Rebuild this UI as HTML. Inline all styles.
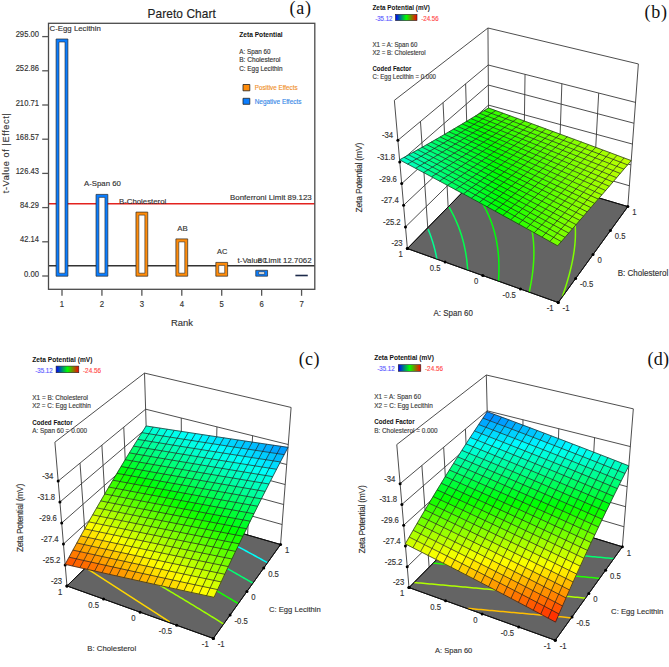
<!DOCTYPE html>
<html><head><meta charset="utf-8"><style>
html,body{margin:0;padding:0;background:#fff;width:669px;height:667px;overflow:hidden}
svg{display:block}
</style></head><body>
<svg width="669" height="667" viewBox="0 0 669 667">
<rect width="669" height="667" fill="#fff"/>
<line x1="48.5" y1="203.67" x2="314.8" y2="203.67" stroke="#e3231f" stroke-width="1.5"/>
<line x1="48.5" y1="265.69" x2="314.8" y2="265.69" stroke="#333" stroke-width="1.5"/>
<polygon points="56.1,39 67.9,39 67.9,276.2 56.1,276.2" fill="#0a7dff" stroke="#2a2a2a" stroke-width="0.7"/>
<polygon points="59,42 65,42 65,273.2 59,273.2" fill="#ffffff" stroke="#2a2a2a" stroke-width="0.6"/>
<polygon points="96.03,194.4 107.83,194.4 107.83,276.2 96.03,276.2" fill="#0a7dff" stroke="#2a2a2a" stroke-width="0.7"/>
<polygon points="98.93,197.4 104.93,197.4 104.93,273.2 98.93,273.2" fill="#ffffff" stroke="#2a2a2a" stroke-width="0.6"/>
<polygon points="135.96,212.1 147.76,212.1 147.76,276.2 135.96,276.2" fill="#ff8c0a" stroke="#2a2a2a" stroke-width="0.7"/>
<polygon points="138.86,215.1 144.86,215.1 144.86,273.2 138.86,273.2" fill="#ffffff" stroke="#2a2a2a" stroke-width="0.6"/>
<polygon points="175.89,238.9 187.69,238.9 187.69,276.2 175.89,276.2" fill="#ff8c0a" stroke="#2a2a2a" stroke-width="0.7"/>
<polygon points="178.79,241.9 184.79,241.9 184.79,273.2 178.79,273.2" fill="#ffffff" stroke="#2a2a2a" stroke-width="0.6"/>
<polygon points="215.82,262.4 227.62,262.4 227.62,276.2 215.82,276.2" fill="#ff8c0a" stroke="#2a2a2a" stroke-width="0.7"/>
<polygon points="218.72,265.4 224.72,265.4 224.72,273.2 218.72,273.2" fill="#ffffff" stroke="#2a2a2a" stroke-width="0.6"/>
<polygon points="255.75,270.3 267.55,270.3 267.55,276.2 255.75,276.2" fill="#0a7dff" stroke="#2a2a2a" stroke-width="0.7"/>
<polygon points="258.65,271.9 264.65,271.9 264.65,274.2 258.65,274.2" fill="#ffffff" stroke="#2a2a2a" stroke-width="0.6"/>
<line x1="295.38" y1="275.5" x2="307.78" y2="275.5" stroke="#1c2a4a" stroke-width="1.6"/>
<rect x="48.5" y="23.3" width="266.3" height="266" fill="none" stroke="#4a4a4a" stroke-width="1.3"/>
<line x1="42.2" y1="276" x2="48.5" y2="276" stroke="#555" stroke-width="1.3"/>
<text transform="translate(39,276.6) scale(0.94,1)" font-family="Liberation Sans, sans-serif" font-size="8.2" font-weight="normal" fill="#333" text-anchor="end" textLength="16.01" lengthAdjust="spacing" stroke="#333" stroke-width="0.15">0.00</text>
<line x1="42.2" y1="241.8" x2="48.5" y2="241.8" stroke="#555" stroke-width="1.3"/>
<text transform="translate(39,242.4) scale(0.92,1)" font-family="Liberation Sans, sans-serif" font-size="8.2" font-weight="normal" fill="#333" text-anchor="end" textLength="20.59" lengthAdjust="spacing" stroke="#333" stroke-width="0.15">42.14</text>
<line x1="42.2" y1="207.6" x2="48.5" y2="207.6" stroke="#555" stroke-width="1.3"/>
<text transform="translate(39,208.2) scale(0.92,1)" font-family="Liberation Sans, sans-serif" font-size="8.2" font-weight="normal" fill="#333" text-anchor="end" textLength="20.59" lengthAdjust="spacing" stroke="#333" stroke-width="0.15">84.29</text>
<line x1="42.2" y1="173.4" x2="48.5" y2="173.4" stroke="#555" stroke-width="1.3"/>
<text transform="translate(39,174) scale(0.93,1)" font-family="Liberation Sans, sans-serif" font-size="8.2" font-weight="normal" fill="#333" text-anchor="end" textLength="25.14" lengthAdjust="spacing" stroke="#333" stroke-width="0.15">126.43</text>
<line x1="42.2" y1="139.2" x2="48.5" y2="139.2" stroke="#555" stroke-width="1.3"/>
<text transform="translate(39,139.8) scale(0.93,1)" font-family="Liberation Sans, sans-serif" font-size="8.2" font-weight="normal" fill="#333" text-anchor="end" textLength="25.14" lengthAdjust="spacing" stroke="#333" stroke-width="0.15">168.57</text>
<line x1="42.2" y1="105" x2="48.5" y2="105" stroke="#555" stroke-width="1.3"/>
<text transform="translate(39,105.6) scale(0.93,1)" font-family="Liberation Sans, sans-serif" font-size="8.2" font-weight="normal" fill="#333" text-anchor="end" textLength="25.14" lengthAdjust="spacing" stroke="#333" stroke-width="0.15">210.71</text>
<line x1="42.2" y1="70.8" x2="48.5" y2="70.8" stroke="#555" stroke-width="1.3"/>
<text transform="translate(39,71.4) scale(0.93,1)" font-family="Liberation Sans, sans-serif" font-size="8.2" font-weight="normal" fill="#333" text-anchor="end" textLength="25.14" lengthAdjust="spacing" stroke="#333" stroke-width="0.15">252.86</text>
<line x1="42.2" y1="36.6" x2="48.5" y2="36.6" stroke="#555" stroke-width="1.3"/>
<text transform="translate(39,37.2) scale(0.93,1)" font-family="Liberation Sans, sans-serif" font-size="8.2" font-weight="normal" fill="#333" text-anchor="end" textLength="25.14" lengthAdjust="spacing" stroke="#333" stroke-width="0.15">295.00</text>
<line x1="62" y1="289.3" x2="62" y2="295.8" stroke="#555" stroke-width="1.3"/>
<text transform="translate(62,306.9) scale(0.95,1)" font-family="Liberation Sans, sans-serif" font-size="8.2" font-weight="normal" fill="#333" text-anchor="middle" stroke="#333" stroke-width="0.15">1</text>
<line x1="101.93" y1="289.3" x2="101.93" y2="295.8" stroke="#555" stroke-width="1.3"/>
<text transform="translate(101.93,306.9) scale(0.95,1)" font-family="Liberation Sans, sans-serif" font-size="8.2" font-weight="normal" fill="#333" text-anchor="middle" stroke="#333" stroke-width="0.15">2</text>
<line x1="141.86" y1="289.3" x2="141.86" y2="295.8" stroke="#555" stroke-width="1.3"/>
<text transform="translate(141.86,306.9) scale(0.95,1)" font-family="Liberation Sans, sans-serif" font-size="8.2" font-weight="normal" fill="#333" text-anchor="middle" stroke="#333" stroke-width="0.15">3</text>
<line x1="181.79" y1="289.3" x2="181.79" y2="295.8" stroke="#555" stroke-width="1.3"/>
<text transform="translate(181.79,306.9) scale(0.95,1)" font-family="Liberation Sans, sans-serif" font-size="8.2" font-weight="normal" fill="#333" text-anchor="middle" stroke="#333" stroke-width="0.15">4</text>
<line x1="221.72" y1="289.3" x2="221.72" y2="295.8" stroke="#555" stroke-width="1.3"/>
<text transform="translate(221.72,306.9) scale(0.95,1)" font-family="Liberation Sans, sans-serif" font-size="8.2" font-weight="normal" fill="#333" text-anchor="middle" stroke="#333" stroke-width="0.15">5</text>
<line x1="261.65" y1="289.3" x2="261.65" y2="295.8" stroke="#555" stroke-width="1.3"/>
<text transform="translate(261.65,306.9) scale(0.95,1)" font-family="Liberation Sans, sans-serif" font-size="8.2" font-weight="normal" fill="#333" text-anchor="middle" stroke="#333" stroke-width="0.15">6</text>
<line x1="301.58" y1="289.3" x2="301.58" y2="295.8" stroke="#555" stroke-width="1.3"/>
<text transform="translate(301.58,306.9) scale(0.95,1)" font-family="Liberation Sans, sans-serif" font-size="8.2" font-weight="normal" fill="#333" text-anchor="middle" stroke="#333" stroke-width="0.15">7</text>
<text transform="translate(147.5,17.9)" font-family="Liberation Sans, sans-serif" font-size="11.9" font-weight="normal" fill="#222" text-anchor="start" textLength="68.39" lengthAdjust="spacing" stroke="#222" stroke-width="0.15">Pareto Chart</text>
<text transform="translate(170.9,326.4) scale(0.96,1)" font-family="Liberation Sans, sans-serif" font-size="9.8" font-weight="normal" fill="#333" text-anchor="start" textLength="22.91" lengthAdjust="spacing" stroke="#333" stroke-width="0.15">Rank</text>
<text transform="translate(8.7,153.2) rotate(-90)" x="0" y="0" font-family="Liberation Sans, sans-serif" font-size="9.2" fill="#333" stroke="#333" stroke-width="0.12" text-anchor="middle" textLength="80" lengthAdjust="spacing">t-Value of |Effect|</text>
<text transform="translate(289.4,13.9)" font-family="Liberation Serif, serif" font-size="18" font-weight="normal" fill="#111" text-anchor="start" textLength="21.6" lengthAdjust="spacing">(a)</text>
<text transform="translate(49.6,30.8)" font-family="Liberation Sans, sans-serif" font-size="7.8" font-weight="normal" fill="#333" text-anchor="start" textLength="51.18" lengthAdjust="spacing" stroke="#333" stroke-width="0.15">C-Egg Lecithin</text>
<text transform="translate(84,186.4)" font-family="Liberation Sans, sans-serif" font-size="7.8" font-weight="normal" fill="#333" text-anchor="start" textLength="36.88" lengthAdjust="spacing" stroke="#333" stroke-width="0.15">A-Span 60</text>
<text transform="translate(119,203.9)" font-family="Liberation Sans, sans-serif" font-size="7.8" font-weight="normal" fill="#333" text-anchor="start" textLength="47.28" lengthAdjust="spacing" stroke="#333" stroke-width="0.15">B-Cholesterol</text>
<text transform="translate(177.2,231.2) scale(1,1)" font-family="Liberation Sans, sans-serif" font-size="7.8" font-weight="normal" fill="#333" text-anchor="start" textLength="10.41" lengthAdjust="spacing" stroke="#333" stroke-width="0.15">AB</text>
<text transform="translate(217.1,254.1) scale(0.95,1)" font-family="Liberation Sans, sans-serif" font-size="7.8" font-weight="normal" fill="#333" text-anchor="start" textLength="10.87" lengthAdjust="spacing" stroke="#333" stroke-width="0.15">AC</text>
<text transform="translate(230,199.9)" font-family="Liberation Sans, sans-serif" font-size="7.9" font-weight="normal" fill="#333" text-anchor="start" textLength="81.69" lengthAdjust="spacing" stroke="#333" stroke-width="0.15">Bonferroni Limit 89.123</text>
<text transform="translate(237.6,262.6) scale(0.99,1)" font-family="Liberation Sans, sans-serif" font-size="7.9" font-weight="normal" fill="#333" text-anchor="start" textLength="74.66" lengthAdjust="spacing" stroke="#333" stroke-width="0.15">t-Value Limit 12.7062</text>
<text transform="translate(257.7,262.9) scale(0.86,1)" font-family="Liberation Sans, sans-serif" font-size="7.8" font-weight="normal" fill="#333" text-anchor="start" textLength="10.97" lengthAdjust="spacing" stroke="#333" stroke-width="0.15">BC</text>
<text transform="translate(239.2,37.3) scale(0.92,1)" font-family="Liberation Sans, sans-serif" font-size="7.2" font-weight="bold" fill="#111" text-anchor="start" textLength="47.27" lengthAdjust="spacing">Zeta Potential</text>
<text transform="translate(239.2,54) scale(0.9,1)" font-family="Liberation Sans, sans-serif" font-size="7" font-weight="normal" fill="#333" text-anchor="start" textLength="34.72" lengthAdjust="spacing" stroke="#333" stroke-width="0.15">A: Span 60</text>
<text transform="translate(239.2,62.3) scale(0.94,1)" font-family="Liberation Sans, sans-serif" font-size="7" font-weight="normal" fill="#333" text-anchor="start" textLength="44.01" lengthAdjust="spacing" stroke="#333" stroke-width="0.15">B: Cholesterol</text>
<text transform="translate(239.2,70.6) scale(0.91,1)" font-family="Liberation Sans, sans-serif" font-size="7" font-weight="normal" fill="#333" text-anchor="start" textLength="47.54" lengthAdjust="spacing" stroke="#333" stroke-width="0.15">C: Egg Lecithin</text>
<polygon points="243,84.5 249.8,84.5 249.8,90.8 243,90.8" fill="#ff8c0a" stroke="#222" stroke-width="0.8"/>
<polygon points="243,98.3 249.8,98.3 249.8,104.3 243,104.3" fill="#0a7dff" stroke="#222" stroke-width="0.8"/>
<text transform="translate(254.7,89.8) scale(0.98,1)" font-family="Liberation Sans, sans-serif" font-size="6.4" font-weight="normal" fill="#f0902a" text-anchor="start" textLength="43.77" lengthAdjust="spacing" stroke="#f0902a" stroke-width="0.15">Positive Effects</text>
<text transform="translate(254.7,103.7)" font-family="Liberation Sans, sans-serif" font-size="6.4" font-weight="normal" fill="#3a8ae8" text-anchor="start" textLength="46.74" lengthAdjust="spacing" stroke="#3a8ae8" stroke-width="0.15">Negative Effects</text>
<line x1="394.37" y1="100.34" x2="487.96" y2="28" stroke="#3a3a3a" stroke-width="0.9"/>
<line x1="405.48" y1="226.91" x2="488.75" y2="145.22" stroke="#3a3a3a" stroke-width="0.9"/>
<line x1="403.58" y1="205.26" x2="488.62" y2="125.17" stroke="#3a3a3a" stroke-width="0.9"/>
<line x1="401.68" y1="183.61" x2="488.48" y2="105.11" stroke="#3a3a3a" stroke-width="0.9"/>
<line x1="399.78" y1="161.95" x2="488.34" y2="85.06" stroke="#3a3a3a" stroke-width="0.9"/>
<line x1="397.88" y1="140.3" x2="488.21" y2="65.01" stroke="#3a3a3a" stroke-width="0.9"/>
<line x1="427.76" y1="227.74" x2="420.46" y2="121.48" stroke="#3a3a3a" stroke-width="0.9"/>
<line x1="448.13" y1="206.92" x2="443.04" y2="102.65" stroke="#3a3a3a" stroke-width="0.9"/>
<line x1="468.51" y1="186.1" x2="465.62" y2="83.83" stroke="#3a3a3a" stroke-width="0.9"/>
<line x1="407.38" y1="248.57" x2="394.37" y2="100.34" stroke="#3a3a3a" stroke-width="0.9"/>
<line x1="488.89" y1="165.27" x2="487.96" y2="28" stroke="#3a3a3a" stroke-width="0.9"/>
<line x1="487.96" y1="28" x2="638.36" y2="63.95" stroke="#3a3a3a" stroke-width="0.9"/>
<line x1="488.75" y1="145.22" x2="629.37" y2="185.74" stroke="#3a3a3a" stroke-width="0.9"/>
<line x1="488.62" y1="125.17" x2="630.91" y2="164.9" stroke="#3a3a3a" stroke-width="0.9"/>
<line x1="488.48" y1="105.11" x2="632.44" y2="144.07" stroke="#3a3a3a" stroke-width="0.9"/>
<line x1="488.34" y1="85.06" x2="633.98" y2="123.23" stroke="#3a3a3a" stroke-width="0.9"/>
<line x1="488.21" y1="65.01" x2="635.52" y2="102.4" stroke="#3a3a3a" stroke-width="0.9"/>
<line x1="523.62" y1="175.6" x2="525.04" y2="74.35" stroke="#3a3a3a" stroke-width="0.9"/>
<line x1="558.36" y1="185.92" x2="561.87" y2="83.7" stroke="#3a3a3a" stroke-width="0.9"/>
<line x1="593.09" y1="196.25" x2="598.69" y2="93.05" stroke="#3a3a3a" stroke-width="0.9"/>
<line x1="627.83" y1="206.57" x2="638.36" y2="63.95" stroke="#3a3a3a" stroke-width="0.9"/>
<polygon points="407.38,248.57 558.2,302.54 627.83,206.57 488.89,165.27" fill="#646464" stroke="#111" stroke-width="1" stroke-linejoin="round"/>
<defs><clipPath id="fcb"><polygon points="407.38,248.57 558.2,302.54 627.83,206.57 488.89,165.27"/></clipPath></defs>
<polyline points="436.91,259.14 436.62,257.61 436.31,256.07 435.98,254.53 435.64,252.99 435.28,251.44 434.9,249.89 434.51,248.34 434.09,246.78 433.66,245.21 433.2,243.64 432.73,242.07 432.23,240.48 431.71,238.9 431.17,237.31 430.61,235.71 430.03,234.11 429.42,232.5 428.79,230.89 428.13,229.27" fill="none" stroke="#00ff91" stroke-width="1.5"/>
<polyline points="467.68,270.15 467.58,268.66 467.47,267.18 467.35,265.69 467.21,264.2 467.06,262.7 466.89,261.21 466.71,259.7 466.52,258.2 466.3,256.69 466.07,255.17 465.83,253.65 465.56,252.13 465.28,250.6 464.98,249.07 464.66,247.53 464.33,245.99 463.97,244.45 463.6,242.9 463.2,241.34 462.79,239.78 462.35,238.21 461.89,236.64 461.41,235.07 460.9,233.48 460.37,231.89 459.82,230.3 459.24,228.7 458.64,227.09 458.01,225.48 457.35,223.86 456.67,222.23 455.95,220.6 455.21,218.95 454.43,217.3 453.63,215.65 452.79,213.98 451.92,212.31 451.02,210.63 450.08,208.94 449.1,207.24" fill="none" stroke="#00ff4d" stroke-width="1.5"/>
<polyline points="498.45,281.16 498.55,279.72 498.64,278.29 498.72,276.85 498.79,275.41 498.84,273.96 498.89,272.52 498.92,271.07 498.94,269.62 498.95,268.16 498.94,266.7 498.93,265.24 498.89,263.77 498.85,262.31 498.79,260.83 498.72,259.36 498.63,257.88 498.52,256.39 498.41,254.91 498.27,253.42 498.12,251.92 497.95,250.42 497.77,248.92 497.56,247.41 497.34,245.9 497.1,244.38 496.84,242.86 496.57,241.33 496.27,239.8 495.95,238.26 495.61,236.72 495.24,235.17 494.86,233.62 494.45,232.06 494.02,230.5 493.56,228.93 493.08,227.35 492.57,225.77 492.04,224.18 491.47,222.58 490.88,220.98 490.26,219.36 489.61,217.74 488.93,216.12 488.21,214.48 487.46,212.84 486.68,211.19 485.86,209.53 485.01,207.86 484.11,206.18 483.18,204.49 482.21,202.79 481.19,201.08 480.13,199.36 479.02,197.63 477.87,195.89 476.67,194.13 475.42,192.36 474.11,190.58 472.75,188.79 471.34,186.98 469.86,185.16" fill="none" stroke="#00ff09" stroke-width="1.5"/>
<polyline points="529.22,292.17 529.51,290.78 529.8,289.4 530.08,288.01 530.36,286.62 530.62,285.23 530.88,283.83 531.13,282.43 531.36,281.04 531.59,279.63 531.81,278.23 532.02,276.83 532.23,275.42 532.42,274.01 532.6,272.6 532.77,271.18 532.93,269.76 533.08,268.34 533.21,266.92 533.34,265.49 533.45,264.06 533.55,262.63 533.64,261.19 533.72,259.75 533.78,258.31 533.83,256.87 533.87,255.42 533.89,253.97 533.9,252.51 533.89,251.05 533.86,249.59 533.82,248.12 533.77,246.65 533.69,245.17 533.6,243.69 533.5,242.21 533.37,240.72 533.22,239.22 533.06,237.73 532.87,236.22 532.67,234.71 532.44,233.2 532.19,231.68 531.92,230.15 531.62,228.62 531.3,227.09 530.96,225.54 530.59,223.99 530.19,222.44 529.76,220.87 529.31,219.3 528.82,217.73 528.31,216.14 527.76,214.55 527.18,212.95 526.57,211.34 525.92,209.72 525.23,208.09 524.51,206.45 523.74,204.81 522.94,203.15 522.09,201.48 521.19,199.8 520.26,198.11 519.27,196.41 518.23,194.7 517.14,192.97 515.99,191.23 514.79,189.47 513.53,187.7 512.2,185.91 510.81,184.11 509.35,182.29 507.82,180.46 506.22,178.6 504.53,176.73 502.77,174.83 500.92,172.92 498.97,170.98 496.93,169.01 494.79,167.03" fill="none" stroke="#3bff00" stroke-width="1.5"/>
<polyline points="562.4,296.49 562.87,295.14 563.33,293.8 563.79,292.46 564.24,291.11 564.68,289.76 565.12,288.41 565.56,287.06 565.98,285.71 566.4,284.36 566.82,283 567.23,281.65 567.63,280.29 568.02,278.93 568.41,277.56 568.78,276.2 569.16,274.84 569.52,273.47 569.87,272.1 570.22,270.73 570.56,269.35 570.89,267.98 571.21,266.6 571.52,265.22 571.83,263.84 572.12,262.45 572.4,261.06 572.68,259.67 572.94,258.28 573.19,256.88 573.43,255.49 573.66,254.09 573.87,252.68 574.08,251.27 574.27,249.86 574.45,248.45 574.62,247.03 574.77,245.61 574.91,244.19 575.03,242.76 575.14,241.33 575.23,239.9 575.31,238.46 575.37,237.02 575.41,235.57 575.43,234.12 575.44,232.66 575.43,231.2 575.39,229.73 575.34,228.26 575.26,226.79 575.17,225.31 575.05,223.82 574.9,222.32 574.73,220.82 574.54,219.32 574.32,217.81 574.07,216.29 573.79,214.76 573.48,213.23 573.14,211.68 572.77,210.13 572.36,208.58 571.92,207.01 571.44,205.43 570.92,203.85 570.36,202.25 569.76,200.64 569.11,199.03 568.42,197.4 567.67,195.75 566.88,194.1 566.03,192.43 565.13,190.75 564.16,189.05 563.14,187.34" fill="none" stroke="#7fff00" stroke-width="1.5"/>
<polygon points="407.38,248.57 558.2,302.54 627.83,206.57 488.89,165.27" fill="none" stroke="#111" stroke-width="1" stroke-linejoin="round"/>
<circle cx="407.38" cy="248.57" r="1.5" fill="#000"/>
<circle cx="627.83" cy="206.57" r="1.5" fill="#000"/>
<circle cx="445.09" cy="262.06" r="1.5" fill="#000"/>
<circle cx="610.42" cy="230.56" r="1.5" fill="#000"/>
<circle cx="482.79" cy="275.55" r="1.5" fill="#000"/>
<circle cx="593.02" cy="254.56" r="1.5" fill="#000"/>
<circle cx="520.5" cy="289.05" r="1.5" fill="#000"/>
<circle cx="575.61" cy="278.55" r="1.5" fill="#000"/>
<circle cx="558.2" cy="302.54" r="1.5" fill="#000"/>
<circle cx="558.2" cy="302.54" r="1.5" fill="#000"/>
<circle cx="407.38" cy="248.57" r="1.5" fill="#000"/>
<circle cx="405.48" cy="226.91" r="1.5" fill="#000"/>
<circle cx="403.58" cy="205.26" r="1.5" fill="#000"/>
<circle cx="401.68" cy="183.61" r="1.5" fill="#000"/>
<circle cx="399.78" cy="161.95" r="1.5" fill="#000"/>
<circle cx="397.88" cy="140.3" r="1.5" fill="#000"/>
<g stroke-width="0.45" stroke-linejoin="round">
<polygon points="491.38,113.34 484.16,110.65 488.5,107.97 495.69,110.57" fill="#32ff00" stroke="#32ff00"/>
<polygon points="498.6,116.03 491.38,113.34 495.69,110.57 502.87,113.18" fill="#3aff00" stroke="#3aff00"/>
<polygon points="487.07,116.09 479.81,113.33 484.16,110.65 491.38,113.34" fill="#25ff00" stroke="#25ff00"/>
<polygon points="505.82,118.72 498.6,116.03 502.87,113.18 510.05,115.8" fill="#41ff00" stroke="#41ff00"/>
<polygon points="494.33,118.86 487.07,116.09 491.38,113.34 498.6,116.03" fill="#2dff00" stroke="#2dff00"/>
<polygon points="482.75,118.84 475.44,116 479.81,113.33 487.07,116.09" fill="#19ff00" stroke="#19ff00"/>
<polygon points="513.03,121.41 505.82,118.72 510.05,115.8 517.22,118.41" fill="#48ff00" stroke="#48ff00"/>
<polygon points="501.58,121.63 494.33,118.86 498.6,116.03 505.82,118.72" fill="#35ff00" stroke="#35ff00"/>
<polygon points="490.04,121.69 482.75,118.84 487.07,116.09 494.33,118.86" fill="#21ff00" stroke="#21ff00"/>
<polygon points="478.41,121.58 471.07,118.65 475.44,116 482.75,118.84" fill="#0cff00" stroke="#0cff00"/>
<polygon points="520.23,124.11 513.03,121.41 517.22,118.41 524.39,121.03" fill="#4fff00" stroke="#4fff00"/>
<polygon points="508.83,124.4 501.58,121.63 505.82,118.72 513.03,121.41" fill="#3cff00" stroke="#3cff00"/>
<polygon points="497.33,124.54 490.04,121.69 494.33,118.86 501.58,121.63" fill="#29ff00" stroke="#29ff00"/>
<polygon points="485.75,124.5 478.41,121.58 482.75,118.84 490.04,121.69" fill="#14ff00" stroke="#14ff00"/>
<polygon points="474.06,124.3 466.68,121.3 471.07,118.65 478.41,121.58" fill="#00ff01" stroke="#00ff01"/>
<polygon points="527.43,126.81 520.23,124.11 524.39,121.03 531.55,123.65" fill="#56ff00" stroke="#56ff00"/>
<polygon points="516.07,127.18 508.83,124.4 513.03,121.41 520.23,124.11" fill="#44ff00" stroke="#44ff00"/>
<polygon points="504.62,127.39 497.33,124.54 501.58,121.63 508.83,124.4" fill="#31ff00" stroke="#31ff00"/>
<polygon points="493.08,127.43 485.75,124.5 490.04,121.69 497.33,124.54" fill="#1dff00" stroke="#1dff00"/>
<polygon points="481.44,127.31 474.06,124.3 478.41,121.58 485.75,124.5" fill="#08ff00" stroke="#08ff00"/>
<polygon points="469.71,127.02 462.29,123.94 466.68,121.3 474.06,124.3" fill="#00ff0e" stroke="#00ff0e"/>
<polygon points="511.89,130.24 504.62,127.39 508.83,124.4 516.07,127.18" fill="#39ff00" stroke="#39ff00"/>
<polygon points="500.4,130.36 493.08,127.43 497.33,124.54 504.62,127.39" fill="#25ff00" stroke="#25ff00"/>
<polygon points="488.81,130.32 481.44,127.31 485.75,124.5 493.08,127.43" fill="#11ff00" stroke="#11ff00"/>
<polygon points="534.62,129.51 527.43,126.81 531.55,123.65 538.7,126.27" fill="#5dff00" stroke="#5dff00"/>
<polygon points="523.3,129.96 516.07,127.18 520.23,124.11 527.43,126.81" fill="#4cff00" stroke="#4cff00"/>
<polygon points="477.12,130.11 469.71,127.02 474.06,124.3 481.44,127.31" fill="#00ff05" stroke="#00ff05"/>
<polygon points="465.34,129.73 457.88,126.57 462.29,123.94 469.71,127.02" fill="#00ff1b" stroke="#00ff1b"/>
<polygon points="507.71,133.3 500.4,130.36 504.62,127.39 511.89,130.24" fill="#2eff00" stroke="#2eff00"/>
<polygon points="496.17,133.33 488.81,130.32 493.08,127.43 500.4,130.36" fill="#1aff00" stroke="#1aff00"/>
<polygon points="541.8,132.22 534.62,129.51 538.7,126.27 545.85,128.9" fill="#65ff00" stroke="#65ff00"/>
<polygon points="530.53,132.74 523.3,129.96 527.43,126.81 534.62,129.51" fill="#53ff00" stroke="#53ff00"/>
<polygon points="519.16,133.1 511.89,130.24 516.07,127.18 523.3,129.96" fill="#41ff00" stroke="#41ff00"/>
<polygon points="484.53,133.2 477.12,130.11 481.44,127.31 488.81,130.32" fill="#05ff00" stroke="#05ff00"/>
<polygon points="472.8,132.9 465.34,129.73 469.71,127.02 477.12,130.11" fill="#00ff11" stroke="#00ff11"/>
<polygon points="460.96,132.43 453.46,129.18 457.88,126.57 465.34,129.73" fill="#00ff28" stroke="#00ff28"/>
<polygon points="548.98,134.92 541.8,132.22 545.85,128.9 553,131.53" fill="#6cff00" stroke="#6cff00"/>
<polygon points="537.75,135.53 530.53,132.74 534.62,129.51 541.8,132.22" fill="#5bff00" stroke="#5bff00"/>
<polygon points="526.43,135.97 519.16,133.1 523.3,129.96 530.53,132.74" fill="#49ff00" stroke="#49ff00"/>
<polygon points="515.02,136.24 507.71,133.3 511.89,130.24 519.16,133.1" fill="#37ff00" stroke="#37ff00"/>
<polygon points="503.52,136.35 496.17,133.33 500.4,130.36 507.71,133.3" fill="#23ff00" stroke="#23ff00"/>
<polygon points="491.93,136.29 484.53,133.2 488.81,130.32 496.17,133.33" fill="#0fff00" stroke="#0fff00"/>
<polygon points="480.24,136.07 472.8,132.9 477.12,130.11 484.53,133.2" fill="#00ff07" stroke="#00ff07"/>
<polygon points="468.46,135.68 460.96,132.43 465.34,129.73 472.8,132.9" fill="#00ff1e" stroke="#00ff1e"/>
<polygon points="456.58,135.12 449.03,131.79 453.46,129.18 460.96,132.43" fill="#00ff35" stroke="#00ff35"/>
<polygon points="556.16,137.63 548.98,134.92 553,131.53 560.13,134.16" fill="#73ff00" stroke="#73ff00"/>
<polygon points="544.96,138.31 537.75,135.53 541.8,132.22 548.98,134.92" fill="#63ff00" stroke="#63ff00"/>
<polygon points="533.69,138.83 526.43,135.97 530.53,132.74 537.75,135.53" fill="#52ff00" stroke="#52ff00"/>
<polygon points="522.32,139.18 515.02,136.24 519.16,133.1 526.43,135.97" fill="#3fff00" stroke="#3fff00"/>
<polygon points="510.87,139.37 503.52,136.35 507.71,133.3 515.02,136.24" fill="#2cff00" stroke="#2cff00"/>
<polygon points="499.32,139.39 491.93,136.29 496.17,133.33 503.52,136.35" fill="#18ff00" stroke="#18ff00"/>
<polygon points="487.68,139.24 480.24,136.07 484.53,133.2 491.93,136.29" fill="#03ff00" stroke="#03ff00"/>
<polygon points="475.95,138.93 468.46,135.68 472.8,132.9 480.24,136.07" fill="#00ff13" stroke="#00ff13"/>
<polygon points="464.11,138.45 456.58,135.12 460.96,132.43 468.46,135.68" fill="#00ff2a" stroke="#00ff2a"/>
<polygon points="452.18,137.8 444.59,134.39 449.03,131.79 456.58,135.12" fill="#00ff42" stroke="#00ff42"/>
<polygon points="552.17,141.1 544.96,138.31 548.98,134.92 556.16,137.63" fill="#6aff00" stroke="#6aff00"/>
<polygon points="540.94,141.7 533.69,138.83 537.75,135.53 544.96,138.31" fill="#5aff00" stroke="#5aff00"/>
<polygon points="529.61,142.13 522.32,139.18 526.43,135.97 533.69,138.83" fill="#48ff00" stroke="#48ff00"/>
<polygon points="518.21,142.39 510.87,139.37 515.02,136.24 522.32,139.18" fill="#35ff00" stroke="#35ff00"/>
<polygon points="495.11,142.42 487.68,139.24 491.93,136.29 499.32,139.39" fill="#0dff00" stroke="#0dff00"/>
<polygon points="483.43,142.18 475.95,138.93 480.24,136.07 487.68,139.24" fill="#00ff08" stroke="#00ff08"/>
<polygon points="471.64,141.78 464.11,138.45 468.46,135.68 475.95,138.93" fill="#00ff1f" stroke="#00ff1f"/>
<polygon points="459.76,141.21 452.18,137.8 456.58,135.12 464.11,138.45" fill="#00ff36" stroke="#00ff36"/>
<polygon points="563.32,140.35 556.16,137.63 560.13,134.16 567.27,136.79" fill="#7aff00" stroke="#7aff00"/>
<polygon points="506.71,142.49 499.32,139.39 503.52,136.35 510.87,139.37" fill="#22ff00" stroke="#22ff00"/>
<polygon points="447.77,140.47 440.14,136.98 444.59,134.39 452.18,137.8" fill="#00ff4f" stroke="#00ff4f"/>
<polygon points="570.49,143.06 563.32,140.35 567.27,136.79 574.4,139.43" fill="#81ff00" stroke="#81ff00"/>
<polygon points="559.37,143.9 552.17,141.1 556.16,137.63 563.32,140.35" fill="#72ff00" stroke="#72ff00"/>
<polygon points="548.18,144.57 540.94,141.7 544.96,138.31 552.17,141.1" fill="#62ff00" stroke="#62ff00"/>
<polygon points="536.9,145.08 529.61,142.13 533.69,138.83 540.94,141.7" fill="#51ff00" stroke="#51ff00"/>
<polygon points="525.54,145.42 518.21,142.39 522.32,139.18 529.61,142.13" fill="#3eff00" stroke="#3eff00"/>
<polygon points="490.9,145.44 483.43,142.18 487.68,139.24 495.11,142.42" fill="#02ff00" stroke="#02ff00"/>
<polygon points="479.16,145.12 471.64,141.78 475.95,138.93 483.43,142.18" fill="#00ff14" stroke="#00ff14"/>
<polygon points="467.33,144.62 459.76,141.21 464.11,138.45 471.64,141.78" fill="#00ff2b" stroke="#00ff2b"/>
<polygon points="455.39,143.96 447.77,140.47 452.18,137.8 459.76,141.21" fill="#00ff43" stroke="#00ff43"/>
<polygon points="443.35,143.13 435.68,139.55 440.14,136.98 447.77,140.47" fill="#00ff5c" stroke="#00ff5c"/>
<polygon points="514.08,145.59 506.71,142.49 510.87,139.37 518.21,142.39" fill="#2bff00" stroke="#2bff00"/>
<polygon points="502.54,145.6 495.11,142.42 499.32,139.39 506.71,142.49" fill="#17ff00" stroke="#17ff00"/>
<polygon points="544.18,148.03 536.9,145.08 540.94,141.7 548.18,144.57" fill="#59ff00" stroke="#59ff00"/>
<polygon points="532.86,148.45 525.54,145.42 529.61,142.13 536.9,145.08" fill="#48ff00" stroke="#48ff00"/>
<polygon points="486.67,148.46 479.16,145.12 483.43,142.18 490.9,145.44" fill="#00ff09" stroke="#00ff09"/>
<polygon points="474.89,148.04 467.33,144.62 471.64,141.78 479.16,145.12" fill="#00ff1f" stroke="#00ff1f"/>
<polygon points="577.64,145.78 570.49,143.06 574.4,139.43 581.52,142.06" fill="#88ff00" stroke="#88ff00"/>
<polygon points="566.57,146.69 559.37,143.9 563.32,140.35 570.49,143.06" fill="#7aff00" stroke="#7aff00"/>
<polygon points="555.42,147.44 548.18,144.57 552.17,141.1 559.37,143.9" fill="#6aff00" stroke="#6aff00"/>
<polygon points="521.45,148.7 514.08,145.59 518.21,142.39 525.54,145.42" fill="#35ff00" stroke="#35ff00"/>
<polygon points="509.95,148.79 502.54,145.6 506.71,142.49 514.08,145.59" fill="#21ff00" stroke="#21ff00"/>
<polygon points="498.36,148.7 490.9,145.44 495.11,142.42 502.54,145.6" fill="#0dff00" stroke="#0dff00"/>
<polygon points="463,147.45 455.39,143.96 459.76,141.21 467.33,144.62" fill="#00ff37" stroke="#00ff37"/>
<polygon points="451.01,146.7 443.35,143.13 447.77,140.47 455.39,143.96" fill="#00ff4f" stroke="#00ff4f"/>
<polygon points="438.92,145.78 431.21,142.12 435.68,139.55 443.35,143.13" fill="#00ff69" stroke="#00ff69"/>
<polygon points="562.65,150.32 555.42,147.44 559.37,143.9 566.57,146.69" fill="#72ff00" stroke="#72ff00"/>
<polygon points="551.45,150.98 544.18,148.03 548.18,144.57 555.42,147.44" fill="#62ff00" stroke="#62ff00"/>
<polygon points="540.18,151.48 532.86,148.45 536.9,145.08 544.18,148.03" fill="#51ff00" stroke="#51ff00"/>
<polygon points="482.44,151.46 474.89,148.04 479.16,145.12 486.67,148.46" fill="#00ff14" stroke="#00ff14"/>
<polygon points="470.6,150.96 463,147.45 467.33,144.62 474.89,148.04" fill="#00ff2b" stroke="#00ff2b"/>
<polygon points="458.66,150.28 451.01,146.7 455.39,143.96 463,147.45" fill="#00ff43" stroke="#00ff43"/>
<polygon points="573.76,149.49 566.57,146.69 570.49,143.06 577.64,145.78" fill="#81ff00" stroke="#81ff00"/>
<polygon points="528.81,151.81 521.45,148.7 525.54,145.42 532.86,148.45" fill="#3fff00" stroke="#3fff00"/>
<polygon points="517.36,151.98 509.95,148.79 514.08,145.59 521.45,148.7" fill="#2bff00" stroke="#2bff00"/>
<polygon points="505.81,151.97 498.36,148.7 502.54,145.6 509.95,148.79" fill="#17ff00" stroke="#17ff00"/>
<polygon points="494.17,151.8 486.67,148.46 490.9,145.44 498.36,148.7" fill="#02ff00" stroke="#02ff00"/>
<polygon points="446.63,149.43 438.92,145.78 443.35,143.13 451.01,146.7" fill="#00ff5c" stroke="#00ff5c"/>
<polygon points="584.79,148.5 577.64,145.78 581.52,142.06 588.64,144.7" fill="#90ff00" stroke="#90ff00"/>
<polygon points="434.48,148.42 426.72,144.68 431.21,142.12 438.92,145.78" fill="#00ff76" stroke="#00ff76"/>
<polygon points="569.87,153.2 562.65,150.32 566.57,146.69 573.76,149.49" fill="#7aff00" stroke="#7aff00"/>
<polygon points="558.72,153.94 551.45,150.98 555.42,147.44 562.65,150.32" fill="#6bff00" stroke="#6bff00"/>
<polygon points="547.49,154.52 540.18,151.48 544.18,148.03 551.45,150.98" fill="#5aff00" stroke="#5aff00"/>
<polygon points="536.16,154.93 528.81,151.81 532.86,148.45 540.18,151.48" fill="#48ff00" stroke="#48ff00"/>
<polygon points="524.76,155.17 517.36,151.98 521.45,148.7 528.81,151.81" fill="#36ff00" stroke="#36ff00"/>
<polygon points="513.26,155.24 505.81,151.97 509.95,148.79 517.36,151.98" fill="#22ff00" stroke="#22ff00"/>
<polygon points="501.66,155.15 494.17,151.8 498.36,148.7 505.81,151.97" fill="#0dff00" stroke="#0dff00"/>
<polygon points="489.98,154.89 482.44,151.46 486.67,148.46 494.17,151.8" fill="#00ff08" stroke="#00ff08"/>
<polygon points="478.19,154.46 470.6,150.96 474.89,148.04 482.44,151.46" fill="#00ff1f" stroke="#00ff1f"/>
<polygon points="466.31,153.86 458.66,150.28 463,147.45 470.6,150.96" fill="#00ff36" stroke="#00ff36"/>
<polygon points="454.32,153.1 446.63,149.43 451.01,146.7 458.66,150.28" fill="#00ff4f" stroke="#00ff4f"/>
<polygon points="591.94,151.23 584.79,148.5 588.64,144.7 595.75,147.35" fill="#97ff00" stroke="#97ff00"/>
<polygon points="580.94,152.3 573.76,149.49 577.64,145.78 584.79,148.5" fill="#89ff00" stroke="#89ff00"/>
<polygon points="442.23,152.16 434.48,148.42 438.92,145.78 446.63,149.43" fill="#00ff68" stroke="#00ff68"/>
<polygon points="430.03,151.05 422.23,147.23 426.72,144.68 434.48,148.42" fill="#00ff83" stroke="#00ff83"/>
<polygon points="554.79,157.56 547.49,154.52 551.45,150.98 558.72,153.94" fill="#63ff00" stroke="#63ff00"/>
<polygon points="473.94,157.45 466.31,153.86 470.6,150.96 478.19,154.46" fill="#00ff2a" stroke="#00ff2a"/>
<polygon points="565.98,156.9 558.72,153.94 562.65,150.32 569.87,153.2" fill="#73ff00" stroke="#73ff00"/>
<polygon points="532.15,158.37 524.76,155.17 528.81,151.81 536.16,154.93" fill="#40ff00" stroke="#40ff00"/>
<polygon points="520.69,158.52 513.26,155.24 517.36,151.98 524.76,155.17" fill="#2cff00" stroke="#2cff00"/>
<polygon points="509.15,158.51 501.66,155.15 505.81,151.97 513.26,155.24" fill="#18ff00" stroke="#18ff00"/>
<polygon points="497.51,158.32 489.98,154.89 494.17,151.8 501.66,155.15" fill="#03ff00" stroke="#03ff00"/>
<polygon points="462,156.76 454.32,153.1 458.66,150.28 466.31,153.86" fill="#00ff42" stroke="#00ff42"/>
<polygon points="588.12,155.1 580.94,152.3 584.79,148.5 591.94,151.23" fill="#91ff00" stroke="#91ff00"/>
<polygon points="577.09,156.08 569.87,153.2 573.76,149.49 580.94,152.3" fill="#82ff00" stroke="#82ff00"/>
<polygon points="543.51,158.04 536.16,154.93 540.18,151.48 547.49,154.52" fill="#52ff00" stroke="#52ff00"/>
<polygon points="485.77,157.97 478.19,154.46 482.44,151.46 489.98,154.89" fill="#00ff13" stroke="#00ff13"/>
<polygon points="449.96,155.9 442.23,152.16 446.63,149.43 454.32,153.1" fill="#00ff5b" stroke="#00ff5b"/>
<polygon points="437.82,154.87 430.03,151.05 434.48,148.42 442.23,152.16" fill="#00ff75" stroke="#00ff75"/>
<polygon points="599.08,153.95 591.94,151.23 595.75,147.35 602.85,149.99" fill="#9eff00" stroke="#9eff00"/>
<polygon points="425.57,153.67 417.72,149.77 422.23,147.23 430.03,151.05" fill="#00ff90" stroke="#00ff90"/>
<polygon points="606.21,156.68 599.08,153.95 602.85,149.99 609.95,152.64" fill="#a5ff00" stroke="#a5ff00"/>
<polygon points="562.08,160.6 554.79,157.56 558.72,153.94 565.98,156.9" fill="#6cff00" stroke="#6cff00"/>
<polygon points="528.12,161.8 520.69,158.52 524.76,155.17 532.15,158.37" fill="#37ff00" stroke="#37ff00"/>
<polygon points="516.62,161.86 509.15,158.51 513.26,155.24 520.69,158.52" fill="#23ff00" stroke="#23ff00"/>
<polygon points="505.03,161.76 497.51,158.32 501.66,155.15 509.15,158.51" fill="#0fff00" stroke="#0fff00"/>
<polygon points="469.68,160.44 462,156.76 466.31,153.86 473.94,157.45" fill="#00ff35" stroke="#00ff35"/>
<polygon points="421.1,156.28 413.2,152.29 417.72,149.77 425.57,153.67" fill="#00ff9d" stroke="#00ff9d"/>
<polygon points="584.3,158.97 577.09,156.08 580.94,152.3 588.12,155.1" fill="#8aff00" stroke="#8aff00"/>
<polygon points="573.23,159.87 565.98,156.9 569.87,153.2 577.09,156.08" fill="#7cff00" stroke="#7cff00"/>
<polygon points="550.85,161.17 543.51,158.04 547.49,154.52 554.79,157.56" fill="#5bff00" stroke="#5bff00"/>
<polygon points="539.53,161.57 532.15,158.37 536.16,154.93 543.51,158.04" fill="#4aff00" stroke="#4aff00"/>
<polygon points="493.34,161.49 485.77,157.97 489.98,154.89 497.51,158.32" fill="#00ff07" stroke="#00ff07"/>
<polygon points="481.56,161.05 473.94,157.45 478.19,154.46 485.77,157.97" fill="#00ff1d" stroke="#00ff1d"/>
<polygon points="457.69,159.65 449.96,155.9 454.32,153.1 462,156.76" fill="#00ff4d" stroke="#00ff4d"/>
<polygon points="445.6,158.7 437.82,154.87 442.23,152.16 449.96,155.9" fill="#00ff67" stroke="#00ff67"/>
<polygon points="595.29,157.91 588.12,155.1 591.94,151.23 599.08,153.95" fill="#98ff00" stroke="#98ff00"/>
<polygon points="433.4,157.58 425.57,153.67 430.03,151.05 437.82,154.87" fill="#00ff81" stroke="#00ff81"/>
<polygon points="602.46,160.72 595.29,157.91 599.08,153.95 606.21,156.68" fill="#a0ff00" stroke="#a0ff00"/>
<polygon points="524.09,165.23 516.62,161.86 520.69,158.52 528.12,161.8" fill="#2fff00" stroke="#2fff00"/>
<polygon points="512.54,165.2 505.03,161.76 509.15,158.51 516.62,161.86" fill="#1aff00" stroke="#1aff00"/>
<polygon points="428.97,160.27 421.1,156.28 425.57,153.67 433.4,157.58" fill="#00ff8e" stroke="#00ff8e"/>
<polygon points="580.48,162.84 573.23,159.87 577.09,156.08 584.3,158.97" fill="#84ff00" stroke="#84ff00"/>
<polygon points="569.37,163.65 562.08,160.6 565.98,156.9 573.23,159.87" fill="#75ff00" stroke="#75ff00"/>
<polygon points="546.9,164.77 539.53,161.57 543.51,158.04 550.85,161.17" fill="#54ff00" stroke="#54ff00"/>
<polygon points="535.54,165.08 528.12,161.8 532.15,158.37 539.53,161.57" fill="#42ff00" stroke="#42ff00"/>
<polygon points="500.91,165.01 493.34,161.49 497.51,158.32 505.03,161.76" fill="#05ff00" stroke="#05ff00"/>
<polygon points="489.17,164.65 481.56,161.05 485.77,157.97 493.34,161.49" fill="#00ff11" stroke="#00ff11"/>
<polygon points="465.41,163.41 457.69,159.65 462,156.76 469.68,160.44" fill="#00ff40" stroke="#00ff40"/>
<polygon points="453.37,162.54 445.6,158.7 449.96,155.9 457.69,159.65" fill="#00ff59" stroke="#00ff59"/>
<polygon points="613.33,159.41 606.21,156.68 609.95,152.64 617.05,155.29" fill="#acff00" stroke="#acff00"/>
<polygon points="591.51,161.86 584.3,158.97 588.12,155.1 595.29,157.91" fill="#93ff00" stroke="#93ff00"/>
<polygon points="558.18,164.29 550.85,161.17 554.79,157.56 562.08,160.6" fill="#65ff00" stroke="#65ff00"/>
<polygon points="477.34,164.11 469.68,160.44 473.94,157.45 481.56,161.05" fill="#00ff28" stroke="#00ff28"/>
<polygon points="441.23,161.49 433.4,157.58 437.82,154.87 445.6,158.7" fill="#00ff73" stroke="#00ff73"/>
<polygon points="416.61,158.88 408.68,154.81 413.2,152.29 421.1,156.28" fill="#00ffaa" stroke="#00ffaa"/>
<polygon points="598.7,164.75 591.51,161.86 595.29,157.91 602.46,160.72" fill="#9bff00" stroke="#9bff00"/>
<polygon points="520.05,168.65 512.54,165.2 516.62,161.86 524.09,165.23" fill="#26ff00" stroke="#26ff00"/>
<polygon points="436.84,164.27 428.97,160.27 433.4,157.58 441.23,161.49" fill="#00ff7f" stroke="#00ff7f"/>
<polygon points="576.65,166.7 569.37,163.65 573.23,159.87 580.48,162.84" fill="#7eff00" stroke="#7eff00"/>
<polygon points="542.95,168.37 535.54,165.08 539.53,161.57 546.9,164.77" fill="#4cff00" stroke="#4cff00"/>
<polygon points="531.54,168.59 524.09,165.23 528.12,161.8 535.54,165.08" fill="#3aff00" stroke="#3aff00"/>
<polygon points="508.46,168.53 500.91,165.01 505.03,161.76 512.54,165.2" fill="#11ff00" stroke="#11ff00"/>
<polygon points="496.77,168.25 489.17,164.65 493.34,161.49 500.91,165.01" fill="#00ff04" stroke="#00ff04"/>
<polygon points="461.13,166.38 453.37,162.54 457.69,159.65 465.41,163.41" fill="#00ff4b" stroke="#00ff4b"/>
<polygon points="609.62,163.53 602.46,160.72 606.21,156.68 613.33,159.41" fill="#a8ff00" stroke="#a8ff00"/>
<polygon points="587.71,165.81 580.48,162.84 584.3,158.97 591.51,161.86" fill="#8dff00" stroke="#8dff00"/>
<polygon points="554.27,167.98 546.9,164.77 550.85,161.17 558.18,164.29" fill="#5eff00" stroke="#5eff00"/>
<polygon points="484.99,167.8 477.34,164.11 481.56,161.05 489.17,164.65" fill="#00ff1b" stroke="#00ff1b"/>
<polygon points="449.04,165.41 441.23,161.49 445.6,158.7 453.37,162.54" fill="#00ff64" stroke="#00ff64"/>
<polygon points="424.54,162.96 416.61,158.88 421.1,156.28 428.97,160.27" fill="#00ff9a" stroke="#00ff9a"/>
<polygon points="565.5,167.42 558.18,164.29 562.08,160.6 569.37,163.65" fill="#6fff00" stroke="#6fff00"/>
<polygon points="473.11,167.17 465.41,163.41 469.68,160.44 477.34,164.11" fill="#00ff32" stroke="#00ff32"/>
<polygon points="620.46,162.15 613.33,159.41 617.05,155.29 624.14,157.95" fill="#b3ff00" stroke="#b3ff00"/>
<polygon points="412.12,161.48 404.14,157.32 408.68,154.81 416.61,158.88" fill="#00ffb7" stroke="#00ffb7"/>
<polygon points="594.95,168.78 587.71,165.81 591.51,161.86 598.7,164.75" fill="#96ff00" stroke="#96ff00"/>
<polygon points="444.7,168.28 436.84,164.27 441.23,161.49 449.04,165.41" fill="#00ff70" stroke="#00ff70"/>
<polygon points="538.99,171.96 531.54,168.59 535.54,165.08 542.95,168.37" fill="#45ff00" stroke="#45ff00"/>
<polygon points="527.54,172.1 520.05,168.65 524.09,165.23 531.54,168.59" fill="#32ff00" stroke="#32ff00"/>
<polygon points="516,172.06 508.46,168.53 512.54,165.2 520.05,168.65" fill="#1dff00" stroke="#1dff00"/>
<polygon points="504.36,171.86 496.77,168.25 500.91,165.01 508.46,168.53" fill="#08ff00" stroke="#08ff00"/>
<polygon points="627.57,164.89 620.46,162.15 624.14,157.95 631.22,160.6" fill="#bbff00" stroke="#bbff00"/>
<polygon points="605.9,167.65 598.7,164.75 602.46,160.72 609.62,163.53" fill="#a3ff00" stroke="#a3ff00"/>
<polygon points="583.92,169.75 576.65,166.7 580.48,162.84 587.71,165.81" fill="#87ff00" stroke="#87ff00"/>
<polygon points="550.35,171.66 542.95,168.37 546.9,164.77 554.27,167.98" fill="#57ff00" stroke="#57ff00"/>
<polygon points="492.63,171.48 484.99,167.8 489.17,164.65 496.77,168.25" fill="#00ff0e" stroke="#00ff0e"/>
<polygon points="456.84,169.34 449.04,165.41 453.37,162.54 461.13,166.38" fill="#00ff56" stroke="#00ff56"/>
<polygon points="432.45,167.04 424.54,162.96 428.97,160.27 436.84,164.27" fill="#00ff8b" stroke="#00ff8b"/>
<polygon points="407.62,164.06 399.59,159.82 404.14,157.32 412.12,161.48" fill="#00ffc3" stroke="#00ffc3"/>
<polygon points="572.81,170.55 565.5,167.42 569.37,163.65 576.65,166.7" fill="#78ff00" stroke="#78ff00"/>
<polygon points="561.62,171.19 554.27,167.98 558.18,164.29 565.5,167.42" fill="#68ff00" stroke="#68ff00"/>
<polygon points="480.8,170.94 473.11,167.17 477.34,164.11 484.99,167.8" fill="#00ff25" stroke="#00ff25"/>
<polygon points="468.87,170.22 461.13,166.38 465.41,163.41 473.11,167.17" fill="#00ff3d" stroke="#00ff3d"/>
<polygon points="616.77,166.35 609.62,163.53 613.33,159.41 620.46,162.15" fill="#afff00" stroke="#afff00"/>
<polygon points="420.09,165.64 412.12,161.48 416.61,158.88 424.54,162.96" fill="#00ffa7" stroke="#00ffa7"/>
<polygon points="591.18,172.81 583.92,169.75 587.71,165.81 594.95,168.78" fill="#91ff00" stroke="#91ff00"/>
<polygon points="452.54,172.29 444.7,168.28 449.04,165.41 456.84,169.34" fill="#00ff61" stroke="#00ff61"/>
<polygon points="535.03,175.55 527.54,172.1 531.54,168.59 538.99,171.96" fill="#3dff00" stroke="#3dff00"/>
<polygon points="511.95,175.47 504.36,171.86 508.46,168.53 516,172.06" fill="#15ff00" stroke="#15ff00"/>
<polygon points="623.92,169.17 616.77,166.35 620.46,162.15 627.57,164.89" fill="#b7ff00" stroke="#b7ff00"/>
<polygon points="602.17,171.76 594.95,168.78 598.7,164.75 605.9,167.65" fill="#9eff00" stroke="#9eff00"/>
<polygon points="546.43,175.34 538.99,171.96 542.95,168.37 550.35,171.66" fill="#50ff00" stroke="#50ff00"/>
<polygon points="523.53,175.59 516,172.06 520.05,168.65 527.54,172.1" fill="#29ff00" stroke="#29ff00"/>
<polygon points="500.26,175.17 492.63,171.48 496.77,168.25 504.36,171.86" fill="#00ff01" stroke="#00ff01"/>
<polygon points="440.35,171.13 432.45,167.04 436.84,164.27 444.7,168.28" fill="#00ff7b" stroke="#00ff7b"/>
<polygon points="415.63,168.31 407.62,164.06 412.12,161.48 420.09,165.64" fill="#00ffb3" stroke="#00ffb3"/>
<polygon points="568.97,174.41 561.62,171.19 565.5,167.42 572.81,170.55" fill="#72ff00" stroke="#72ff00"/>
<polygon points="557.74,174.96 550.35,171.66 554.27,167.98 561.62,171.19" fill="#61ff00" stroke="#61ff00"/>
<polygon points="488.49,174.71 480.8,170.94 484.99,167.8 492.63,171.48" fill="#00ff17" stroke="#00ff17"/>
<polygon points="476.61,174.07 468.87,170.22 473.11,167.17 480.8,170.94" fill="#00ff2f" stroke="#00ff2f"/>
<polygon points="613.08,170.55 605.9,167.65 609.62,163.53 616.77,166.35" fill="#abff00" stroke="#abff00"/>
<polygon points="580.12,173.69 572.81,170.55 576.65,166.7 583.92,169.75" fill="#82ff00" stroke="#82ff00"/>
<polygon points="464.63,173.27 456.84,169.34 461.13,166.38 468.87,170.22" fill="#00ff47" stroke="#00ff47"/>
<polygon points="428.04,169.81 420.09,165.64 424.54,162.96 432.45,167.04" fill="#00ff97" stroke="#00ff97"/>
<polygon points="620.26,173.45 613.08,170.55 616.77,166.35 623.92,169.17" fill="#b3ff00" stroke="#b3ff00"/>
<polygon points="598.44,175.87 591.18,172.81 594.95,168.78 602.17,171.76" fill="#9aff00" stroke="#9aff00"/>
<polygon points="587.42,176.83 580.12,173.69 583.92,169.75 591.18,172.81" fill="#8bff00" stroke="#8bff00"/>
<polygon points="542.5,179.01 535.03,175.55 538.99,171.96 546.43,175.34" fill="#49ff00" stroke="#49ff00"/>
<polygon points="531.06,179.13 523.53,175.59 527.54,172.1 535.03,175.55" fill="#36ff00" stroke="#36ff00"/>
<polygon points="519.52,179.09 511.95,175.47 516,172.06 523.53,175.59" fill="#21ff00" stroke="#21ff00"/>
<polygon points="507.89,178.87 500.26,175.17 504.36,171.86 511.95,175.47" fill="#0cff00" stroke="#0cff00"/>
<polygon points="460.37,176.3 452.54,172.29 456.84,169.34 464.63,173.27" fill="#00ff52" stroke="#00ff52"/>
<polygon points="448.23,175.23 440.35,171.13 444.7,168.28 452.54,172.29" fill="#00ff6c" stroke="#00ff6c"/>
<polygon points="423.63,172.56 415.63,168.31 420.09,165.64 428.04,169.81" fill="#00ffa3" stroke="#00ffa3"/>
<polygon points="565.13,178.26 557.74,174.96 561.62,171.19 568.97,174.41" fill="#6cff00" stroke="#6cff00"/>
<polygon points="553.86,178.72 546.43,175.34 550.35,171.66 557.74,174.96" fill="#5bff00" stroke="#5bff00"/>
<polygon points="496.16,178.49 488.49,174.71 492.63,171.48 500.26,175.17" fill="#00ff0a" stroke="#00ff0a"/>
<polygon points="484.33,177.93 476.61,174.07 480.8,170.94 488.49,174.71" fill="#00ff21" stroke="#00ff21"/>
<polygon points="609.39,174.74 602.17,171.76 605.9,167.65 613.08,170.55" fill="#a7ff00" stroke="#a7ff00"/>
<polygon points="576.31,177.63 568.97,174.41 572.81,170.55 580.12,173.69" fill="#7cff00" stroke="#7cff00"/>
<polygon points="472.4,177.2 464.63,173.27 468.87,170.22 476.61,174.07" fill="#00ff39" stroke="#00ff39"/>
<polygon points="435.99,173.98 428.04,169.81 432.45,167.04 440.35,171.13" fill="#00ff87" stroke="#00ff87"/>
<polygon points="616.6,177.73 609.39,174.74 613.08,170.55 620.26,173.45" fill="#b0ff00" stroke="#b0ff00"/>
<polygon points="583.65,180.85 576.31,177.63 580.12,173.69 587.42,176.83" fill="#86ff00" stroke="#86ff00"/>
<polygon points="527.08,182.71 519.52,179.09 523.53,175.59 531.06,179.13" fill="#2eff00" stroke="#2eff00"/>
<polygon points="468.19,180.32 460.37,176.3 464.63,173.27 472.4,177.2" fill="#00ff43" stroke="#00ff43"/>
<polygon points="431.62,176.82 423.63,172.56 428.04,169.81 435.99,173.98" fill="#00ff92" stroke="#00ff92"/>
<polygon points="561.28,182.1 553.86,178.72 557.74,174.96 565.13,178.26" fill="#66ff00" stroke="#66ff00"/>
<polygon points="549.97,182.47 542.5,179.01 546.43,175.34 553.86,178.72" fill="#54ff00" stroke="#54ff00"/>
<polygon points="538.57,182.67 531.06,179.13 535.03,175.55 542.5,179.01" fill="#42ff00" stroke="#42ff00"/>
<polygon points="515.5,182.57 507.89,178.87 511.95,175.47 519.52,179.09" fill="#19ff00" stroke="#19ff00"/>
<polygon points="503.82,182.27 496.16,178.49 500.26,175.17 507.89,178.87" fill="#04ff00" stroke="#04ff00"/>
<polygon points="492.04,181.79 484.33,177.93 488.49,174.71 496.16,178.49" fill="#00ff13" stroke="#00ff13"/>
<polygon points="605.69,178.93 598.44,175.87 602.17,171.76 609.39,174.74" fill="#a3ff00" stroke="#a3ff00"/>
<polygon points="594.71,179.98 587.42,176.83 591.18,172.81 598.44,175.87" fill="#95ff00" stroke="#95ff00"/>
<polygon points="572.5,181.56 565.13,178.26 568.97,174.41 576.31,177.63" fill="#77ff00" stroke="#77ff00"/>
<polygon points="480.17,181.14 472.4,177.2 476.61,174.07 484.33,177.93" fill="#00ff2a" stroke="#00ff2a"/>
<polygon points="456.11,179.33 448.23,175.23 452.54,172.29 460.37,176.3" fill="#00ff5c" stroke="#00ff5c"/>
<polygon points="443.92,178.16 435.99,173.98 440.35,171.13 448.23,175.23" fill="#00ff77" stroke="#00ff77"/>
<polygon points="612.93,182 605.69,178.93 609.39,174.74 616.6,177.73" fill="#acff00" stroke="#acff00"/>
<polygon points="579.87,184.87 572.5,181.56 576.31,177.63 583.65,180.85" fill="#81ff00" stroke="#81ff00"/>
<polygon points="476,184.35 468.19,180.32 472.4,177.2 480.17,181.14" fill="#00ff34" stroke="#00ff34"/>
<polygon points="439.59,181.09 431.62,176.82 435.99,173.98 443.92,178.16" fill="#00ff82" stroke="#00ff82"/>
<polygon points="557.43,185.94 549.97,182.47 553.86,178.72 561.28,182.1" fill="#60ff00" stroke="#60ff00"/>
<polygon points="534.63,186.34 527.08,182.71 531.06,179.13 538.57,182.67" fill="#3aff00" stroke="#3aff00"/>
<polygon points="523.1,186.28 515.5,182.57 519.52,179.09 527.08,182.71" fill="#26ff00" stroke="#26ff00"/>
<polygon points="499.74,185.66 492.04,181.79 496.16,178.49 503.82,182.27" fill="#00ff05" stroke="#00ff05"/>
<polygon points="590.97,184.08 583.65,180.85 587.42,176.83 594.71,179.98" fill="#90ff00" stroke="#90ff00"/>
<polygon points="568.69,185.49 561.28,182.1 565.13,178.26 572.5,181.56" fill="#71ff00" stroke="#71ff00"/>
<polygon points="546.07,186.22 538.57,182.67 542.5,179.01 549.97,182.47" fill="#4eff00" stroke="#4eff00"/>
<polygon points="511.47,186.05 503.82,182.27 507.89,178.87 515.5,182.57" fill="#11ff00" stroke="#11ff00"/>
<polygon points="487.92,185.09 480.17,181.14 484.33,177.93 492.04,181.79" fill="#00ff1c" stroke="#00ff1c"/>
<polygon points="463.97,183.43 456.11,179.33 460.37,176.3 468.19,180.32" fill="#00ff4d" stroke="#00ff4d"/>
<polygon points="601.99,183.12 594.71,179.98 598.44,175.87 605.69,178.93" fill="#9fff00" stroke="#9fff00"/>
<polygon points="451.84,182.35 443.92,178.16 448.23,175.23 456.11,179.33" fill="#00ff67" stroke="#00ff67"/>
<polygon points="576.09,188.88 568.69,185.49 572.5,181.56 579.87,184.87" fill="#7cff00" stroke="#7cff00"/>
<polygon points="483.79,188.38 476,184.35 480.17,181.14 487.92,185.09" fill="#00ff25" stroke="#00ff25"/>
<polygon points="609.27,186.27 601.99,183.12 605.69,178.93 612.93,182" fill="#a8ff00" stroke="#a8ff00"/>
<polygon points="587.23,188.18 579.87,184.87 583.65,180.85 590.97,184.08" fill="#8cff00" stroke="#8cff00"/>
<polygon points="564.87,189.41 557.43,185.94 561.28,182.1 568.69,185.49" fill="#6bff00" stroke="#6bff00"/>
<polygon points="553.57,189.77 546.07,186.22 549.97,182.47 557.43,185.94" fill="#5aff00" stroke="#5aff00"/>
<polygon points="542.17,189.97 534.63,186.34 538.57,182.67 546.07,186.22" fill="#47ff00" stroke="#47ff00"/>
<polygon points="530.69,189.99 523.1,186.28 527.08,182.71 534.63,186.34" fill="#33ff00" stroke="#33ff00"/>
<polygon points="519.11,189.85 511.47,186.05 515.5,182.57 523.1,186.28" fill="#1fff00" stroke="#1fff00"/>
<polygon points="507.43,189.53 499.74,185.66 503.82,182.27 511.47,186.05" fill="#09ff00" stroke="#09ff00"/>
<polygon points="495.66,189.04 487.92,185.09 492.04,181.79 499.74,185.66" fill="#00ff0d" stroke="#00ff0d"/>
<polygon points="471.82,187.55 463.97,183.43 468.19,180.32 476,184.35" fill="#00ff3d" stroke="#00ff3d"/>
<polygon points="447.56,185.36 439.59,181.09 443.92,178.16 451.84,182.35" fill="#00ff71" stroke="#00ff71"/>
<polygon points="598.29,187.31 590.97,184.08 594.71,179.98 601.99,183.12" fill="#9aff00" stroke="#9aff00"/>
<polygon points="459.74,186.54 451.84,182.35 456.11,179.33 463.97,183.43" fill="#00ff57" stroke="#00ff57"/>
<polygon points="572.31,192.88 564.87,189.41 568.69,185.49 576.09,188.88" fill="#77ff00" stroke="#77ff00"/>
<polygon points="491.58,192.42 483.79,188.38 487.92,185.09 495.66,189.04" fill="#00ff16" stroke="#00ff16"/>
<polygon points="605.6,190.54 598.29,187.31 601.99,183.12 609.27,186.27" fill="#a5ff00" stroke="#a5ff00"/>
<polygon points="583.49,192.27 576.09,188.88 579.87,184.87 587.23,188.18" fill="#87ff00" stroke="#87ff00"/>
<polygon points="549.7,193.6 542.17,189.97 546.07,186.22 553.57,189.77" fill="#54ff00" stroke="#54ff00"/>
<polygon points="515.11,193.41 507.43,189.53 511.47,186.05 519.11,189.85" fill="#17ff00" stroke="#17ff00"/>
<polygon points="479.66,191.66 471.82,187.55 476,184.35 483.79,188.38" fill="#00ff2e" stroke="#00ff2e"/>
<polygon points="455.5,189.64 447.56,185.36 451.84,182.35 459.74,186.54" fill="#00ff61" stroke="#00ff61"/>
<polygon points="594.58,191.49 587.23,188.18 590.97,184.08 598.29,187.31" fill="#96ff00" stroke="#96ff00"/>
<polygon points="561.05,193.33 553.57,189.77 557.43,185.94 564.87,189.41" fill="#66ff00" stroke="#66ff00"/>
<polygon points="538.27,193.71 530.69,189.99 534.63,186.34 542.17,189.97" fill="#40ff00" stroke="#40ff00"/>
<polygon points="526.74,193.64 519.11,189.85 523.1,186.28 530.69,189.99" fill="#2cff00" stroke="#2cff00"/>
<polygon points="503.39,193 495.66,189.04 499.74,185.66 507.43,189.53" fill="#01ff00" stroke="#01ff00"/>
<polygon points="467.63,190.74 459.74,186.54 463.97,183.43 471.82,187.55" fill="#00ff47" stroke="#00ff47"/>
<polygon points="601.92,194.81 594.58,191.49 598.29,187.31 605.6,190.54" fill="#a1ff00" stroke="#a1ff00"/>
<polygon points="579.74,196.36 572.31,192.88 576.09,188.88 583.49,192.27" fill="#82ff00" stroke="#82ff00"/>
<polygon points="568.53,196.89 561.05,193.33 564.87,189.41 572.31,192.88" fill="#72ff00" stroke="#72ff00"/>
<polygon points="557.22,197.24 549.7,193.6 553.57,189.77 561.05,193.33" fill="#60ff00" stroke="#60ff00"/>
<polygon points="545.83,197.43 538.27,193.71 542.17,189.97 549.7,193.6" fill="#4dff00" stroke="#4dff00"/>
<polygon points="522.78,197.29 515.11,193.41 519.11,189.85 526.74,193.64" fill="#25ff00" stroke="#25ff00"/>
<polygon points="511.11,196.96 503.39,193 507.43,189.53 515.11,193.41" fill="#10ff00" stroke="#10ff00"/>
<polygon points="499.35,196.46 491.58,192.42 495.66,189.04 503.39,193" fill="#00ff07" stroke="#00ff07"/>
<polygon points="487.48,195.79 479.66,191.66 483.79,188.38 491.58,192.42" fill="#00ff1e" stroke="#00ff1e"/>
<polygon points="463.44,193.92 455.5,189.64 459.74,186.54 467.63,190.74" fill="#00ff50" stroke="#00ff50"/>
<polygon points="590.87,195.67 583.49,192.27 587.23,188.18 594.58,191.49" fill="#92ff00" stroke="#92ff00"/>
<polygon points="534.35,197.44 526.74,193.64 530.69,189.99 538.27,193.71" fill="#3aff00" stroke="#3aff00"/>
<polygon points="475.51,194.94 467.63,190.74 471.82,187.55 479.66,191.66" fill="#00ff37" stroke="#00ff37"/>
<polygon points="564.73,200.89 557.22,197.24 561.05,193.33 568.53,196.89" fill="#6dff00" stroke="#6dff00"/>
<polygon points="507.11,200.51 499.35,196.46 503.39,193 511.11,196.96" fill="#08ff00" stroke="#08ff00"/>
<polygon points="598.25,199.08 590.87,195.67 594.58,191.49 601.92,194.81" fill="#9dff00" stroke="#9dff00"/>
<polygon points="471.36,198.21 463.44,193.92 467.63,190.74 475.51,194.94" fill="#00ff40" stroke="#00ff40"/>
<polygon points="587.16,199.85 579.74,196.36 583.49,192.27 590.87,195.67" fill="#8eff00" stroke="#8eff00"/>
<polygon points="575.99,200.45 568.53,196.89 572.31,192.88 579.74,196.36" fill="#7eff00" stroke="#7eff00"/>
<polygon points="553.39,201.16 545.83,197.43 549.7,193.6 557.22,197.24" fill="#5aff00" stroke="#5aff00"/>
<polygon points="541.96,201.25 534.35,197.44 538.27,193.71 545.83,197.43" fill="#47ff00" stroke="#47ff00"/>
<polygon points="530.44,201.18 522.78,197.29 526.74,193.64 534.35,197.44" fill="#33ff00" stroke="#33ff00"/>
<polygon points="518.82,200.93 511.11,196.96 515.11,193.41 522.78,197.29" fill="#1eff00" stroke="#1eff00"/>
<polygon points="495.29,199.92 487.48,195.79 491.58,192.42 499.35,196.46" fill="#00ff0f" stroke="#00ff0f"/>
<polygon points="483.38,199.15 475.51,194.94 479.66,191.66 487.48,195.79" fill="#00ff27" stroke="#00ff27"/>
<polygon points="594.57,203.34 587.16,199.85 590.87,195.67 598.25,199.08" fill="#9aff00" stroke="#9aff00"/>
<polygon points="572.24,204.54 564.73,200.89 568.53,196.89 575.99,200.45" fill="#79ff00" stroke="#79ff00"/>
<polygon points="560.94,204.89 553.39,201.16 557.22,197.24 564.73,200.89" fill="#67ff00" stroke="#67ff00"/>
<polygon points="514.85,204.56 507.11,200.51 511.11,196.96 518.82,200.93" fill="#17ff00" stroke="#17ff00"/>
<polygon points="503.09,204.05 495.29,199.92 499.35,196.46 507.11,200.51" fill="#01ff00" stroke="#01ff00"/>
<polygon points="479.27,202.51 471.36,198.21 475.51,194.94 483.38,199.15" fill="#00ff2f" stroke="#00ff2f"/>
<polygon points="538.08,205.07 530.44,201.18 534.35,197.44 541.96,201.25" fill="#41ff00" stroke="#41ff00"/>
<polygon points="583.44,204.02 575.99,200.45 579.74,196.36 587.16,199.85" fill="#8aff00" stroke="#8aff00"/>
<polygon points="549.56,205.06 541.96,201.25 545.83,197.43 553.39,201.16" fill="#55ff00" stroke="#55ff00"/>
<polygon points="526.51,204.9 518.82,200.93 522.78,197.29 530.44,201.18" fill="#2dff00" stroke="#2dff00"/>
<polygon points="491.23,203.37 483.38,199.15 487.48,195.79 495.29,199.92" fill="#00ff17" stroke="#00ff17"/>
<polygon points="590.89,207.6 583.44,204.02 587.16,199.85 594.57,203.34" fill="#96ff00" stroke="#96ff00"/>
<polygon points="579.73,208.19 572.24,204.54 575.99,200.45 583.44,204.02" fill="#86ff00" stroke="#86ff00"/>
<polygon points="568.48,208.62 560.94,204.89 564.73,200.89 572.24,204.54" fill="#75ff00" stroke="#75ff00"/>
<polygon points="557.14,208.88 549.56,205.06 553.39,201.16 560.94,204.89" fill="#62ff00" stroke="#62ff00"/>
<polygon points="545.72,208.97 538.08,205.07 541.96,201.25 549.56,205.06" fill="#4fff00" stroke="#4fff00"/>
<polygon points="534.2,208.88 526.51,204.9 530.44,201.18 538.08,205.07" fill="#3bff00" stroke="#3bff00"/>
<polygon points="522.59,208.62 514.85,204.56 518.82,200.93 526.51,204.9" fill="#26ff00" stroke="#26ff00"/>
<polygon points="510.88,208.19 503.09,204.05 507.11,200.51 514.85,204.56" fill="#10ff00" stroke="#10ff00"/>
<polygon points="499.07,207.59 491.23,203.37 495.29,199.92 503.09,204.05" fill="#00ff07" stroke="#00ff07"/>
<polygon points="487.17,206.81 479.27,202.51 483.38,199.15 491.23,203.37" fill="#00ff1f" stroke="#00ff1f"/>
<polygon points="587.21,211.85 579.73,208.19 583.44,204.02 590.89,207.6" fill="#92ff00" stroke="#92ff00"/>
<polygon points="553.34,212.87 545.72,208.97 549.56,205.06 557.14,208.88" fill="#5dff00" stroke="#5dff00"/>
<polygon points="530.31,212.69 522.59,208.62 526.51,204.9 534.2,208.88" fill="#35ff00" stroke="#35ff00"/>
<polygon points="495.05,211.12 487.17,206.81 491.23,203.37 499.07,207.59" fill="#00ff0f" stroke="#00ff0f"/>
<polygon points="576,212.36 568.48,208.62 572.24,204.54 579.73,208.19" fill="#82ff00" stroke="#82ff00"/>
<polygon points="564.72,212.7 557.14,208.88 560.94,204.89 568.48,208.62" fill="#70ff00" stroke="#70ff00"/>
<polygon points="541.87,212.86 534.2,208.88 538.08,205.07 545.72,208.97" fill="#4aff00" stroke="#4aff00"/>
<polygon points="518.65,212.34 510.88,208.19 514.85,204.56 522.59,208.62" fill="#1fff00" stroke="#1fff00"/>
<polygon points="506.9,211.82 499.07,207.59 503.09,204.05 510.88,208.19" fill="#09ff00" stroke="#09ff00"/>
<polygon points="583.52,216.11 576,212.36 579.73,208.19 587.21,211.85" fill="#8fff00" stroke="#8fff00"/>
<polygon points="560.95,216.78 553.34,212.87 557.14,208.88 564.72,212.7" fill="#6bff00" stroke="#6bff00"/>
<polygon points="549.53,216.85 541.87,212.86 545.72,208.97 553.34,212.87" fill="#58ff00" stroke="#58ff00"/>
<polygon points="538.02,216.76 530.31,212.69 534.2,208.88 541.87,212.86" fill="#44ff00" stroke="#44ff00"/>
<polygon points="526.42,216.49 518.65,212.34 522.59,208.62 530.31,212.69" fill="#2fff00" stroke="#2fff00"/>
<polygon points="502.92,215.44 495.05,211.12 499.07,207.59 506.9,211.82" fill="#02ff00" stroke="#02ff00"/>
<polygon points="572.28,216.53 564.72,212.7 568.48,208.62 576,212.36" fill="#7dff00" stroke="#7dff00"/>
<polygon points="514.72,216.05 506.9,211.82 510.88,208.19 518.65,212.34" fill="#19ff00" stroke="#19ff00"/>
<polygon points="545.72,220.84 538.02,216.76 541.87,212.86 549.53,216.85" fill="#53ff00" stroke="#53ff00"/>
<polygon points="579.83,220.36 572.28,216.53 576,212.36 583.52,216.11" fill="#8bff00" stroke="#8bff00"/>
<polygon points="568.55,220.69 560.95,216.78 564.72,212.7 572.28,216.53" fill="#79ff00" stroke="#79ff00"/>
<polygon points="557.18,220.85 549.53,216.85 553.34,212.87 560.95,216.78" fill="#67ff00" stroke="#67ff00"/>
<polygon points="534.17,220.65 526.42,216.49 530.31,212.69 538.02,216.76" fill="#3eff00" stroke="#3eff00"/>
<polygon points="522.52,220.29 514.72,216.05 518.65,212.34 526.42,216.49" fill="#29ff00" stroke="#29ff00"/>
<polygon points="510.77,219.76 502.92,215.44 506.9,211.82 514.72,216.05" fill="#12ff00" stroke="#12ff00"/>
<polygon points="576.14,224.61 568.55,220.69 572.28,216.53 579.83,220.36" fill="#87ff00" stroke="#87ff00"/>
<polygon points="553.41,224.92 545.72,220.84 549.53,216.85 557.18,220.85" fill="#62ff00" stroke="#62ff00"/>
<polygon points="541.91,224.81 534.17,220.65 538.02,216.76 545.72,220.84" fill="#4eff00" stroke="#4eff00"/>
<polygon points="518.62,224.09 510.77,219.76 514.72,216.05 522.52,220.29" fill="#23ff00" stroke="#23ff00"/>
<polygon points="564.82,224.85 557.18,220.85 560.95,216.78 568.55,220.69" fill="#75ff00" stroke="#75ff00"/>
<polygon points="530.31,224.54 522.52,220.29 526.42,216.49 534.17,220.65" fill="#39ff00" stroke="#39ff00"/>
<polygon points="572.44,228.86 564.82,224.85 568.55,220.69 576.14,224.61" fill="#84ff00" stroke="#84ff00"/>
<polygon points="561.08,229.01 553.41,224.92 557.18,220.85 564.82,224.85" fill="#71ff00" stroke="#71ff00"/>
<polygon points="549.63,228.98 541.91,224.81 545.72,220.84 553.41,224.92" fill="#5dff00" stroke="#5dff00"/>
<polygon points="538.09,228.79 530.31,224.54 534.17,220.65 541.91,224.81" fill="#49ff00" stroke="#49ff00"/>
<polygon points="526.45,228.42 518.62,224.09 522.52,220.29 530.31,224.54" fill="#33ff00" stroke="#33ff00"/>
<polygon points="568.75,233.1 561.08,229.01 564.82,224.85 572.44,228.86" fill="#80ff00" stroke="#80ff00"/>
<polygon points="534.26,232.76 526.45,228.42 530.31,224.54 538.09,228.79" fill="#44ff00" stroke="#44ff00"/>
<polygon points="557.34,233.16 549.63,228.98 553.41,224.92 561.08,229.01" fill="#6dff00" stroke="#6dff00"/>
<polygon points="545.85,233.05 538.09,228.79 541.91,224.81 549.63,228.98" fill="#59ff00" stroke="#59ff00"/>
<polygon points="565.05,237.34 557.34,233.16 561.08,229.01 568.75,233.1" fill="#7cff00" stroke="#7cff00"/>
<polygon points="542.07,237.11 534.26,232.76 538.09,228.79 545.85,233.05" fill="#54ff00" stroke="#54ff00"/>
<polygon points="553.6,237.31 545.85,233.05 549.63,228.98 557.34,233.16" fill="#69ff00" stroke="#69ff00"/>
<polygon points="561.34,241.58 553.6,237.31 557.34,233.16 565.05,237.34" fill="#79ff00" stroke="#79ff00"/>
<polygon points="549.86,241.46 542.07,237.11 545.85,233.05 553.6,237.31" fill="#64ff00" stroke="#64ff00"/>
<polygon points="557.64,245.82 549.86,241.46 553.6,237.31 561.34,241.58" fill="#75ff00" stroke="#75ff00"/>
</g>
<g fill="none" stroke="#1e1e1e" stroke-width="0.7" stroke-linejoin="round">
<polyline points="557.64,245.82 565.05,237.34 572.44,228.86 579.83,220.36 587.21,211.85 594.57,203.34 601.92,194.81 609.27,186.27 616.6,177.73 623.92,169.17 631.22,160.6"/>
<polyline points="557.64,245.82 542.07,237.11 526.45,228.42 510.77,219.76 495.05,211.12 479.27,202.51 463.44,193.92 447.56,185.36 431.62,176.82 415.63,168.31 399.59,159.82"/>
<polyline points="549.86,241.46 557.34,233.16 564.82,224.85 572.28,216.53 579.73,208.19 587.16,199.85 594.58,191.49 601.99,183.12 609.39,174.74 616.77,166.35 624.14,157.95"/>
<polyline points="561.34,241.58 545.85,233.05 530.31,224.54 514.72,216.05 499.07,207.59 483.38,199.15 467.63,190.74 451.84,182.35 435.99,173.98 420.09,165.64 404.14,157.32"/>
<polyline points="542.07,237.11 549.63,228.98 557.18,220.85 564.72,212.7 572.24,204.54 579.74,196.36 587.23,188.18 594.71,179.98 602.17,171.76 609.62,163.53 617.05,155.29"/>
<polyline points="565.05,237.34 549.63,228.98 534.17,220.65 518.65,212.34 503.09,204.05 487.48,195.79 471.82,187.55 456.11,179.33 440.35,171.13 424.54,162.96 408.68,154.81"/>
<polyline points="534.26,232.76 541.91,224.81 549.53,216.85 557.14,208.88 564.73,200.89 572.31,192.88 579.87,184.87 587.42,176.83 594.95,168.78 602.46,160.72 609.95,152.64"/>
<polyline points="568.75,233.1 553.41,224.92 538.02,216.76 522.59,208.62 507.11,200.51 491.58,192.42 476,184.35 460.37,176.3 444.7,168.28 428.97,160.27 413.2,152.29"/>
<polyline points="526.45,228.42 534.17,220.65 541.87,212.86 549.56,205.06 557.22,197.24 564.87,189.41 572.5,181.56 580.12,173.69 587.71,165.81 595.29,157.91 602.85,149.99"/>
<polyline points="572.44,228.86 557.18,220.85 541.87,212.86 526.51,204.9 511.11,196.96 495.66,189.04 480.17,181.14 464.63,173.27 449.04,165.41 433.4,157.58 417.72,149.77"/>
<polyline points="518.62,224.09 526.42,216.49 534.2,208.88 541.96,201.25 549.7,193.6 557.43,185.94 565.13,178.26 572.81,170.55 580.48,162.84 588.12,155.1 595.75,147.35"/>
<polyline points="576.14,224.61 560.95,216.78 545.72,208.97 530.44,201.18 515.11,193.41 499.74,185.66 484.33,177.93 468.87,170.22 453.37,162.54 437.82,154.87 422.23,147.23"/>
<polyline points="510.77,219.76 518.65,212.34 526.51,204.9 534.35,197.44 542.17,189.97 549.97,182.47 557.74,174.96 565.5,167.42 573.23,159.87 580.94,152.3 588.64,144.7"/>
<polyline points="579.83,220.36 564.72,212.7 549.56,205.06 534.35,197.44 519.11,189.85 503.82,182.27 488.49,174.71 473.11,167.17 457.69,159.65 442.23,152.16 426.72,144.68"/>
<polyline points="502.92,215.44 510.88,208.19 518.82,200.93 526.74,193.64 534.63,186.34 542.5,179.01 550.35,171.66 558.18,164.29 565.98,156.9 573.76,149.49 581.52,142.06"/>
<polyline points="583.52,216.11 568.48,208.62 553.39,201.16 538.27,193.71 523.1,186.28 507.89,178.87 492.63,171.48 477.34,164.11 462,156.76 446.63,149.43 431.21,142.12"/>
<polyline points="495.05,211.12 503.09,204.05 511.11,196.96 519.11,189.85 527.08,182.71 535.03,175.55 542.95,168.37 550.85,161.17 558.72,153.94 566.57,146.69 574.4,139.43"/>
<polyline points="587.21,211.85 572.24,204.54 557.22,197.24 542.17,189.97 527.08,182.71 511.95,175.47 496.77,168.25 481.56,161.05 466.31,153.86 451.01,146.7 435.68,139.55"/>
<polyline points="487.17,206.81 495.29,199.92 503.39,193 511.47,186.05 519.52,179.09 527.54,172.1 535.54,165.08 543.51,158.04 551.45,150.98 559.37,143.9 567.27,136.79"/>
<polyline points="590.89,207.6 575.99,200.45 561.05,193.33 546.07,186.22 531.06,179.13 516,172.06 500.91,165.01 485.77,157.97 470.6,150.96 455.39,143.96 440.14,136.98"/>
<polyline points="479.27,202.51 487.48,195.79 495.66,189.04 503.82,182.27 511.95,175.47 520.05,168.65 528.12,161.8 536.16,154.93 544.18,148.03 552.17,141.1 560.13,134.16"/>
<polyline points="594.57,203.34 579.74,196.36 564.87,189.41 549.97,182.47 535.03,175.55 520.05,168.65 505.03,161.76 489.98,154.89 474.89,148.04 459.76,141.21 444.59,134.39"/>
<polyline points="471.36,198.21 479.66,191.66 487.92,185.09 496.16,178.49 504.36,171.86 512.54,165.2 520.69,158.52 528.81,151.81 536.9,145.08 544.96,138.31 553,131.53"/>
<polyline points="598.25,199.08 583.49,192.27 568.69,185.49 553.86,178.72 538.99,171.96 524.09,165.23 509.15,158.51 494.17,151.8 479.16,145.12 464.11,138.45 449.03,131.79"/>
<polyline points="463.44,193.92 471.82,187.55 480.17,181.14 488.49,174.71 496.77,168.25 505.03,161.76 513.26,155.24 521.45,148.7 529.61,142.13 537.75,135.53 545.85,128.9"/>
<polyline points="601.92,194.81 587.23,188.18 572.5,181.56 557.74,174.96 542.95,168.37 528.12,161.8 513.26,155.24 498.36,148.7 483.43,142.18 468.46,135.68 453.46,129.18"/>
<polyline points="455.5,189.64 463.97,183.43 472.4,177.2 480.8,170.94 489.17,164.65 497.51,158.32 505.81,151.97 514.08,145.59 522.32,139.18 530.53,132.74 538.7,126.27"/>
<polyline points="605.6,190.54 590.97,184.08 576.31,177.63 561.62,171.19 546.9,164.77 532.15,158.37 517.36,151.98 502.54,145.6 487.68,139.24 472.8,132.9 457.88,126.57"/>
<polyline points="447.56,185.36 456.11,179.33 464.63,173.27 473.11,167.17 481.56,161.05 489.98,154.89 498.36,148.7 506.71,142.49 515.02,136.24 523.3,129.96 531.55,123.65"/>
<polyline points="609.27,186.27 594.71,179.98 580.12,173.69 565.5,167.42 550.85,161.17 536.16,154.93 521.45,148.7 506.71,142.49 491.93,136.29 477.12,130.11 462.29,123.94"/>
<polyline points="439.59,181.09 448.23,175.23 456.84,169.34 465.41,163.41 473.94,157.45 482.44,151.46 490.9,145.44 499.32,139.39 507.71,133.3 516.07,127.18 524.39,121.03"/>
<polyline points="612.93,182 598.44,175.87 583.92,169.75 569.37,163.65 554.79,157.56 540.18,151.48 525.54,145.42 510.87,139.37 496.17,133.33 481.44,127.31 466.68,121.3"/>
<polyline points="431.62,176.82 440.35,171.13 449.04,165.41 457.69,159.65 466.31,153.86 474.89,148.04 483.43,142.18 491.93,136.29 500.4,130.36 508.83,124.4 517.22,118.41"/>
<polyline points="616.6,177.73 602.17,171.76 587.71,165.81 573.23,159.87 558.72,153.94 544.18,148.03 529.61,142.13 515.02,136.24 500.4,130.36 485.75,124.5 471.07,118.65"/>
<polyline points="423.63,172.56 432.45,167.04 441.23,161.49 449.96,155.9 458.66,150.28 467.33,144.62 475.95,138.93 484.53,133.2 493.08,127.43 501.58,121.63 510.05,115.8"/>
<polyline points="620.26,173.45 605.9,167.65 591.51,161.86 577.09,156.08 562.65,150.32 548.18,144.57 533.69,138.83 519.16,133.1 504.62,127.39 490.04,121.69 475.44,116"/>
<polyline points="415.63,168.31 424.54,162.96 433.4,157.58 442.23,152.16 451.01,146.7 459.76,141.21 468.46,135.68 477.12,130.11 485.75,124.5 494.33,118.86 502.87,113.18"/>
<polyline points="623.92,169.17 609.62,163.53 595.29,157.91 580.94,152.3 566.57,146.69 552.17,141.1 537.75,135.53 523.3,129.96 508.83,124.4 494.33,118.86 479.81,113.33"/>
<polyline points="407.62,164.06 416.61,158.88 425.57,153.67 434.48,148.42 443.35,143.13 452.18,137.8 460.96,132.43 469.71,127.02 478.41,121.58 487.07,116.09 495.69,110.57"/>
<polyline points="627.57,164.89 613.33,159.41 599.08,153.95 584.79,148.5 570.49,143.06 556.16,137.63 541.8,132.22 527.43,126.81 513.03,121.41 498.6,116.03 484.16,110.65"/>
<polyline points="399.59,159.82 408.68,154.81 417.72,149.77 426.72,144.68 435.68,139.55 444.59,134.39 453.46,129.18 462.29,123.94 471.07,118.65 479.81,113.33 488.5,107.97"/>
<polyline points="631.22,160.6 617.05,155.29 602.85,149.99 588.64,144.7 574.4,139.43 560.13,134.16 545.85,128.9 531.55,123.65 517.22,118.41 502.87,113.18 488.5,107.97"/>
</g>
<text transform="translate(402.58,246.46) scale(0.92,1)" font-family="Liberation Sans, sans-serif" font-size="8.4" font-weight="normal" fill="#333" text-anchor="end" stroke="#333" stroke-width="0.15">-23</text>
<text transform="translate(400.68,224.8) scale(0.92,1)" font-family="Liberation Sans, sans-serif" font-size="8.4" font-weight="normal" fill="#333" text-anchor="end" stroke="#333" stroke-width="0.15">-25.2</text>
<text transform="translate(398.78,203.15) scale(0.92,1)" font-family="Liberation Sans, sans-serif" font-size="8.4" font-weight="normal" fill="#333" text-anchor="end" stroke="#333" stroke-width="0.15">-27.4</text>
<text transform="translate(396.88,181.5) scale(0.92,1)" font-family="Liberation Sans, sans-serif" font-size="8.4" font-weight="normal" fill="#333" text-anchor="end" stroke="#333" stroke-width="0.15">-29.6</text>
<text transform="translate(394.98,159.84) scale(0.92,1)" font-family="Liberation Sans, sans-serif" font-size="8.4" font-weight="normal" fill="#333" text-anchor="end" stroke="#333" stroke-width="0.15">-31.8</text>
<text transform="translate(393.08,138.19) scale(0.92,1)" font-family="Liberation Sans, sans-serif" font-size="8.4" font-weight="normal" fill="#333" text-anchor="end" stroke="#333" stroke-width="0.15">-34</text>
<text transform="translate(402.78,257.46) scale(0.92,1)" font-family="Liberation Sans, sans-serif" font-size="8.4" font-weight="normal" fill="#333" text-anchor="end" stroke="#333" stroke-width="0.15">1</text>
<text transform="translate(632.23,215.46) scale(0.92,1)" font-family="Liberation Sans, sans-serif" font-size="8.4" font-weight="normal" fill="#333" text-anchor="start" stroke="#333" stroke-width="0.15">1</text>
<text transform="translate(440.49,270.95) scale(0.92,1)" font-family="Liberation Sans, sans-serif" font-size="8.4" font-weight="normal" fill="#333" text-anchor="end" stroke="#333" stroke-width="0.15">0.5</text>
<text transform="translate(614.82,239.45) scale(0.92,1)" font-family="Liberation Sans, sans-serif" font-size="8.4" font-weight="normal" fill="#333" text-anchor="start" stroke="#333" stroke-width="0.15">0.5</text>
<text transform="translate(478.19,284.44) scale(0.92,1)" font-family="Liberation Sans, sans-serif" font-size="8.4" font-weight="normal" fill="#333" text-anchor="end" stroke="#333" stroke-width="0.15">0</text>
<text transform="translate(597.42,263.44) scale(0.92,1)" font-family="Liberation Sans, sans-serif" font-size="8.4" font-weight="normal" fill="#333" text-anchor="start" stroke="#333" stroke-width="0.15">0</text>
<text transform="translate(515.9,297.94) scale(0.92,1)" font-family="Liberation Sans, sans-serif" font-size="8.4" font-weight="normal" fill="#333" text-anchor="end" stroke="#333" stroke-width="0.15">-0.5</text>
<text transform="translate(580.01,287.44) scale(0.92,1)" font-family="Liberation Sans, sans-serif" font-size="8.4" font-weight="normal" fill="#333" text-anchor="start" stroke="#333" stroke-width="0.15">-0.5</text>
<text transform="translate(553.6,311.43) scale(0.92,1)" font-family="Liberation Sans, sans-serif" font-size="8.4" font-weight="normal" fill="#333" text-anchor="end" stroke="#333" stroke-width="0.15">-1</text>
<text transform="translate(562.6,311.43) scale(0.92,1)" font-family="Liberation Sans, sans-serif" font-size="8.4" font-weight="normal" fill="#333" text-anchor="start" stroke="#333" stroke-width="0.15">-1</text>
<text transform="translate(372.5,9.8) scale(0.96,1)" font-family="Liberation Sans, sans-serif" font-size="6.6" font-weight="bold" fill="#111" text-anchor="start" textLength="59.8" lengthAdjust="spacing">Zeta Potential (mV)</text>
<defs><linearGradient id="gb" x1="0" x2="1" y1="0" y2="0"><stop offset="0" stop-color="#0000ff"/><stop offset="0.5" stop-color="#00ff00"/><stop offset="1" stop-color="#ff0000"/></linearGradient></defs>
<rect x="395.5" y="14.4" width="21.5" height="6.2" fill="url(#gb)" stroke="#222" stroke-width="0.6"/>
<text transform="translate(375.2,20.5) scale(0.96,1)" font-family="Liberation Sans, sans-serif" font-size="6.3" font-weight="normal" fill="#5a5aff" text-anchor="start" textLength="17.89" lengthAdjust="spacing" stroke="#5a5aff" stroke-width="0.15">-35.12</text>
<text transform="translate(421.2,20.5) scale(0.97,1)" font-family="Liberation Sans, sans-serif" font-size="6.3" font-weight="normal" fill="#ff4a4a" text-anchor="start" textLength="17.88" lengthAdjust="spacing" stroke="#ff4a4a" stroke-width="0.15">-24.56</text>
<text transform="translate(372.5,47.2) scale(0.96,1)" font-family="Liberation Sans, sans-serif" font-size="6.4" font-weight="normal" fill="#3a3a3a" text-anchor="start" textLength="46.82" lengthAdjust="spacing" stroke="#3a3a3a" stroke-width="0.15">X1 = A: Span 60</text>
<text transform="translate(372.5,55.1) scale(0.96,1)" font-family="Liberation Sans, sans-serif" font-size="6.4" font-weight="normal" fill="#3a3a3a" text-anchor="start" textLength="55.34" lengthAdjust="spacing" stroke="#3a3a3a" stroke-width="0.15">X2 = B: Cholesterol</text>
<text transform="translate(372.5,70.9) scale(0.94,1)" font-family="Liberation Sans, sans-serif" font-size="6.4" font-weight="bold" fill="#111" text-anchor="start" textLength="41.29" lengthAdjust="spacing">Coded Factor</text>
<text transform="translate(372.5,79) scale(0.95,1)" font-family="Liberation Sans, sans-serif" font-size="6.4" font-weight="normal" fill="#3a3a3a" text-anchor="start" textLength="66.75" lengthAdjust="spacing" stroke="#3a3a3a" stroke-width="0.15">C: Egg Lecithin = 0.000</text>
<text transform="translate(361.6,177.6) rotate(-90)" x="0" y="0" font-family="Liberation Sans, sans-serif" font-size="8.6" fill="#333" stroke="#333" stroke-width="0.12" text-anchor="middle" textLength="69.8" lengthAdjust="spacing">Zeta Potential (mV)</text>
<text transform="translate(433.5,315.6) scale(0.97,1)" font-family="Liberation Sans, sans-serif" font-size="8.2" font-weight="normal" fill="#333" text-anchor="start" textLength="40.6" lengthAdjust="spacing" stroke="#333" stroke-width="0.15">A: Span 60</text>
<text transform="translate(617.7,275.6) scale(0.98,1)" font-family="Liberation Sans, sans-serif" font-size="8.2" font-weight="normal" fill="#333" text-anchor="start" textLength="51.52" lengthAdjust="spacing" stroke="#333" stroke-width="0.15">B: Cholesterol</text>
<text transform="translate(644.5,17.5)" font-family="Liberation Serif, serif" font-size="18" font-weight="normal" fill="#111" text-anchor="start" textLength="22.4" lengthAdjust="spacing">(b)</text>
<line x1="54.9" y1="442.18" x2="144.5" y2="373.1" stroke="#3a3a3a" stroke-width="0.9"/>
<line x1="65.2" y1="564.97" x2="148.05" y2="487.06" stroke="#3a3a3a" stroke-width="0.9"/>
<line x1="63.44" y1="543.99" x2="147.44" y2="467.59" stroke="#3a3a3a" stroke-width="0.9"/>
<line x1="61.68" y1="523.02" x2="146.84" y2="448.13" stroke="#3a3a3a" stroke-width="0.9"/>
<line x1="59.92" y1="502.05" x2="146.23" y2="428.66" stroke="#3a3a3a" stroke-width="0.9"/>
<line x1="58.17" y1="481.08" x2="145.62" y2="409.2" stroke="#3a3a3a" stroke-width="0.9"/>
<line x1="87.39" y1="566.09" x2="80.03" y2="463.11" stroke="#3a3a3a" stroke-width="0.9"/>
<line x1="107.81" y1="546.23" x2="101.89" y2="445.14" stroke="#3a3a3a" stroke-width="0.9"/>
<line x1="128.23" y1="526.38" x2="123.76" y2="427.17" stroke="#3a3a3a" stroke-width="0.9"/>
<line x1="66.96" y1="585.94" x2="54.9" y2="442.18" stroke="#3a3a3a" stroke-width="0.9"/>
<line x1="148.65" y1="506.53" x2="144.5" y2="373.1" stroke="#3a3a3a" stroke-width="0.9"/>
<line x1="144.5" y1="373.1" x2="291.1" y2="407.45" stroke="#3a3a3a" stroke-width="0.9"/>
<line x1="148.05" y1="487.06" x2="282.11" y2="524.5" stroke="#3a3a3a" stroke-width="0.9"/>
<line x1="147.44" y1="467.59" x2="283.64" y2="504.51" stroke="#3a3a3a" stroke-width="0.9"/>
<line x1="146.84" y1="448.13" x2="285.18" y2="484.52" stroke="#3a3a3a" stroke-width="0.9"/>
<line x1="146.23" y1="428.66" x2="286.71" y2="464.52" stroke="#3a3a3a" stroke-width="0.9"/>
<line x1="145.62" y1="409.2" x2="288.25" y2="444.53" stroke="#3a3a3a" stroke-width="0.9"/>
<line x1="181.63" y1="516.02" x2="181.28" y2="418.03" stroke="#3a3a3a" stroke-width="0.9"/>
<line x1="214.61" y1="525.51" x2="216.94" y2="426.86" stroke="#3a3a3a" stroke-width="0.9"/>
<line x1="247.59" y1="535" x2="252.59" y2="435.69" stroke="#3a3a3a" stroke-width="0.9"/>
<line x1="280.57" y1="544.5" x2="291.1" y2="407.45" stroke="#3a3a3a" stroke-width="0.9"/>
<polygon points="66.96,585.94 213.33,638.42 280.57,544.5 148.65,506.53" fill="#646464" stroke="#111" stroke-width="1" stroke-linejoin="round"/>
<defs><clipPath id="fcc"><polygon points="66.96,585.94 213.33,638.42 280.57,544.5 148.65,506.53"/></clipPath></defs>
<g clip-path="url(#fcc)">
<polyline points="43.46,540.5 169.68,621.8" fill="none" stroke="#ffd700" stroke-width="1.5"/>
</g>
<polyline points="223.66,623.99 222.1,623.03 220.55,622.06 218.99,621.09 217.44,620.13 215.88,619.17 214.33,618.21 212.78,617.25 211.23,616.3 209.68,615.34 208.13,614.39 206.59,613.44 205.04,612.49 203.49,611.54 201.95,610.6 200.41,609.65 198.86,608.71 197.32,607.77 195.78,606.83 194.24,605.89 192.7,604.96 191.16,604.03 189.63,603.09 188.09,602.16 186.56,601.24 185.02,600.31 183.49,599.38 181.96,598.46 180.42,597.54 178.89,596.62 177.36,595.7 175.84,594.78 174.31,593.87 172.78,592.96 171.26,592.04 169.73,591.13 168.21,590.23 166.68,589.32 165.16,588.41 163.64,587.51 162.12,586.61 160.6,585.71 159.08,584.81 157.56,583.91 156.05,583.02 154.53,582.12 153.02,581.23 151.5,580.34 149.99,579.45 148.48,578.57 146.96,577.68 145.45,576.8 143.94,575.92 142.44,575.04 140.93,574.16 139.42,573.28 137.91,572.4 136.41,571.53 134.9,570.66 133.4,569.79 131.9,568.92 130.4,568.05 128.9,567.18 127.4,566.32 125.9,565.45 124.4,564.59 122.9,563.73 121.4,562.87 119.91,562.02 118.41,561.16 116.92,560.31 115.43,559.46 113.93,558.61 112.44,557.76 110.95,556.91 109.46,556.06 107.97,555.22 106.48,554.38 105,553.53 103.51,552.7 102.02,551.86" fill="none" stroke="#9eff00" stroke-width="1.5"/>
<polyline points="238.28,603.57 236.76,602.65 235.23,601.74 233.7,600.83 232.18,599.92 230.66,599.01 229.13,598.1 227.61,597.2 226.09,596.29 224.57,595.39 223.05,594.49 221.53,593.59 220.01,592.7 218.5,591.8 216.98,590.91 215.47,590.02 213.95,589.13 212.44,588.24 210.93,587.35 209.42,586.47 207.91,585.58 206.4,584.7 204.89,583.82 203.38,582.94 201.87,582.07 200.37,581.19 198.86,580.32 197.36,579.45 195.85,578.58 194.35,577.71 192.85,576.84 191.35,575.98 189.85,575.11 188.35,574.25 186.85,573.39 185.36,572.53 183.86,571.67 182.37,570.82 180.87,569.96 179.38,569.11 177.89,568.26 176.39,567.41 174.9,566.56 173.41,565.71 171.92,564.87 170.44,564.03 168.95,563.19 167.46,562.35 165.98,561.51 164.49,560.67 163.01,559.83 161.52,559 160.04,558.17 158.56,557.34 157.08,556.51 155.6,555.68 154.12,554.85 152.64,554.03 151.16,553.21 149.69,552.39 148.21,551.57 146.74,550.75 145.26,549.93 143.79,549.11 142.32,548.3 140.85,547.49 139.38,546.68 137.91,545.87 136.44,545.06 134.97,544.25 133.5,543.45 132.04,542.64 130.57,541.84 129.1,541.04 127.64,540.24 126.18,539.44 124.71,538.65 123.25,537.85 121.79,537.06 120.33,536.27 118.87,535.48" fill="none" stroke="#16ff00" stroke-width="1.5"/>
<polyline points="252.91,583.14 251.41,582.27 249.91,581.41 248.42,580.56 246.92,579.7 245.43,578.84 243.93,577.99 242.44,577.14 240.95,576.29 239.46,575.44 237.97,574.59 236.48,573.75 234.99,572.9 233.5,572.06 232.01,571.22 230.53,570.38 229.04,569.54 227.56,568.71 226.07,567.87 224.59,567.04 223.11,566.21 221.63,565.38 220.15,564.55 218.67,563.72 217.19,562.9 215.71,562.07 214.24,561.25 212.76,560.43 211.29,559.61 209.81,558.8 208.34,557.98 206.87,557.17 205.39,556.35 203.92,555.54 202.45,554.73 200.98,553.93 199.52,553.12 198.05,552.31 196.58,551.51 195.12,550.71 193.65,549.91 192.19,549.11 190.72,548.31 189.26,547.52 187.8,546.72 186.34,545.93 184.88,545.14 183.42,544.35 181.96,543.56 180.51,542.77 179.05,541.99 177.59,541.2 176.14,540.42 174.68,539.64 173.23,538.86 171.78,538.08 170.33,537.31 168.87,536.53 167.42,535.76 165.98,534.98 164.53,534.21 163.08,533.44 161.63,532.68 160.19,531.91 158.74,531.15 157.3,530.38 155.85,529.62 154.41,528.86 152.97,528.1 151.52,527.34 150.08,526.59 148.64,525.83 147.2,525.08 145.77,524.33 144.33,523.57 142.89,522.83 141.46,522.08 140.02,521.33 138.59,520.59 137.15,519.84 135.72,519.1" fill="none" stroke="#00ff72" stroke-width="1.5"/>
<polyline points="267.54,562.71 266.07,561.9 264.6,561.09 263.13,560.29 261.66,559.48 260.2,558.68 258.73,557.88 257.27,557.08 255.81,556.28 254.34,555.49 252.88,554.69 251.42,553.9 249.96,553.11 248.5,552.32 247.04,551.53 245.59,550.74 244.13,549.96 242.67,549.17 241.22,548.39 239.77,547.61 238.31,546.83 236.86,546.05 235.41,545.28 233.96,544.5 232.51,543.73 231.06,542.96 229.61,542.19 228.16,541.42 226.72,540.65 225.27,539.89 223.82,539.12 222.38,538.36 220.94,537.6 219.49,536.84 218.05,536.08 216.61,535.32 215.17,534.57 213.73,533.81 212.29,533.06 210.86,532.31 209.42,531.56 207.98,530.81 206.55,530.06 205.11,529.32 203.68,528.57 202.24,527.83 200.81,527.09 199.38,526.35 197.95,525.61 196.52,524.88 195.09,524.14 193.66,523.41 192.23,522.67 190.81,521.94 189.38,521.21 187.96,520.48 186.53,519.76 185.11,519.03 183.68,518.31 182.26,517.58 180.84,516.86 179.42,516.14 178,515.42 176.58,514.71" fill="none" stroke="#00fffa" stroke-width="1.5"/>
<polygon points="66.96,585.94 213.33,638.42 280.57,544.5 148.65,506.53" fill="none" stroke="#111" stroke-width="1" stroke-linejoin="round"/>
<circle cx="66.96" cy="585.94" r="1.5" fill="#000"/>
<circle cx="280.57" cy="544.5" r="1.5" fill="#000"/>
<circle cx="103.56" cy="599.06" r="1.5" fill="#000"/>
<circle cx="263.76" cy="567.98" r="1.5" fill="#000"/>
<circle cx="140.15" cy="612.18" r="1.5" fill="#000"/>
<circle cx="246.95" cy="591.46" r="1.5" fill="#000"/>
<circle cx="176.74" cy="625.3" r="1.5" fill="#000"/>
<circle cx="230.14" cy="614.94" r="1.5" fill="#000"/>
<circle cx="213.33" cy="638.42" r="1.5" fill="#000"/>
<circle cx="213.33" cy="638.42" r="1.5" fill="#000"/>
<circle cx="66.96" cy="585.94" r="1.5" fill="#000"/>
<circle cx="65.2" cy="564.97" r="1.5" fill="#000"/>
<circle cx="63.44" cy="543.99" r="1.5" fill="#000"/>
<circle cx="61.68" cy="523.02" r="1.5" fill="#000"/>
<circle cx="59.92" cy="502.05" r="1.5" fill="#000"/>
<circle cx="58.17" cy="481.08" r="1.5" fill="#000"/>
<g stroke-width="0.45" stroke-linejoin="round">
<polygon points="148.96,433.78 141.93,432.67 146.15,425.97 153.17,427.06" fill="#00ffce" stroke="#00ffce"/>
<polygon points="156.01,434.9 148.96,433.78 153.17,427.06 160.2,428.14" fill="#00ffd6" stroke="#00ffd6"/>
<polygon points="144.78,440.53 137.72,439.38 141.93,432.67 148.96,433.78" fill="#00ffad" stroke="#00ffad"/>
<polygon points="163.06,436.01 156.01,434.9 160.2,428.14 167.23,429.23" fill="#00ffdd" stroke="#00ffdd"/>
<polygon points="151.84,441.68 144.78,440.53 148.96,433.78 156.01,434.9" fill="#00ffb5" stroke="#00ffb5"/>
<polygon points="140.61,447.3 133.54,446.13 137.72,439.38 144.78,440.53" fill="#00ff8c" stroke="#00ff8c"/>
<polygon points="170.13,437.12 163.06,436.01 167.23,429.23 174.28,430.31" fill="#00ffe5" stroke="#00ffe5"/>
<polygon points="158.91,442.82 151.84,441.68 156.01,434.9 163.06,436.01" fill="#00ffbd" stroke="#00ffbd"/>
<polygon points="147.69,448.48 140.61,447.3 144.78,440.53 151.84,441.68" fill="#00ff94" stroke="#00ff94"/>
<polygon points="136.46,454.1 129.37,452.89 133.54,446.13 140.61,447.3" fill="#00ff6b" stroke="#00ff6b"/>
<polygon points="177.2,438.23 170.13,437.12 174.28,430.31 181.33,431.39" fill="#00ffed" stroke="#00ffed"/>
<polygon points="165.99,443.96 158.91,442.82 163.06,436.01 170.13,437.12" fill="#00ffc4" stroke="#00ffc4"/>
<polygon points="154.78,449.65 147.69,448.48 151.84,441.68 158.91,442.82" fill="#00ff9c" stroke="#00ff9c"/>
<polygon points="143.56,455.3 136.46,454.1 140.61,447.3 147.69,448.48" fill="#00ff73" stroke="#00ff73"/>
<polygon points="132.33,460.92 125.23,459.68 129.37,452.89 136.46,454.1" fill="#00ff4a" stroke="#00ff4a"/>
<polygon points="184.27,439.34 177.2,438.23 181.33,431.39 188.39,432.46" fill="#00fff5" stroke="#00fff5"/>
<polygon points="173.08,445.1 165.99,443.96 170.13,437.12 177.2,438.23" fill="#00ffcc" stroke="#00ffcc"/>
<polygon points="161.88,450.82 154.78,449.65 158.91,442.82 165.99,443.96" fill="#00ffa4" stroke="#00ffa4"/>
<polygon points="150.67,456.51 143.56,455.3 147.69,448.48 154.78,449.65" fill="#00ff7b" stroke="#00ff7b"/>
<polygon points="139.45,462.15 132.33,460.92 136.46,454.1 143.56,455.3" fill="#00ff52" stroke="#00ff52"/>
<polygon points="128.22,467.76 121.09,466.5 125.23,459.68 132.33,460.92" fill="#00ff29" stroke="#00ff29"/>
<polygon points="168.98,451.99 161.88,450.82 165.99,443.96 173.08,445.1" fill="#00ffac" stroke="#00ffac"/>
<polygon points="157.78,457.71 150.67,456.51 154.78,449.65 161.88,450.82" fill="#00ff83" stroke="#00ff83"/>
<polygon points="146.57,463.38 139.45,462.15 143.56,455.3 150.67,456.51" fill="#00ff5a" stroke="#00ff5a"/>
<polygon points="191.36,440.44 184.27,439.34 188.39,432.46 195.46,433.54" fill="#00fffc" stroke="#00fffc"/>
<polygon points="180.17,446.24 173.08,445.1 177.2,438.23 184.27,439.34" fill="#00ffd4" stroke="#00ffd4"/>
<polygon points="135.35,469.02 128.22,467.76 132.33,460.92 139.45,462.15" fill="#00ff31" stroke="#00ff31"/>
<polygon points="124.12,474.63 116.98,473.33 121.09,466.5 128.22,467.76" fill="#00ff08" stroke="#00ff08"/>
<polygon points="164.9,458.9 157.78,457.71 161.88,450.82 168.98,451.99" fill="#00ff8b" stroke="#00ff8b"/>
<polygon points="153.7,464.61 146.57,463.38 150.67,456.51 157.78,457.71" fill="#00ff62" stroke="#00ff62"/>
<polygon points="198.45,441.55 191.36,440.44 195.46,433.54 202.53,434.61" fill="#00faff" stroke="#00faff"/>
<polygon points="187.28,447.37 180.17,446.24 184.27,439.34 191.36,440.44" fill="#00ffdc" stroke="#00ffdc"/>
<polygon points="176.09,453.16 168.98,451.99 173.08,445.1 180.17,446.24" fill="#00ffb3" stroke="#00ffb3"/>
<polygon points="142.49,470.28 135.35,469.02 139.45,462.15 146.57,463.38" fill="#00ff39" stroke="#00ff39"/>
<polygon points="131.27,475.92 124.12,474.63 128.22,467.76 135.35,469.02" fill="#00ff10" stroke="#00ff10"/>
<polygon points="120.04,481.52 112.89,480.19 116.98,473.33 124.12,474.63" fill="#19ff00" stroke="#19ff00"/>
<polygon points="205.55,442.65 198.45,441.55 202.53,434.61 209.61,435.69" fill="#00f2ff" stroke="#00f2ff"/>
<polygon points="194.39,448.5 187.28,447.37 191.36,440.44 198.45,441.55" fill="#00ffe4" stroke="#00ffe4"/>
<polygon points="183.21,454.32 176.09,453.16 180.17,446.24 187.28,447.37" fill="#00ffbb" stroke="#00ffbb"/>
<polygon points="172.03,460.1 164.9,458.9 168.98,451.99 176.09,453.16" fill="#00ff93" stroke="#00ff93"/>
<polygon points="160.84,465.84 153.7,464.61 157.78,457.71 164.9,458.9" fill="#00ff6a" stroke="#00ff6a"/>
<polygon points="149.64,471.54 142.49,470.28 146.57,463.38 153.7,464.61" fill="#00ff42" stroke="#00ff42"/>
<polygon points="138.43,477.21 131.27,475.92 135.35,469.02 142.49,470.28" fill="#00ff19" stroke="#00ff19"/>
<polygon points="127.21,482.84 120.04,481.52 124.12,474.63 131.27,475.92" fill="#11ff00" stroke="#11ff00"/>
<polygon points="115.99,488.43 108.81,487.07 112.89,480.19 120.04,481.52" fill="#3aff00" stroke="#3aff00"/>
<polygon points="212.66,443.75 205.55,442.65 209.61,435.69 216.7,436.76" fill="#00ebff" stroke="#00ebff"/>
<polygon points="201.51,449.64 194.39,448.5 198.45,441.55 205.55,442.65" fill="#00ffeb" stroke="#00ffeb"/>
<polygon points="190.34,455.48 183.21,454.32 187.28,447.37 194.39,448.5" fill="#00ffc3" stroke="#00ffc3"/>
<polygon points="179.17,461.29 172.03,460.1 176.09,453.16 183.21,454.32" fill="#00ff9b" stroke="#00ff9b"/>
<polygon points="167.99,467.07 160.84,465.84 164.9,458.9 172.03,460.1" fill="#00ff72" stroke="#00ff72"/>
<polygon points="156.79,472.8 149.64,471.54 153.7,464.61 160.84,465.84" fill="#00ff4a" stroke="#00ff4a"/>
<polygon points="145.59,478.5 138.43,477.21 142.49,470.28 149.64,471.54" fill="#00ff21" stroke="#00ff21"/>
<polygon points="134.38,484.16 127.21,482.84 131.27,475.92 138.43,477.21" fill="#08ff00" stroke="#08ff00"/>
<polygon points="123.17,489.78 115.99,488.43 120.04,481.52 127.21,482.84" fill="#31ff00" stroke="#31ff00"/>
<polygon points="111.94,495.36 104.75,493.98 108.81,487.07 115.99,488.43" fill="#5bff00" stroke="#5bff00"/>
<polygon points="208.63,450.76 201.51,449.64 205.55,442.65 212.66,443.75" fill="#00fff3" stroke="#00fff3"/>
<polygon points="197.48,456.64 190.34,455.48 194.39,448.5 201.51,449.64" fill="#00ffcb" stroke="#00ffcb"/>
<polygon points="186.31,462.49 179.17,461.29 183.21,454.32 190.34,455.48" fill="#00ffa3" stroke="#00ffa3"/>
<polygon points="175.14,468.29 167.99,467.07 172.03,460.1 179.17,461.29" fill="#00ff7a" stroke="#00ff7a"/>
<polygon points="152.77,479.78 145.59,478.5 149.64,471.54 156.79,472.8" fill="#00ff29" stroke="#00ff29"/>
<polygon points="141.57,485.47 134.38,484.16 138.43,477.21 145.59,478.5" fill="#00ff00" stroke="#00ff00"/>
<polygon points="130.36,491.13 123.17,489.78 127.21,482.84 134.38,484.16" fill="#29ff00" stroke="#29ff00"/>
<polygon points="119.14,496.74 111.94,495.36 115.99,488.43 123.17,489.78" fill="#52ff00" stroke="#52ff00"/>
<polygon points="219.78,444.85 212.66,443.75 216.7,436.76 223.8,437.82" fill="#00e3ff" stroke="#00e3ff"/>
<polygon points="163.96,474.06 156.79,472.8 160.84,465.84 167.99,467.07" fill="#00ff52" stroke="#00ff52"/>
<polygon points="107.92,502.32 100.71,500.91 104.75,493.98 111.94,495.36" fill="#7cff00" stroke="#7cff00"/>
<polygon points="226.9,445.94 219.78,444.85 223.8,437.82 230.91,438.89" fill="#00dbff" stroke="#00dbff"/>
<polygon points="215.77,451.89 208.63,450.76 212.66,443.75 219.78,444.85" fill="#00fffb" stroke="#00fffb"/>
<polygon points="204.62,457.8 197.48,456.64 201.51,449.64 208.63,450.76" fill="#00ffd3" stroke="#00ffd3"/>
<polygon points="193.47,463.68 186.31,462.49 190.34,455.48 197.48,456.64" fill="#00ffab" stroke="#00ffab"/>
<polygon points="182.3,469.51 175.14,468.29 179.17,461.29 186.31,462.49" fill="#00ff82" stroke="#00ff82"/>
<polygon points="148.76,486.79 141.57,485.47 145.59,478.5 152.77,479.78" fill="#00ff08" stroke="#00ff08"/>
<polygon points="137.56,492.47 130.36,491.13 134.38,484.16 141.57,485.47" fill="#21ff00" stroke="#21ff00"/>
<polygon points="126.35,498.12 119.14,496.74 123.17,489.78 130.36,491.13" fill="#4aff00" stroke="#4aff00"/>
<polygon points="115.14,503.73 107.92,502.32 111.94,495.36 119.14,496.74" fill="#73ff00" stroke="#73ff00"/>
<polygon points="103.91,509.31 96.69,507.86 100.71,500.91 107.92,502.32" fill="#9dff00" stroke="#9dff00"/>
<polygon points="171.13,475.31 163.96,474.06 167.99,467.07 175.14,468.29" fill="#00ff5a" stroke="#00ff5a"/>
<polygon points="159.95,481.07 152.77,479.78 156.79,472.8 163.96,474.06" fill="#00ff31" stroke="#00ff31"/>
<polygon points="200.63,464.86 193.47,463.68 197.48,456.64 204.62,457.8" fill="#00ffb3" stroke="#00ffb3"/>
<polygon points="189.48,470.73 182.3,469.51 186.31,462.49 193.47,463.68" fill="#00ff8a" stroke="#00ff8a"/>
<polygon points="144.77,493.82 137.56,492.47 141.57,485.47 148.76,486.79" fill="#18ff00" stroke="#18ff00"/>
<polygon points="133.57,499.5 126.35,498.12 130.36,491.13 137.56,492.47" fill="#41ff00" stroke="#41ff00"/>
<polygon points="234.03,447.04 226.9,445.94 230.91,438.89 238.02,439.96" fill="#00d4ff" stroke="#00d4ff"/>
<polygon points="222.91,453.02 215.77,451.89 219.78,444.85 226.9,445.94" fill="#00fbff" stroke="#00fbff"/>
<polygon points="211.77,458.96 204.62,457.8 208.63,450.76 215.77,451.89" fill="#00ffdb" stroke="#00ffdb"/>
<polygon points="178.31,476.56 171.13,475.31 175.14,468.29 182.3,469.51" fill="#00ff62" stroke="#00ff62"/>
<polygon points="167.14,482.35 159.95,481.07 163.96,474.06 171.13,475.31" fill="#00ff39" stroke="#00ff39"/>
<polygon points="155.96,488.1 148.76,486.79 152.77,479.78 159.95,481.07" fill="#00ff11" stroke="#00ff11"/>
<polygon points="122.36,505.14 115.14,503.73 119.14,496.74 126.35,498.12" fill="#6bff00" stroke="#6bff00"/>
<polygon points="111.15,510.74 103.91,509.31 107.92,502.32 115.14,503.73" fill="#94ff00" stroke="#94ff00"/>
<polygon points="99.92,516.31 92.68,514.84 96.69,507.86 103.91,509.31" fill="#beff00" stroke="#beff00"/>
<polygon points="218.93,460.11 211.77,458.96 215.77,451.89 222.91,453.02" fill="#00ffe3" stroke="#00ffe3"/>
<polygon points="207.8,466.05 200.63,464.86 204.62,457.8 211.77,458.96" fill="#00ffbb" stroke="#00ffbb"/>
<polygon points="196.66,471.95 189.48,470.73 193.47,463.68 200.63,464.86" fill="#00ff92" stroke="#00ff92"/>
<polygon points="140.79,500.87 133.57,499.5 137.56,492.47 144.77,493.82" fill="#39ff00" stroke="#39ff00"/>
<polygon points="129.59,506.54 122.36,505.14 126.35,498.12 133.57,499.5" fill="#62ff00" stroke="#62ff00"/>
<polygon points="118.39,512.18 111.15,510.74 115.14,503.73 122.36,505.14" fill="#8bff00" stroke="#8bff00"/>
<polygon points="230.06,454.14 222.91,453.02 226.9,445.94 234.03,447.04" fill="#00f4ff" stroke="#00f4ff"/>
<polygon points="185.5,477.81 178.31,476.56 182.3,469.51 189.48,470.73" fill="#00ff6a" stroke="#00ff6a"/>
<polygon points="174.34,483.63 167.14,482.35 171.13,475.31 178.31,476.56" fill="#00ff42" stroke="#00ff42"/>
<polygon points="163.16,489.42 155.96,488.1 159.95,481.07 167.14,482.35" fill="#00ff19" stroke="#00ff19"/>
<polygon points="151.98,495.16 144.77,493.82 148.76,486.79 155.96,488.1" fill="#10ff00" stroke="#10ff00"/>
<polygon points="107.17,517.78 99.92,516.31 103.91,509.31 111.15,510.74" fill="#b5ff00" stroke="#b5ff00"/>
<polygon points="241.17,448.13 234.03,447.04 238.02,439.96 245.14,441.02" fill="#00ccff" stroke="#00ccff"/>
<polygon points="95.95,523.34 88.7,521.84 92.68,514.84 99.92,516.31" fill="#dfff00" stroke="#dfff00"/>
<polygon points="226.1,461.27 218.93,460.11 222.91,453.02 230.06,454.14" fill="#00ffeb" stroke="#00ffeb"/>
<polygon points="214.98,467.23 207.8,466.05 211.77,458.96 218.93,460.11" fill="#00ffc3" stroke="#00ffc3"/>
<polygon points="203.84,473.16 196.66,471.95 200.63,464.86 207.8,466.05" fill="#00ff9b" stroke="#00ff9b"/>
<polygon points="192.7,479.05 185.5,477.81 189.48,470.73 196.66,471.95" fill="#00ff72" stroke="#00ff72"/>
<polygon points="181.54,484.91 174.34,483.63 178.31,476.56 185.5,477.81" fill="#00ff4a" stroke="#00ff4a"/>
<polygon points="170.38,490.72 163.16,489.42 167.14,482.35 174.34,483.63" fill="#00ff21" stroke="#00ff21"/>
<polygon points="159.21,496.5 151.98,495.16 155.96,488.1 163.16,489.42" fill="#08ff00" stroke="#08ff00"/>
<polygon points="148.03,502.24 140.79,500.87 144.77,493.82 151.98,495.16" fill="#30ff00" stroke="#30ff00"/>
<polygon points="136.84,507.95 129.59,506.54 133.57,499.5 140.79,500.87" fill="#5aff00" stroke="#5aff00"/>
<polygon points="125.64,513.61 118.39,512.18 122.36,505.14 129.59,506.54" fill="#83ff00" stroke="#83ff00"/>
<polygon points="114.43,519.24 107.17,517.78 111.15,510.74 118.39,512.18" fill="#acff00" stroke="#acff00"/>
<polygon points="248.32,449.22 241.17,448.13 245.14,441.02 252.27,442.08" fill="#00c4ff" stroke="#00c4ff"/>
<polygon points="237.22,455.26 230.06,454.14 234.03,447.04 241.17,448.13" fill="#00ecff" stroke="#00ecff"/>
<polygon points="103.22,524.84 95.95,523.34 99.92,516.31 107.17,517.78" fill="#d6ff00" stroke="#d6ff00"/>
<polygon points="92,530.39 84.73,528.87 88.7,521.84 95.95,523.34" fill="#fffe00" stroke="#fffe00"/>
<polygon points="211.04,474.38 203.84,473.16 207.8,466.05 214.98,467.23" fill="#00ffa3" stroke="#00ffa3"/>
<polygon points="132.9,515.05 125.64,513.61 129.59,506.54 136.84,507.95" fill="#7aff00" stroke="#7aff00"/>
<polygon points="222.16,468.42 214.98,467.23 218.93,460.11 226.1,461.27" fill="#00ffcb" stroke="#00ffcb"/>
<polygon points="188.76,486.18 181.54,484.91 185.5,477.81 192.7,479.05" fill="#00ff52" stroke="#00ff52"/>
<polygon points="177.6,492.03 170.38,490.72 174.34,483.63 181.54,484.91" fill="#00ff2a" stroke="#00ff2a"/>
<polygon points="166.44,497.84 159.21,496.5 163.16,489.42 170.38,490.72" fill="#00ff01" stroke="#00ff01"/>
<polygon points="155.27,503.61 148.03,502.24 151.98,495.16 159.21,496.5" fill="#28ff00" stroke="#28ff00"/>
<polygon points="121.7,520.71 114.43,519.24 118.39,512.18 125.64,513.61" fill="#a4ff00" stroke="#a4ff00"/>
<polygon points="244.38,456.38 237.22,455.26 241.17,448.13 248.32,449.22" fill="#00e4ff" stroke="#00e4ff"/>
<polygon points="233.28,462.42 226.1,461.27 230.06,454.14 237.22,455.26" fill="#00fff2" stroke="#00fff2"/>
<polygon points="199.9,480.3 192.7,479.05 196.66,471.95 203.84,473.16" fill="#00ff7a" stroke="#00ff7a"/>
<polygon points="144.09,509.35 136.84,507.95 140.79,500.87 148.03,502.24" fill="#51ff00" stroke="#51ff00"/>
<polygon points="110.5,526.33 103.22,524.84 107.17,517.78 114.43,519.24" fill="#cdff00" stroke="#cdff00"/>
<polygon points="99.28,531.92 92,530.39 95.95,523.34 103.22,524.84" fill="#f7ff00" stroke="#f7ff00"/>
<polygon points="255.47,450.31 248.32,449.22 252.27,442.08 259.41,443.14" fill="#00bcff" stroke="#00bcff"/>
<polygon points="88.07,537.47 80.78,535.91 84.73,528.87 92,530.39" fill="#ffdd00" stroke="#ffdd00"/>
<polygon points="262.64,451.39 255.47,450.31 259.41,443.14 266.55,444.19" fill="#00b5ff" stroke="#00b5ff"/>
<polygon points="218.24,475.59 211.04,474.38 214.98,467.23 222.16,468.42" fill="#00ffab" stroke="#00ffab"/>
<polygon points="184.84,493.34 177.6,492.03 181.54,484.91 188.76,486.18" fill="#00ff32" stroke="#00ff32"/>
<polygon points="173.68,499.18 166.44,497.84 170.38,490.72 177.6,492.03" fill="#00ff09" stroke="#00ff09"/>
<polygon points="162.52,504.98 155.27,503.61 159.21,496.5 166.44,497.84" fill="#20ff00" stroke="#20ff00"/>
<polygon points="128.98,522.17 121.7,520.71 125.64,513.61 132.9,515.05" fill="#9bff00" stroke="#9bff00"/>
<polygon points="84.15,544.57 76.84,542.98 80.78,535.91 88.07,537.47" fill="#ffbc00" stroke="#ffbc00"/>
<polygon points="240.46,463.57 233.28,462.42 237.22,455.26 244.38,456.38" fill="#00fffa" stroke="#00fffa"/>
<polygon points="229.36,469.6 222.16,468.42 226.1,461.27 233.28,462.42" fill="#00ffd2" stroke="#00ffd2"/>
<polygon points="207.12,481.54 199.9,480.3 203.84,473.16 211.04,474.38" fill="#00ff83" stroke="#00ff83"/>
<polygon points="195.98,487.46 188.76,486.18 192.7,479.05 199.9,480.3" fill="#00ff5a" stroke="#00ff5a"/>
<polygon points="151.35,510.75 144.09,509.35 148.03,502.24 155.27,503.61" fill="#48ff00" stroke="#48ff00"/>
<polygon points="140.16,516.48 132.9,515.05 136.84,507.95 144.09,509.35" fill="#72ff00" stroke="#72ff00"/>
<polygon points="117.78,527.82 110.5,526.33 114.43,519.24 121.7,520.71" fill="#c4ff00" stroke="#c4ff00"/>
<polygon points="106.58,533.44 99.28,531.92 103.22,524.84 110.5,526.33" fill="#eeff00" stroke="#eeff00"/>
<polygon points="251.56,457.5 244.38,456.38 248.32,449.22 255.47,450.31" fill="#00dcff" stroke="#00dcff"/>
<polygon points="95.37,539.02 88.07,537.47 92,530.39 99.28,531.92" fill="#ffe600" stroke="#ffe600"/>
<polygon points="258.74,458.61 251.56,457.5 255.47,450.31 262.64,451.39" fill="#00d4ff" stroke="#00d4ff"/>
<polygon points="180.93,500.51 173.68,499.18 177.6,492.03 184.84,493.34" fill="#00ff12" stroke="#00ff12"/>
<polygon points="169.78,506.35 162.52,504.98 166.44,497.84 173.68,499.18" fill="#17ff00" stroke="#17ff00"/>
<polygon points="91.47,546.15 84.15,544.57 88.07,537.47 95.37,539.02" fill="#ffc500" stroke="#ffc500"/>
<polygon points="236.56,470.78 229.36,469.6 233.28,462.42 240.46,463.57" fill="#00ffda" stroke="#00ffda"/>
<polygon points="225.46,476.8 218.24,475.59 222.16,468.42 229.36,469.6" fill="#00ffb3" stroke="#00ffb3"/>
<polygon points="203.21,488.73 195.98,487.46 199.9,480.3 207.12,481.54" fill="#00ff62" stroke="#00ff62"/>
<polygon points="192.08,494.64 184.84,493.34 188.76,486.18 195.98,487.46" fill="#00ff3a" stroke="#00ff3a"/>
<polygon points="158.61,512.14 151.35,510.75 155.27,503.61 162.52,504.98" fill="#40ff00" stroke="#40ff00"/>
<polygon points="147.44,517.9 140.16,516.48 144.09,509.35 151.35,510.75" fill="#69ff00" stroke="#69ff00"/>
<polygon points="125.07,529.31 117.78,527.82 121.7,520.71 128.98,522.17" fill="#bbff00" stroke="#bbff00"/>
<polygon points="113.88,534.96 106.58,533.44 110.5,526.33 117.78,527.82" fill="#e5ff00" stroke="#e5ff00"/>
<polygon points="269.81,452.48 262.64,451.39 266.55,444.19 273.7,445.25" fill="#00adff" stroke="#00adff"/>
<polygon points="247.65,464.71 240.46,463.57 244.38,456.38 251.56,457.5" fill="#00fcff" stroke="#00fcff"/>
<polygon points="214.34,482.78 207.12,481.54 211.04,474.38 218.24,475.59" fill="#00ff8b" stroke="#00ff8b"/>
<polygon points="136.26,523.63 128.98,522.17 132.9,515.05 140.16,516.48" fill="#92ff00" stroke="#92ff00"/>
<polygon points="102.67,540.58 95.37,539.02 99.28,531.92 106.58,533.44" fill="#ffef00" stroke="#ffef00"/>
<polygon points="80.25,551.69 72.93,550.08 76.84,542.98 84.15,544.57" fill="#ff9b00" stroke="#ff9b00"/>
<polygon points="254.85,465.86 247.65,464.71 251.56,457.5 258.74,458.61" fill="#00f4ff" stroke="#00f4ff"/>
<polygon points="177.05,507.71 169.78,506.35 173.68,499.18 180.93,500.51" fill="#0fff00" stroke="#0fff00"/>
<polygon points="98.79,547.73 91.47,546.15 95.37,539.02 102.67,540.58" fill="#ffce00" stroke="#ffce00"/>
<polygon points="232.68,478.01 225.46,476.8 229.36,469.6 236.56,470.78" fill="#00ffbb" stroke="#00ffbb"/>
<polygon points="199.33,495.94 192.08,494.64 195.98,487.46 203.21,488.73" fill="#00ff42" stroke="#00ff42"/>
<polygon points="188.19,501.84 180.93,500.51 184.84,493.34 192.08,494.64" fill="#00ff1a" stroke="#00ff1a"/>
<polygon points="165.89,513.54 158.61,512.14 162.52,504.98 169.78,506.35" fill="#37ff00" stroke="#37ff00"/>
<polygon points="154.73,519.33 147.44,517.9 151.35,510.75 158.61,512.14" fill="#60ff00" stroke="#60ff00"/>
<polygon points="121.19,536.48 113.88,534.96 117.78,527.82 125.07,529.31" fill="#dcff00" stroke="#dcff00"/>
<polygon points="265.93,459.73 258.74,458.61 262.64,451.39 269.81,452.48" fill="#00cdff" stroke="#00cdff"/>
<polygon points="243.77,471.95 236.56,470.78 240.46,463.57 247.65,464.71" fill="#00ffe2" stroke="#00ffe2"/>
<polygon points="210.45,490 203.21,488.73 207.12,481.54 214.34,482.78" fill="#00ff6b" stroke="#00ff6b"/>
<polygon points="143.55,525.08 136.26,523.63 140.16,516.48 147.44,517.9" fill="#89ff00" stroke="#89ff00"/>
<polygon points="109.99,542.13 102.67,540.58 106.58,533.44 113.88,534.96" fill="#fff800" stroke="#fff800"/>
<polygon points="87.58,553.3 80.25,551.69 84.15,544.57 91.47,546.15" fill="#ffa500" stroke="#ffa500"/>
<polygon points="221.57,484.02 214.34,482.78 218.24,475.59 225.46,476.8" fill="#00ff93" stroke="#00ff93"/>
<polygon points="132.37,530.8 125.07,529.31 128.98,522.17 136.26,523.63" fill="#b3ff00" stroke="#b3ff00"/>
<polygon points="276.99,453.56 269.81,452.48 273.7,445.25 280.86,446.3" fill="#00a5ff" stroke="#00a5ff"/>
<polygon points="76.37,558.84 69.03,557.19 72.93,550.08 80.25,551.69" fill="#ff7a00" stroke="#ff7a00"/>
<polygon points="250.99,473.13 243.77,471.95 247.65,464.71 254.85,465.86" fill="#00ffea" stroke="#00ffea"/>
<polygon points="106.13,549.31 98.79,547.73 102.67,540.58 109.99,542.13" fill="#ffd800" stroke="#ffd800"/>
<polygon points="195.46,503.17 188.19,501.84 192.08,494.64 199.33,495.94" fill="#00ff22" stroke="#00ff22"/>
<polygon points="184.32,509.07 177.05,507.71 180.93,500.51 188.19,501.84" fill="#06ff00" stroke="#06ff00"/>
<polygon points="173.18,514.93 165.89,513.54 169.78,506.35 177.05,507.71" fill="#2fff00" stroke="#2fff00"/>
<polygon points="162.02,520.75 154.73,519.33 158.61,512.14 165.89,513.54" fill="#58ff00" stroke="#58ff00"/>
<polygon points="284.17,454.64 276.99,453.56 280.86,446.3 288.03,447.35" fill="#009eff" stroke="#009eff"/>
<polygon points="262.06,467 254.85,465.86 258.74,458.61 265.93,459.73" fill="#00ecff" stroke="#00ecff"/>
<polygon points="239.91,479.21 232.68,478.01 236.56,470.78 243.77,471.95" fill="#00ffc3" stroke="#00ffc3"/>
<polygon points="206.59,497.24 199.33,495.94 203.21,488.73 210.45,490" fill="#00ff4b" stroke="#00ff4b"/>
<polygon points="150.86,526.54 143.55,525.08 147.44,517.9 154.73,519.33" fill="#81ff00" stroke="#81ff00"/>
<polygon points="117.32,543.67 109.99,542.13 113.88,534.96 121.19,536.48" fill="#fdff00" stroke="#fdff00"/>
<polygon points="94.93,554.91 87.58,553.3 91.47,546.15 98.79,547.73" fill="#ffae00" stroke="#ffae00"/>
<polygon points="72.51,566.01 65.15,564.34 69.03,557.19 76.37,558.84" fill="#ff5900" stroke="#ff5900"/>
<polygon points="228.81,485.26 221.57,484.02 225.46,476.8 232.68,478.01" fill="#00ff9b" stroke="#00ff9b"/>
<polygon points="217.7,491.27 210.45,490 214.34,482.78 221.57,484.02" fill="#00ff73" stroke="#00ff73"/>
<polygon points="139.69,532.29 132.37,530.8 136.26,523.63 143.55,525.08" fill="#aaff00" stroke="#aaff00"/>
<polygon points="128.51,538 121.19,536.48 125.07,529.31 132.37,530.8" fill="#d3ff00" stroke="#d3ff00"/>
<polygon points="273.12,460.84 265.93,459.73 269.81,452.48 276.99,453.56" fill="#00c5ff" stroke="#00c5ff"/>
<polygon points="83.72,560.48 76.37,558.84 80.25,551.69 87.58,553.3" fill="#ff8400" stroke="#ff8400"/>
<polygon points="247.14,480.41 239.91,479.21 243.77,471.95 250.99,473.13" fill="#00ffcb" stroke="#00ffcb"/>
<polygon points="113.47,550.89 106.13,549.31 109.99,542.13 117.32,543.67" fill="#ffe100" stroke="#ffe100"/>
<polygon points="191.61,510.43 184.32,509.07 188.19,501.84 195.46,503.17" fill="#00ff02" stroke="#00ff02"/>
<polygon points="169.32,522.18 162.02,520.75 165.89,513.54 173.18,514.93" fill="#4fff00" stroke="#4fff00"/>
<polygon points="280.33,461.95 273.12,460.84 276.99,453.56 284.17,454.64" fill="#00bdff" stroke="#00bdff"/>
<polygon points="258.22,474.3 250.99,473.13 254.85,465.86 262.06,467" fill="#00fff2" stroke="#00fff2"/>
<polygon points="202.73,504.5 195.46,503.17 199.33,495.94 206.59,497.24" fill="#00ff2b" stroke="#00ff2b"/>
<polygon points="180.47,516.32 173.18,514.93 177.05,507.71 184.32,509.07" fill="#26ff00" stroke="#26ff00"/>
<polygon points="158.17,527.99 150.86,526.54 154.73,519.33 162.02,520.75" fill="#78ff00" stroke="#78ff00"/>
<polygon points="102.28,556.52 94.93,554.91 98.79,547.73 106.13,549.31" fill="#ffb700" stroke="#ffb700"/>
<polygon points="79.87,567.68 72.51,566.01 76.37,558.84 83.72,560.48" fill="#ff6300" stroke="#ff6300"/>
<polygon points="224.96,492.53 217.7,491.27 221.57,484.02 228.81,485.26" fill="#00ff7b" stroke="#00ff7b"/>
<polygon points="213.85,498.54 206.59,497.24 210.45,490 217.7,491.27" fill="#00ff53" stroke="#00ff53"/>
<polygon points="147,533.77 139.69,532.29 143.55,525.08 150.86,526.54" fill="#a1ff00" stroke="#a1ff00"/>
<polygon points="135.83,539.51 128.51,538 132.37,530.8 139.69,532.29" fill="#caff00" stroke="#caff00"/>
<polygon points="269.28,468.14 262.06,467 265.93,459.73 273.12,460.84" fill="#00e4ff" stroke="#00e4ff"/>
<polygon points="236.06,486.49 228.81,485.26 232.68,478.01 239.91,479.21" fill="#00ffa3" stroke="#00ffa3"/>
<polygon points="124.65,545.22 117.32,543.67 121.19,536.48 128.51,538" fill="#f4ff00" stroke="#f4ff00"/>
<polygon points="91.08,562.12 83.72,560.48 87.58,553.3 94.93,554.91" fill="#ff8d00" stroke="#ff8d00"/>
<polygon points="276.5,469.28 269.28,468.14 273.12,460.84 280.33,461.95" fill="#00dcff" stroke="#00dcff"/>
<polygon points="254.39,481.62 247.14,480.41 250.99,473.13 258.22,474.3" fill="#00ffd3" stroke="#00ffd3"/>
<polygon points="243.31,487.73 236.06,486.49 239.91,479.21 247.14,480.41" fill="#00ffab" stroke="#00ffab"/>
<polygon points="198.9,511.79 191.61,510.43 195.46,503.17 202.73,504.5" fill="#00ff0b" stroke="#00ff0b"/>
<polygon points="187.77,517.71 180.47,516.32 184.32,509.07 191.61,510.43" fill="#1eff00" stroke="#1eff00"/>
<polygon points="176.63,523.59 169.32,522.18 173.18,514.93 180.47,516.32" fill="#46ff00" stroke="#46ff00"/>
<polygon points="165.49,529.44 158.17,527.99 162.02,520.75 169.32,522.18" fill="#6fff00" stroke="#6fff00"/>
<polygon points="120.82,552.46 113.47,550.89 117.32,543.67 124.65,545.22" fill="#ffea00" stroke="#ffea00"/>
<polygon points="109.64,558.13 102.28,556.52 106.13,549.31 113.47,550.89" fill="#ffc000" stroke="#ffc000"/>
<polygon points="87.25,569.34 79.87,567.68 83.72,560.48 91.08,562.12" fill="#ff6c00" stroke="#ff6c00"/>
<polygon points="221.13,499.83 213.85,498.54 217.7,491.27 224.96,492.53" fill="#00ff5b" stroke="#00ff5b"/>
<polygon points="210.02,505.83 202.73,504.5 206.59,497.24 213.85,498.54" fill="#00ff33" stroke="#00ff33"/>
<polygon points="154.33,535.25 147,533.77 150.86,526.54 158.17,527.99" fill="#98ff00" stroke="#98ff00"/>
<polygon points="143.17,541.03 135.83,539.51 139.69,532.29 147,533.77" fill="#c1ff00" stroke="#c1ff00"/>
<polygon points="265.45,475.47 258.22,474.3 262.06,467 269.28,468.14" fill="#00fffa" stroke="#00fffa"/>
<polygon points="232.22,493.8 224.96,492.53 228.81,485.26 236.06,486.49" fill="#00ff83" stroke="#00ff83"/>
<polygon points="132,546.76 124.65,545.22 128.51,538 135.83,539.51" fill="#ebff00" stroke="#ebff00"/>
<polygon points="98.44,563.75 91.08,562.12 94.93,554.91 102.28,556.52" fill="#ff9600" stroke="#ff9600"/>
<polygon points="272.69,476.64 265.45,475.47 269.28,468.14 276.5,469.28" fill="#00fcff" stroke="#00fcff"/>
<polygon points="239.5,495.06 232.22,493.8 236.06,486.49 243.31,487.73" fill="#00ff8c" stroke="#00ff8c"/>
<polygon points="183.95,525.01 176.63,523.59 180.47,516.32 187.77,517.71" fill="#3eff00" stroke="#3eff00"/>
<polygon points="128.18,554.03 120.82,552.46 124.65,545.22 132,546.76" fill="#fff300" stroke="#fff300"/>
<polygon points="94.63,571.01 87.25,569.34 91.08,562.12 98.44,563.75" fill="#ff7500" stroke="#ff7500"/>
<polygon points="217.31,507.15 210.02,505.83 213.85,498.54 221.13,499.83" fill="#00ff3c" stroke="#00ff3c"/>
<polygon points="206.2,513.14 198.9,511.79 202.73,504.5 210.02,505.83" fill="#00ff13" stroke="#00ff13"/>
<polygon points="195.08,519.1 187.77,517.71 191.61,510.43 198.9,511.79" fill="#15ff00" stroke="#15ff00"/>
<polygon points="172.82,530.89 165.49,529.44 169.32,522.18 176.63,523.59" fill="#67ff00" stroke="#67ff00"/>
<polygon points="161.67,536.73 154.33,535.25 158.17,527.99 165.49,529.44" fill="#8fff00" stroke="#8fff00"/>
<polygon points="150.52,542.54 143.17,541.03 147,533.77 154.33,535.25" fill="#b9ff00" stroke="#b9ff00"/>
<polygon points="261.64,482.82 254.39,481.62 258.22,474.3 265.45,475.47" fill="#00ffdb" stroke="#00ffdb"/>
<polygon points="250.57,488.96 243.31,487.73 247.14,480.41 254.39,481.62" fill="#00ffb3" stroke="#00ffb3"/>
<polygon points="228.41,501.12 221.13,499.83 224.96,492.53 232.22,493.8" fill="#00ff64" stroke="#00ff64"/>
<polygon points="139.35,548.3 132,546.76 135.83,539.51 143.17,541.03" fill="#e2ff00" stroke="#e2ff00"/>
<polygon points="117.01,559.73 109.64,558.13 113.47,550.89 120.82,552.46" fill="#ffc900" stroke="#ffc900"/>
<polygon points="105.82,565.39 98.44,563.75 102.28,556.52 109.64,558.13" fill="#ff9f00" stroke="#ff9f00"/>
<polygon points="268.9,484.01 261.64,482.82 265.45,475.47 272.69,476.64" fill="#00ffe3" stroke="#00ffe3"/>
<polygon points="235.7,502.42 228.41,501.12 232.22,493.8 239.5,495.06" fill="#00ff6c" stroke="#00ff6c"/>
<polygon points="135.55,555.6 128.18,554.03 132,546.76 139.35,548.3" fill="#fffc00" stroke="#fffc00"/>
<polygon points="102.02,572.67 94.63,571.01 98.44,563.75 105.82,565.39" fill="#ff7f00" stroke="#ff7f00"/>
<polygon points="213.51,514.5 206.2,513.14 210.02,505.83 217.31,507.15" fill="#00ff1c" stroke="#00ff1c"/>
<polygon points="191.28,526.43 183.95,525.01 187.77,517.71 195.08,519.1" fill="#35ff00" stroke="#35ff00"/>
<polygon points="180.16,532.34 172.82,530.89 176.63,523.59 183.95,525.01" fill="#5eff00" stroke="#5eff00"/>
<polygon points="157.87,544.04 150.52,542.54 154.33,535.25 161.67,536.73" fill="#b0ff00" stroke="#b0ff00"/>
<polygon points="246.78,496.32 239.5,495.06 243.31,487.73 250.57,488.96" fill="#00ff94" stroke="#00ff94"/>
<polygon points="224.61,508.47 217.31,507.15 221.13,499.83 228.41,501.12" fill="#00ff44" stroke="#00ff44"/>
<polygon points="202.4,520.48 195.08,519.1 198.9,511.79 206.2,513.14" fill="#0dff00" stroke="#0dff00"/>
<polygon points="169.02,538.21 161.67,536.73 165.49,529.44 172.82,530.89" fill="#87ff00" stroke="#87ff00"/>
<polygon points="146.72,549.84 139.35,548.3 143.17,541.03 150.52,542.54" fill="#d9ff00" stroke="#d9ff00"/>
<polygon points="124.38,561.33 117.01,559.73 120.82,552.46 128.18,554.03" fill="#ffd200" stroke="#ffd200"/>
<polygon points="257.85,490.18 250.57,488.96 254.39,481.62 261.64,482.82" fill="#00ffbb" stroke="#00ffbb"/>
<polygon points="113.21,567.02 105.82,565.39 109.64,558.13 117.01,559.73" fill="#ffa900" stroke="#ffa900"/>
<polygon points="231.92,509.79 224.61,508.47 228.41,501.12 235.7,502.42" fill="#00ff4c" stroke="#00ff4c"/>
<polygon points="142.93,557.17 135.55,555.6 139.35,548.3 146.72,549.84" fill="#f9ff00" stroke="#f9ff00"/>
<polygon points="265.13,491.41 257.85,490.18 261.64,482.82 268.9,484.01" fill="#00ffc3" stroke="#00ffc3"/>
<polygon points="243,503.7 235.7,502.42 239.5,495.06 246.78,496.32" fill="#00ff74" stroke="#00ff74"/>
<polygon points="220.83,515.85 213.51,514.5 217.31,507.15 224.61,508.47" fill="#00ff24" stroke="#00ff24"/>
<polygon points="209.73,521.86 202.4,520.48 206.2,513.14 213.51,514.5" fill="#04ff00" stroke="#04ff00"/>
<polygon points="198.62,527.84 191.28,526.43 195.08,519.1 202.4,520.48" fill="#2cff00" stroke="#2cff00"/>
<polygon points="187.5,533.78 180.16,532.34 183.95,525.01 191.28,526.43" fill="#55ff00" stroke="#55ff00"/>
<polygon points="176.37,539.68 169.02,538.21 172.82,530.89 180.16,532.34" fill="#7eff00" stroke="#7eff00"/>
<polygon points="165.23,545.55 157.87,544.04 161.67,536.73 169.02,538.21" fill="#a7ff00" stroke="#a7ff00"/>
<polygon points="154.09,551.38 146.72,549.84 150.52,542.54 157.87,544.04" fill="#d0ff00" stroke="#d0ff00"/>
<polygon points="131.77,562.93 124.38,561.33 128.18,554.03 135.55,555.6" fill="#ffdb00" stroke="#ffdb00"/>
<polygon points="109.43,574.33 102.02,572.67 105.82,565.39 113.21,567.02" fill="#ff8800" stroke="#ff8800"/>
<polygon points="254.07,497.58 246.78,496.32 250.57,488.96 257.85,490.18" fill="#00ff9c" stroke="#00ff9c"/>
<polygon points="120.6,568.65 113.21,567.02 117.01,559.73 124.38,561.33" fill="#ffb200" stroke="#ffb200"/>
<polygon points="228.16,517.19 220.83,515.85 224.61,508.47 231.92,509.79" fill="#00ff2d" stroke="#00ff2d"/>
<polygon points="150.32,558.74 142.93,557.17 146.72,549.84 154.09,551.38" fill="#f0ff00" stroke="#f0ff00"/>
<polygon points="261.37,498.83 254.07,497.58 257.85,490.18 265.13,491.41" fill="#00ffa4" stroke="#00ffa4"/>
<polygon points="239.24,511.11 231.92,509.79 235.7,502.42 243,503.7" fill="#00ff55" stroke="#00ff55"/>
<polygon points="205.97,529.25 198.62,527.84 202.4,520.48 209.73,521.86" fill="#24ff00" stroke="#24ff00"/>
<polygon points="172.61,547.05 165.23,545.55 169.02,538.21 176.37,539.68" fill="#9eff00" stroke="#9eff00"/>
<polygon points="139.17,564.52 131.77,562.93 135.55,555.6 142.93,557.17" fill="#ffe500" stroke="#ffe500"/>
<polygon points="116.84,575.99 109.43,574.33 113.21,567.02 120.6,568.65" fill="#ff9100" stroke="#ff9100"/>
<polygon points="250.31,504.99 243,503.7 246.78,496.32 254.07,497.58" fill="#00ff7c" stroke="#00ff7c"/>
<polygon points="217.07,523.24 209.73,521.86 213.51,514.5 220.83,515.85" fill="#00ff05" stroke="#00ff05"/>
<polygon points="194.86,535.22 187.5,533.78 191.28,526.43 198.62,527.84" fill="#4cff00" stroke="#4cff00"/>
<polygon points="183.74,541.15 176.37,539.68 180.16,532.34 187.5,533.78" fill="#75ff00" stroke="#75ff00"/>
<polygon points="161.47,552.91 154.09,551.38 157.87,544.04 165.23,545.55" fill="#c7ff00" stroke="#c7ff00"/>
<polygon points="128.01,570.27 120.6,568.65 124.38,561.33 131.77,562.93" fill="#ffbb00" stroke="#ffbb00"/>
<polygon points="257.63,506.28 250.31,504.99 254.07,497.58 261.37,498.83" fill="#00ff85" stroke="#00ff85"/>
<polygon points="235.5,518.54 228.16,517.19 231.92,509.79 239.24,511.11" fill="#00ff35" stroke="#00ff35"/>
<polygon points="224.42,524.62 217.07,523.24 220.83,515.85 228.16,517.19" fill="#00ff0d" stroke="#00ff0d"/>
<polygon points="213.32,530.66 205.97,529.25 209.73,521.86 217.07,523.24" fill="#1bff00" stroke="#1bff00"/>
<polygon points="202.22,536.66 194.86,535.22 198.62,527.84 205.97,529.25" fill="#44ff00" stroke="#44ff00"/>
<polygon points="179.99,548.55 172.61,547.05 176.37,539.68 183.74,541.15" fill="#95ff00" stroke="#95ff00"/>
<polygon points="168.86,554.44 161.47,552.91 165.23,545.55 172.61,547.05" fill="#beff00" stroke="#beff00"/>
<polygon points="157.72,560.3 150.32,558.74 154.09,551.38 161.47,552.91" fill="#e7ff00" stroke="#e7ff00"/>
<polygon points="146.58,566.12 139.17,564.52 142.93,557.17 150.32,558.74" fill="#ffee00" stroke="#ffee00"/>
<polygon points="124.26,577.64 116.84,575.99 120.6,568.65 128.01,570.27" fill="#ff9b00" stroke="#ff9b00"/>
<polygon points="246.57,512.43 239.24,511.11 243,503.7 250.31,504.99" fill="#00ff5d" stroke="#00ff5d"/>
<polygon points="191.11,542.63 183.74,541.15 187.5,533.78 194.86,535.22" fill="#6cff00" stroke="#6cff00"/>
<polygon points="135.42,571.9 128.01,570.27 131.77,562.93 139.17,564.52" fill="#ffc400" stroke="#ffc400"/>
<polygon points="220.69,532.06 213.32,530.66 217.07,523.24 224.42,524.62" fill="#13ff00" stroke="#13ff00"/>
<polygon points="165.13,561.86 157.72,560.3 161.47,552.91 168.86,554.44" fill="#deff00" stroke="#deff00"/>
<polygon points="253.9,513.74 246.57,512.43 250.31,504.99 257.63,506.28" fill="#00ff65" stroke="#00ff65"/>
<polygon points="131.69,579.3 124.26,577.64 128.01,570.27 135.42,571.9" fill="#ffa400" stroke="#ffa400"/>
<polygon points="242.84,519.89 235.5,518.54 239.24,511.11 246.57,512.43" fill="#00ff3e" stroke="#00ff3e"/>
<polygon points="231.77,525.99 224.42,524.62 228.16,517.19 235.5,518.54" fill="#00ff16" stroke="#00ff16"/>
<polygon points="209.59,538.1 202.22,536.66 205.97,529.25 213.32,530.66" fill="#3bff00" stroke="#3bff00"/>
<polygon points="198.49,544.09 191.11,542.63 194.86,535.22 202.22,536.66" fill="#63ff00" stroke="#63ff00"/>
<polygon points="187.38,550.05 179.99,548.55 183.74,541.15 191.11,542.63" fill="#8cff00" stroke="#8cff00"/>
<polygon points="176.26,555.97 168.86,554.44 172.61,547.05 179.99,548.55" fill="#b5ff00" stroke="#b5ff00"/>
<polygon points="153.99,567.71 146.58,566.12 150.32,558.74 157.72,560.3" fill="#fff700" stroke="#fff700"/>
<polygon points="142.85,573.52 135.42,571.9 139.17,564.52 146.58,566.12" fill="#ffcd00" stroke="#ffcd00"/>
<polygon points="250.2,521.23 242.84,519.89 246.57,512.43 253.9,513.74" fill="#00ff46" stroke="#00ff46"/>
<polygon points="228.06,533.47 220.69,532.06 224.42,524.62 231.77,525.99" fill="#0aff00" stroke="#0aff00"/>
<polygon points="216.98,539.53 209.59,538.1 213.32,530.66 220.69,532.06" fill="#32ff00" stroke="#32ff00"/>
<polygon points="172.55,563.42 165.13,561.86 168.86,554.44 176.26,555.97" fill="#d5ff00" stroke="#d5ff00"/>
<polygon points="161.42,569.3 153.99,567.71 157.72,560.3 165.13,561.86" fill="#feff00" stroke="#feff00"/>
<polygon points="139.13,580.95 131.69,579.3 135.42,571.9 142.85,573.52" fill="#ffad00" stroke="#ffad00"/>
<polygon points="194.78,551.55 187.38,550.05 191.11,542.63 198.49,544.09" fill="#83ff00" stroke="#83ff00"/>
<polygon points="239.13,527.37 231.77,525.99 235.5,518.54 242.84,519.89" fill="#00ff1e" stroke="#00ff1e"/>
<polygon points="205.88,545.56 198.49,544.09 202.22,536.66 209.59,538.1" fill="#5bff00" stroke="#5bff00"/>
<polygon points="183.67,557.5 176.26,555.97 179.99,548.55 187.38,550.05" fill="#acff00" stroke="#acff00"/>
<polygon points="150.28,575.14 142.85,573.52 146.58,566.12 153.99,567.71" fill="#ffd700" stroke="#ffd700"/>
<polygon points="246.5,528.74 239.13,527.37 242.84,519.89 250.2,521.23" fill="#00ff27" stroke="#00ff27"/>
<polygon points="235.44,534.87 228.06,533.47 231.77,525.99 239.13,527.37" fill="#01ff00" stroke="#01ff00"/>
<polygon points="224.37,540.96 216.98,539.53 220.69,532.06 228.06,533.47" fill="#29ff00" stroke="#29ff00"/>
<polygon points="213.28,547.02 205.88,545.56 209.59,538.1 216.98,539.53" fill="#52ff00" stroke="#52ff00"/>
<polygon points="202.19,553.04 194.78,551.55 198.49,544.09 205.88,545.56" fill="#7aff00" stroke="#7aff00"/>
<polygon points="191.09,559.03 183.67,557.5 187.38,550.05 194.78,551.55" fill="#a3ff00" stroke="#a3ff00"/>
<polygon points="179.97,564.97 172.55,563.42 176.26,555.97 183.67,557.5" fill="#ccff00" stroke="#ccff00"/>
<polygon points="168.85,570.88 161.42,569.3 165.13,561.86 172.55,563.42" fill="#f5ff00" stroke="#f5ff00"/>
<polygon points="157.72,576.76 150.28,575.14 153.99,567.71 161.42,569.3" fill="#ffe000" stroke="#ffe000"/>
<polygon points="146.58,582.59 139.13,580.95 142.85,573.52 150.28,575.14" fill="#ffb700" stroke="#ffb700"/>
<polygon points="242.83,536.27 235.44,534.87 239.13,527.37 246.5,528.74" fill="#00ff07" stroke="#00ff07"/>
<polygon points="209.61,554.54 202.19,553.04 205.88,545.56 213.28,547.02" fill="#71ff00" stroke="#71ff00"/>
<polygon points="187.41,566.53 179.97,564.97 183.67,557.5 191.09,559.03" fill="#c3ff00" stroke="#c3ff00"/>
<polygon points="154.04,584.24 146.58,582.59 150.28,575.14 157.72,576.76" fill="#ffc000" stroke="#ffc000"/>
<polygon points="231.77,542.4 224.37,540.96 228.06,533.47 235.44,534.87" fill="#21ff00" stroke="#21ff00"/>
<polygon points="220.69,548.48 213.28,547.02 216.98,539.53 224.37,540.96" fill="#49ff00" stroke="#49ff00"/>
<polygon points="198.51,560.55 191.09,559.03 194.78,551.55 202.19,553.04" fill="#9aff00" stroke="#9aff00"/>
<polygon points="176.29,572.47 168.85,570.88 172.55,563.42 179.97,564.97" fill="#ecff00" stroke="#ecff00"/>
<polygon points="165.17,578.37 157.72,576.76 161.42,569.3 168.85,570.88" fill="#ffe900" stroke="#ffe900"/>
<polygon points="239.18,543.82 231.77,542.4 235.44,534.87 242.83,536.27" fill="#18ff00" stroke="#18ff00"/>
<polygon points="217.03,556.03 209.61,554.54 213.28,547.02 220.69,548.48" fill="#69ff00" stroke="#69ff00"/>
<polygon points="205.95,562.07 198.51,560.55 202.19,553.04 209.61,554.54" fill="#91ff00" stroke="#91ff00"/>
<polygon points="194.85,568.08 187.41,566.53 191.09,559.03 198.51,560.55" fill="#baff00" stroke="#baff00"/>
<polygon points="183.75,574.05 176.29,572.47 179.97,564.97 187.41,566.53" fill="#e3ff00" stroke="#e3ff00"/>
<polygon points="161.51,585.88 154.04,584.24 157.72,576.76 165.17,578.37" fill="#ffc900" stroke="#ffc900"/>
<polygon points="228.11,549.94 220.69,548.48 224.37,540.96 231.77,542.4" fill="#40ff00" stroke="#40ff00"/>
<polygon points="172.63,579.99 165.17,578.37 168.85,570.88 176.29,572.47" fill="#fff200" stroke="#fff200"/>
<polygon points="202.31,569.63 194.85,568.08 198.51,560.55 205.95,562.07" fill="#b1ff00" stroke="#b1ff00"/>
<polygon points="235.54,551.4 228.11,549.94 231.77,542.4 239.18,543.82" fill="#37ff00" stroke="#37ff00"/>
<polygon points="224.47,557.51 217.03,556.03 220.69,548.48 228.11,549.94" fill="#60ff00" stroke="#60ff00"/>
<polygon points="213.39,563.59 205.95,562.07 209.61,554.54 217.03,556.03" fill="#88ff00" stroke="#88ff00"/>
<polygon points="191.21,575.63 183.75,574.05 187.41,566.53 194.85,568.08" fill="#d9ff00" stroke="#d9ff00"/>
<polygon points="180.1,581.6 172.63,579.99 176.29,572.47 183.75,574.05" fill="#fffc00" stroke="#fffc00"/>
<polygon points="168.99,587.53 161.51,585.88 165.17,578.37 172.63,579.99" fill="#ffd300" stroke="#ffd300"/>
<polygon points="231.91,559 224.47,557.51 228.11,549.94 235.54,551.4" fill="#57ff00" stroke="#57ff00"/>
<polygon points="209.77,571.18 202.31,569.63 205.95,562.07 213.39,563.59" fill="#a8ff00" stroke="#a8ff00"/>
<polygon points="198.68,577.21 191.21,575.63 194.85,568.08 202.31,569.63" fill="#d0ff00" stroke="#d0ff00"/>
<polygon points="176.48,589.16 168.99,587.53 172.63,579.99 180.1,581.6" fill="#ffdc00" stroke="#ffdc00"/>
<polygon points="220.85,565.11 213.39,563.59 217.03,556.03 224.47,557.51" fill="#7fff00" stroke="#7fff00"/>
<polygon points="187.58,583.2 180.1,581.6 183.75,574.05 191.21,575.63" fill="#f9ff00" stroke="#f9ff00"/>
<polygon points="228.31,566.62 220.85,565.11 224.47,557.51 231.91,559" fill="#76ff00" stroke="#76ff00"/>
<polygon points="217.24,572.72 209.77,571.18 213.39,563.59 220.85,565.11" fill="#9eff00" stroke="#9eff00"/>
<polygon points="206.16,578.78 198.68,577.21 202.31,569.63 209.77,571.18" fill="#c7ff00" stroke="#c7ff00"/>
<polygon points="195.07,584.81 187.58,583.2 191.21,575.63 198.68,577.21" fill="#f0ff00" stroke="#f0ff00"/>
<polygon points="183.98,590.8 176.48,589.16 180.1,581.6 187.58,583.2" fill="#ffe500" stroke="#ffe500"/>
<polygon points="224.72,574.26 217.24,572.72 220.85,565.11 228.31,566.62" fill="#95ff00" stroke="#95ff00"/>
<polygon points="191.48,592.44 183.98,590.8 187.58,583.2 195.07,584.81" fill="#ffef00" stroke="#ffef00"/>
<polygon points="213.65,580.36 206.16,578.78 209.77,571.18 217.24,572.72" fill="#beff00" stroke="#beff00"/>
<polygon points="202.57,586.41 195.07,584.81 198.68,577.21 206.16,578.78" fill="#e7ff00" stroke="#e7ff00"/>
<polygon points="221.15,581.93 213.65,580.36 217.24,572.72 224.72,574.26" fill="#b5ff00" stroke="#b5ff00"/>
<polygon points="199,594.07 191.48,592.44 195.07,584.81 202.57,586.41" fill="#fff800" stroke="#fff800"/>
<polygon points="210.08,588.02 202.57,586.41 206.16,578.78 213.65,580.36" fill="#ddff00" stroke="#ddff00"/>
<polygon points="217.6,589.62 210.08,588.02 213.65,580.36 221.15,581.93" fill="#d4ff00" stroke="#d4ff00"/>
<polygon points="206.52,595.7 199,594.07 202.57,586.41 210.08,588.02" fill="#fdff00" stroke="#fdff00"/>
<polygon points="214.06,597.32 206.52,595.7 210.08,588.02 217.6,589.62" fill="#f4ff00" stroke="#f4ff00"/>
</g>
<g fill="none" stroke="#1e1e1e" stroke-width="0.7" stroke-linejoin="round">
<polyline points="214.06,597.32 221.15,581.93 228.31,566.62 235.54,551.4 242.83,536.27 250.2,521.23 257.63,506.28 265.13,491.41 272.69,476.64 280.33,461.95 288.03,447.35"/>
<polyline points="214.06,597.32 199,594.07 183.98,590.8 168.99,587.53 154.04,584.24 139.13,580.95 124.26,577.64 109.43,574.33 94.63,571.01 79.87,567.68 65.15,564.34"/>
<polyline points="206.52,595.7 213.65,580.36 220.85,565.11 228.11,549.94 235.44,534.87 242.84,519.89 250.31,504.99 257.85,490.18 265.45,475.47 273.12,460.84 280.86,446.3"/>
<polyline points="217.6,589.62 202.57,586.41 187.58,583.2 172.63,579.99 157.72,576.76 142.85,573.52 128.01,570.27 113.21,567.02 98.44,563.75 83.72,560.48 69.03,557.19"/>
<polyline points="199,594.07 206.16,578.78 213.39,563.59 220.69,548.48 228.06,533.47 235.5,518.54 243,503.7 250.57,488.96 258.22,474.3 265.93,459.73 273.7,445.25"/>
<polyline points="221.15,581.93 206.16,578.78 191.21,575.63 176.29,572.47 161.42,569.3 146.58,566.12 131.77,562.93 117.01,559.73 102.28,556.52 87.58,553.3 72.93,550.08"/>
<polyline points="191.48,592.44 198.68,577.21 205.95,562.07 213.28,547.02 220.69,532.06 228.16,517.19 235.7,502.42 243.31,487.73 250.99,473.13 258.74,458.61 266.55,444.19"/>
<polyline points="224.72,574.26 209.77,571.18 194.85,568.08 179.97,564.97 165.13,561.86 150.32,558.74 135.55,555.6 120.82,552.46 106.13,549.31 91.47,546.15 76.84,542.98"/>
<polyline points="183.98,590.8 191.21,575.63 198.51,560.55 205.88,545.56 213.32,530.66 220.83,515.85 228.41,501.12 236.06,486.49 243.77,471.95 251.56,457.5 259.41,443.14"/>
<polyline points="228.31,566.62 213.39,563.59 198.51,560.55 183.67,557.5 168.86,554.44 154.09,551.38 139.35,548.3 124.65,545.22 109.99,542.13 95.37,539.02 80.78,535.91"/>
<polyline points="176.48,589.16 183.75,574.05 191.09,559.03 198.49,544.09 205.97,529.25 213.51,514.5 221.13,499.83 228.81,485.26 236.56,470.78 244.38,456.38 252.27,442.08"/>
<polyline points="231.91,559 217.03,556.03 202.19,553.04 187.38,550.05 172.61,547.05 157.87,544.04 143.17,541.03 128.51,538 113.88,534.96 99.28,531.92 84.73,528.87"/>
<polyline points="168.99,587.53 176.29,572.47 183.67,557.5 191.11,542.63 198.62,527.84 206.2,513.14 213.85,498.54 221.57,484.02 229.36,469.6 237.22,455.26 245.14,441.02"/>
<polyline points="235.54,551.4 220.69,548.48 205.88,545.56 191.11,542.63 176.37,539.68 161.67,536.73 147,533.77 132.37,530.8 117.78,527.82 103.22,524.84 88.7,521.84"/>
<polyline points="161.51,585.88 168.85,570.88 176.26,555.97 183.74,541.15 191.28,526.43 198.9,511.79 206.59,497.24 214.34,482.78 222.16,468.42 230.06,454.14 238.02,439.96"/>
<polyline points="239.18,543.82 224.37,540.96 209.59,538.1 194.86,535.22 180.16,532.34 165.49,529.44 150.86,526.54 136.26,523.63 121.7,520.71 107.17,517.78 92.68,514.84"/>
<polyline points="154.04,584.24 161.42,569.3 168.86,554.44 176.37,539.68 183.95,525.01 191.61,510.43 199.33,495.94 207.12,481.54 214.98,467.23 222.91,453.02 230.91,438.89"/>
<polyline points="242.83,536.27 228.06,533.47 213.32,530.66 198.62,527.84 183.95,525.01 169.32,522.18 154.73,519.33 140.16,516.48 125.64,513.61 111.15,510.74 96.69,507.86"/>
<polyline points="146.58,582.59 153.99,567.71 161.47,552.91 169.02,538.21 176.63,523.59 184.32,509.07 192.08,494.64 199.9,480.3 207.8,466.05 215.77,451.89 223.8,437.82"/>
<polyline points="246.5,528.74 231.77,525.99 217.07,523.24 202.4,520.48 187.77,517.71 173.18,514.93 158.61,512.14 144.09,509.35 129.59,506.54 115.14,503.73 100.71,500.91"/>
<polyline points="139.13,580.95 146.58,566.12 154.09,551.38 161.67,536.73 169.32,522.18 177.05,507.71 184.84,493.34 192.7,479.05 200.63,464.86 208.63,450.76 216.7,436.76"/>
<polyline points="250.2,521.23 235.5,518.54 220.83,515.85 206.2,513.14 191.61,510.43 177.05,507.71 162.52,504.98 148.03,502.24 133.57,499.5 119.14,496.74 104.75,493.98"/>
<polyline points="131.69,579.3 139.17,564.52 146.72,549.84 154.33,535.25 162.02,520.75 169.78,506.35 177.6,492.03 185.5,477.81 193.47,463.68 201.51,449.64 209.61,435.69"/>
<polyline points="253.9,513.74 239.24,511.11 224.61,508.47 210.02,505.83 195.46,503.17 180.93,500.51 166.44,497.84 151.98,495.16 137.56,492.47 123.17,489.78 108.81,487.07"/>
<polyline points="124.26,577.64 131.77,562.93 139.35,548.3 147,533.77 154.73,519.33 162.52,504.98 170.38,490.72 178.31,476.56 186.31,462.49 194.39,448.5 202.53,434.61"/>
<polyline points="257.63,506.28 243,503.7 228.41,501.12 213.85,498.54 199.33,495.94 184.84,493.34 170.38,490.72 155.96,488.1 141.57,485.47 127.21,482.84 112.89,480.19"/>
<polyline points="116.84,575.99 124.38,561.33 132,546.76 139.69,532.29 147.44,517.9 155.27,503.61 163.16,489.42 171.13,475.31 179.17,461.29 187.28,447.37 195.46,433.54"/>
<polyline points="261.37,498.83 246.78,496.32 232.22,493.8 217.7,491.27 203.21,488.73 188.76,486.18 174.34,483.63 159.95,481.07 145.59,478.5 131.27,475.92 116.98,473.33"/>
<polyline points="109.43,574.33 117.01,559.73 124.65,545.22 132.37,530.8 140.16,516.48 148.03,502.24 155.96,488.1 163.96,474.06 172.03,460.1 180.17,446.24 188.39,432.46"/>
<polyline points="265.13,491.41 250.57,488.96 236.06,486.49 221.57,484.02 207.12,481.54 192.7,479.05 178.31,476.56 163.96,474.06 149.64,471.54 135.35,469.02 121.09,466.5"/>
<polyline points="102.02,572.67 109.64,558.13 117.32,543.67 125.07,529.31 132.9,515.05 140.79,500.87 148.76,486.79 156.79,472.8 164.9,458.9 173.08,445.1 181.33,431.39"/>
<polyline points="268.9,484.01 254.39,481.62 239.91,479.21 225.46,476.8 211.04,474.38 196.66,471.95 182.3,469.51 167.99,467.07 153.7,464.61 139.45,462.15 125.23,459.68"/>
<polyline points="94.63,571.01 102.28,556.52 109.99,542.13 117.78,527.82 125.64,513.61 133.57,499.5 141.57,485.47 149.64,471.54 157.78,457.71 165.99,443.96 174.28,430.31"/>
<polyline points="272.69,476.64 258.22,474.3 243.77,471.95 229.36,469.6 214.98,467.23 200.63,464.86 186.31,462.49 172.03,460.1 157.78,457.71 143.56,455.3 129.37,452.89"/>
<polyline points="87.25,569.34 94.93,554.91 102.67,540.58 110.5,526.33 118.39,512.18 126.35,498.12 134.38,484.16 142.49,470.28 150.67,456.51 158.91,442.82 167.23,429.23"/>
<polyline points="276.5,469.28 262.06,467 247.65,464.71 233.28,462.42 218.93,460.11 204.62,457.8 190.34,455.48 176.09,453.16 161.88,450.82 147.69,448.48 133.54,446.13"/>
<polyline points="79.87,567.68 87.58,553.3 95.37,539.02 103.22,524.84 111.15,510.74 119.14,496.74 127.21,482.84 135.35,469.02 143.56,455.3 151.84,441.68 160.2,428.14"/>
<polyline points="280.33,461.95 265.93,459.73 251.56,457.5 237.22,455.26 222.91,453.02 208.63,450.76 194.39,448.5 180.17,446.24 165.99,443.96 151.84,441.68 137.72,439.38"/>
<polyline points="72.51,566.01 80.25,551.69 88.07,537.47 95.95,523.34 103.91,509.31 111.94,495.36 120.04,481.52 128.22,467.76 136.46,454.1 144.78,440.53 153.17,427.06"/>
<polyline points="284.17,454.64 269.81,452.48 255.47,450.31 241.17,448.13 226.9,445.94 212.66,443.75 198.45,441.55 184.27,439.34 170.13,437.12 156.01,434.9 141.93,432.67"/>
<polyline points="65.15,564.34 72.93,550.08 80.78,535.91 88.7,521.84 96.69,507.86 104.75,493.98 112.89,480.19 121.09,466.5 129.37,452.89 137.72,439.38 146.15,425.97"/>
<polyline points="288.03,447.35 273.7,445.25 259.41,443.14 245.14,441.02 230.91,438.89 216.7,436.76 202.53,434.61 188.39,432.46 174.28,430.31 160.2,428.14 146.15,425.97"/>
</g>
<text transform="translate(62.16,583.83) scale(0.92,1)" font-family="Liberation Sans, sans-serif" font-size="8.4" font-weight="normal" fill="#333" text-anchor="end" stroke="#333" stroke-width="0.15">-23</text>
<text transform="translate(60.4,562.86) scale(0.92,1)" font-family="Liberation Sans, sans-serif" font-size="8.4" font-weight="normal" fill="#333" text-anchor="end" stroke="#333" stroke-width="0.15">-25.2</text>
<text transform="translate(58.64,541.88) scale(0.92,1)" font-family="Liberation Sans, sans-serif" font-size="8.4" font-weight="normal" fill="#333" text-anchor="end" stroke="#333" stroke-width="0.15">-27.4</text>
<text transform="translate(56.88,520.91) scale(0.92,1)" font-family="Liberation Sans, sans-serif" font-size="8.4" font-weight="normal" fill="#333" text-anchor="end" stroke="#333" stroke-width="0.15">-29.6</text>
<text transform="translate(55.12,499.94) scale(0.92,1)" font-family="Liberation Sans, sans-serif" font-size="8.4" font-weight="normal" fill="#333" text-anchor="end" stroke="#333" stroke-width="0.15">-31.8</text>
<text transform="translate(53.37,478.97) scale(0.92,1)" font-family="Liberation Sans, sans-serif" font-size="8.4" font-weight="normal" fill="#333" text-anchor="end" stroke="#333" stroke-width="0.15">-34</text>
<text transform="translate(62.36,594.83) scale(0.92,1)" font-family="Liberation Sans, sans-serif" font-size="8.4" font-weight="normal" fill="#333" text-anchor="end" stroke="#333" stroke-width="0.15">1</text>
<text transform="translate(284.97,553.39) scale(0.92,1)" font-family="Liberation Sans, sans-serif" font-size="8.4" font-weight="normal" fill="#333" text-anchor="start" stroke="#333" stroke-width="0.15">1</text>
<text transform="translate(98.96,607.95) scale(0.92,1)" font-family="Liberation Sans, sans-serif" font-size="8.4" font-weight="normal" fill="#333" text-anchor="end" stroke="#333" stroke-width="0.15">0.5</text>
<text transform="translate(268.16,576.87) scale(0.92,1)" font-family="Liberation Sans, sans-serif" font-size="8.4" font-weight="normal" fill="#333" text-anchor="start" stroke="#333" stroke-width="0.15">0.5</text>
<text transform="translate(135.55,621.07) scale(0.92,1)" font-family="Liberation Sans, sans-serif" font-size="8.4" font-weight="normal" fill="#333" text-anchor="end" stroke="#333" stroke-width="0.15">0</text>
<text transform="translate(251.35,600.35) scale(0.92,1)" font-family="Liberation Sans, sans-serif" font-size="8.4" font-weight="normal" fill="#333" text-anchor="start" stroke="#333" stroke-width="0.15">0</text>
<text transform="translate(172.14,634.19) scale(0.92,1)" font-family="Liberation Sans, sans-serif" font-size="8.4" font-weight="normal" fill="#333" text-anchor="end" stroke="#333" stroke-width="0.15">-0.5</text>
<text transform="translate(234.54,623.83) scale(0.92,1)" font-family="Liberation Sans, sans-serif" font-size="8.4" font-weight="normal" fill="#333" text-anchor="start" stroke="#333" stroke-width="0.15">-0.5</text>
<text transform="translate(208.73,647.31) scale(0.92,1)" font-family="Liberation Sans, sans-serif" font-size="8.4" font-weight="normal" fill="#333" text-anchor="end" stroke="#333" stroke-width="0.15">-1</text>
<text transform="translate(217.73,647.31) scale(0.92,1)" font-family="Liberation Sans, sans-serif" font-size="8.4" font-weight="normal" fill="#333" text-anchor="start" stroke="#333" stroke-width="0.15">-1</text>
<text transform="translate(32.2,361.7) scale(0.95,1)" font-family="Liberation Sans, sans-serif" font-size="7" font-weight="bold" fill="#111" text-anchor="start" textLength="63.43" lengthAdjust="spacing">Zeta Potential (mV)</text>
<defs><linearGradient id="gc" x1="0" x2="1" y1="0" y2="0"><stop offset="0" stop-color="#0000ff"/><stop offset="0.5" stop-color="#00ff00"/><stop offset="1" stop-color="#ff0000"/></linearGradient></defs>
<rect x="56.1" y="366.1" width="22.7" height="6.6" fill="url(#gc)" stroke="#222" stroke-width="0.6"/>
<text transform="translate(35.2,372.6) scale(0.93,1)" font-family="Liberation Sans, sans-serif" font-size="6.6" font-weight="normal" fill="#5a5aff" text-anchor="start" textLength="18.77" lengthAdjust="spacing" stroke="#5a5aff" stroke-width="0.15">-35.12</text>
<text transform="translate(83,372.6) scale(0.96,1)" font-family="Liberation Sans, sans-serif" font-size="6.6" font-weight="normal" fill="#ff4a4a" text-anchor="start" textLength="18.74" lengthAdjust="spacing" stroke="#ff4a4a" stroke-width="0.15">-24.56</text>
<text transform="translate(32.2,400.2) scale(0.95,1)" font-family="Liberation Sans, sans-serif" font-size="6.8" font-weight="normal" fill="#3a3a3a" text-anchor="start" textLength="58.81" lengthAdjust="spacing" stroke="#3a3a3a" stroke-width="0.15">X1 = B: Cholesterol</text>
<text transform="translate(32.2,408.3) scale(0.94,1)" font-family="Liberation Sans, sans-serif" font-size="6.8" font-weight="normal" fill="#3a3a3a" text-anchor="start" textLength="62.23" lengthAdjust="spacing" stroke="#3a3a3a" stroke-width="0.15">X2 = C: Egg Lecithin</text>
<text transform="translate(32.2,425.1) scale(0.92,1)" font-family="Liberation Sans, sans-serif" font-size="6.8" font-weight="bold" fill="#111" text-anchor="start" textLength="43.89" lengthAdjust="spacing">Coded Factor</text>
<text transform="translate(32.2,433.4) scale(0.94,1)" font-family="Liberation Sans, sans-serif" font-size="6.8" font-weight="normal" fill="#3a3a3a" text-anchor="start" textLength="58.46" lengthAdjust="spacing" stroke="#3a3a3a" stroke-width="0.15">A: Span 60 = 0.000</text>
<text transform="translate(22.8,517.9) rotate(-90)" x="0" y="0" font-family="Liberation Sans, sans-serif" font-size="8.5" fill="#333" stroke="#333" stroke-width="0.12" text-anchor="middle" textLength="68.3" lengthAdjust="spacing">Zeta Potential (mV)</text>
<text transform="translate(87.3,650.5) scale(0.96,1)" font-family="Liberation Sans, sans-serif" font-size="8.1" font-weight="normal" fill="#333" text-anchor="start" textLength="50.91" lengthAdjust="spacing" stroke="#333" stroke-width="0.15">B: Cholesterol</text>
<text transform="translate(269,612) scale(0.94,1)" font-family="Liberation Sans, sans-serif" font-size="8.1" font-weight="normal" fill="#333" text-anchor="start" textLength="54.98" lengthAdjust="spacing" stroke="#333" stroke-width="0.15">C: Egg Lecithin</text>
<text transform="translate(298.7,364.9)" font-family="Liberation Serif, serif" font-size="18" font-weight="normal" fill="#111" text-anchor="start" textLength="20.8" lengthAdjust="spacing">(c)</text>
<line x1="396.78" y1="444.57" x2="486.3" y2="375" stroke="#3a3a3a" stroke-width="0.9"/>
<line x1="407.22" y1="566.79" x2="489.1" y2="486.99" stroke="#3a3a3a" stroke-width="0.9"/>
<line x1="405.45" y1="546.01" x2="488.62" y2="467.95" stroke="#3a3a3a" stroke-width="0.9"/>
<line x1="403.67" y1="525.23" x2="488.15" y2="448.91" stroke="#3a3a3a" stroke-width="0.9"/>
<line x1="401.89" y1="504.45" x2="487.67" y2="429.87" stroke="#3a3a3a" stroke-width="0.9"/>
<line x1="400.12" y1="483.67" x2="487.2" y2="410.83" stroke="#3a3a3a" stroke-width="0.9"/>
<line x1="429.14" y1="567.18" x2="421.89" y2="465.46" stroke="#3a3a3a" stroke-width="0.9"/>
<line x1="449.29" y1="546.8" x2="443.66" y2="447.25" stroke="#3a3a3a" stroke-width="0.9"/>
<line x1="469.43" y1="526.41" x2="465.43" y2="429.04" stroke="#3a3a3a" stroke-width="0.9"/>
<line x1="409" y1="587.57" x2="396.78" y2="444.57" stroke="#3a3a3a" stroke-width="0.9"/>
<line x1="489.57" y1="506.03" x2="486.3" y2="375" stroke="#3a3a3a" stroke-width="0.9"/>
<line x1="486.3" y1="375" x2="633.34" y2="408.85" stroke="#3a3a3a" stroke-width="0.9"/>
<line x1="489.1" y1="486.99" x2="623.96" y2="526.73" stroke="#3a3a3a" stroke-width="0.9"/>
<line x1="488.62" y1="467.95" x2="625.56" y2="506.69" stroke="#3a3a3a" stroke-width="0.9"/>
<line x1="488.15" y1="448.91" x2="627.15" y2="486.65" stroke="#3a3a3a" stroke-width="0.9"/>
<line x1="487.67" y1="429.87" x2="628.75" y2="466.61" stroke="#3a3a3a" stroke-width="0.9"/>
<line x1="487.2" y1="410.83" x2="630.34" y2="446.57" stroke="#3a3a3a" stroke-width="0.9"/>
<line x1="522.77" y1="516.21" x2="522.98" y2="419.76" stroke="#3a3a3a" stroke-width="0.9"/>
<line x1="555.97" y1="526.4" x2="558.77" y2="428.7" stroke="#3a3a3a" stroke-width="0.9"/>
<line x1="589.17" y1="536.59" x2="594.55" y2="437.63" stroke="#3a3a3a" stroke-width="0.9"/>
<line x1="622.37" y1="546.78" x2="633.34" y2="408.85" stroke="#3a3a3a" stroke-width="0.9"/>
<polygon points="409,587.57 555.28,640.26 622.37,546.78 489.57,506.03" fill="#646464" stroke="#111" stroke-width="1" stroke-linejoin="round"/>
<defs><clipPath id="fcd"><polygon points="409,587.57 555.28,640.26 622.37,546.78 489.57,506.03"/></clipPath></defs>
<polyline points="571.39,617.82 569.29,617.63 567.19,617.44 565.08,617.24 562.98,617.05 560.87,616.86 558.76,616.67 556.64,616.48 554.53,616.28 552.41,616.09 550.29,615.9 548.16,615.7 546.04,615.51 543.91,615.32 541.78,615.12 539.64,614.93 537.51,614.73 535.37,614.54 533.23,614.34 531.08,614.15 528.94,613.95 526.79,613.76 524.64,613.56 522.48,613.37 520.32,613.17 518.16,612.97 516,612.78 513.84,612.58 511.67,612.38 509.5,612.19 507.32,611.99 505.15,611.79 502.97,611.59 500.79,611.4 498.6,611.2 496.42,611 494.23,610.8 492.03,610.6 489.84,610.4 487.64,610.2 485.44,610 483.23,609.8 481.03,609.6 478.82,609.4 476.6,609.2 474.39,609 472.17,608.8 469.95,608.6 467.72,608.4" fill="none" stroke="#ffbe00" stroke-width="1.5"/>
<polyline points="585.55,598.08 583.51,597.89 581.46,597.71 579.41,597.52 577.36,597.33 575.31,597.14 573.25,596.96 571.2,596.77 569.14,596.58 567.07,596.39 565.01,596.2 562.94,596.01 560.87,595.82 558.8,595.63 556.73,595.44 554.65,595.25 552.57,595.06 550.49,594.87 548.41,594.68 546.32,594.49 544.24,594.3 542.14,594.11 540.05,593.92 537.96,593.73 535.86,593.54 533.76,593.35 531.65,593.15 529.55,592.96 527.44,592.77 525.33,592.58 523.21,592.38 521.1,592.19 518.98,592 516.86,591.81 514.73,591.61 512.61,591.42 510.48,591.22 508.35,591.03 506.21,590.84 504.08,590.64 501.94,590.45 499.79,590.25 497.65,590.06 495.5,589.86 493.35,589.67 491.2,589.47 489.04,589.27 486.88,589.08 484.72,588.88 482.56,588.69 480.39,588.49 478.22,588.29 476.05,588.09 473.87,587.9 471.7,587.7 469.52,587.5 467.33,587.3 465.14,587.1 462.95,586.91 460.76,586.71 458.57,586.51 456.37,586.31 454.17,586.11 451.96,585.91 449.76,585.71 447.55,585.51 445.33,585.31 443.12,585.11 440.9,584.91 438.67,584.71 436.45,584.51 434.22,584.3 431.99,584.1 429.75,583.9 427.52,583.7 425.28,583.5 423.03,583.29 420.78,583.09 418.53,582.89 416.28,582.68 414.02,582.48" fill="none" stroke="#b0ff00" stroke-width="1.5"/>
<polyline points="599.71,578.34 597.73,578.16 595.73,577.98 593.74,577.79 591.75,577.61 589.75,577.43 587.75,577.24 585.75,577.06 583.75,576.87 581.74,576.69 579.73,576.51 577.72,576.32 575.71,576.14 573.7,575.95 571.68,575.77 569.66,575.58 567.64,575.4 565.62,575.21 563.59,575.02 561.56,574.84 559.53,574.65 557.5,574.47 555.47,574.28 553.43,574.09 551.39,573.91 549.35,573.72 547.3,573.53 545.26,573.34 543.21,573.16 541.16,572.97 539.1,572.78 537.05,572.59 534.99,572.4 532.93,572.22 530.87,572.03 528.8,571.84 526.73,571.65 524.66,571.46 522.59,571.27 520.51,571.08 518.44,570.89 516.36,570.7 514.27,570.51 512.19,570.32 510.1,570.13 508.01,569.94 505.92,569.75 503.82,569.56 501.72,569.36 499.62,569.17 497.52,568.98 495.41,568.79 493.3,568.6 491.19,568.4 489.08,568.21 486.96,568.02 484.84,567.82 482.72,567.63 480.6,567.44 478.47,567.24 476.34,567.05 474.21,566.86 472.07,566.66 469.93,566.47 467.79,566.27 465.65,566.08 463.5,565.88 461.35,565.69 459.2,565.49 457.04,565.3 454.89,565.1 452.73,564.9 450.56,564.71 448.4,564.51 446.23,564.31 444.05,564.12 441.88,563.92 439.7,563.72 437.52,563.52 435.34,563.32 433.15,563.13" fill="none" stroke="#21ff00" stroke-width="1.5"/>
<polyline points="613.88,558.6 611.94,558.43 610.01,558.25 608.07,558.07 606.13,557.89 604.19,557.71 602.25,557.53 600.3,557.35 598.36,557.17 596.41,556.99 594.46,556.81 592.5,556.63 590.55,556.45 588.59,556.27 586.63,556.09 584.67,555.91 582.71,555.73 580.74,555.55 578.77,555.36 576.8,555.18 574.83,555 572.86,554.82 570.88,554.64 568.9,554.46 566.92,554.27 564.94,554.09 562.96,553.91 560.97,553.73 558.98,553.54 556.99,553.36 554.99,553.18 553,552.99 551,552.81 549,552.62 547,552.44 544.99,552.26 542.99,552.07 540.98,551.89 538.97,551.7 536.95,551.52 534.94,551.33 532.92,551.15 530.9,550.96 528.87,550.78 526.85,550.59 524.82,550.4 522.79,550.22 520.76,550.03 518.72,549.85 516.68,549.66 514.64,549.47 512.6,549.28 510.56,549.1 508.51,548.91 506.46,548.72 504.41,548.53 502.35,548.35 500.3,548.16 498.24,547.97 496.18,547.78 494.11,547.59 492.04,547.4 489.97,547.21 487.9,547.02 485.83,546.83 483.75,546.65 481.67,546.45 479.59,546.26 477.5,546.07 475.42,545.88 473.32,545.69 471.23,545.5 469.14,545.31 467.04,545.12 464.94,544.93 462.83,544.74 460.73,544.54 458.62,544.35 456.51,544.16 454.39,543.97 452.27,543.77" fill="none" stroke="#00ff6f" stroke-width="1.5"/>
<polyline points="582.46,534.64 580.53,534.46 578.61,534.29 576.68,534.11 574.75,533.93 572.82,533.75 570.89,533.57 568.95,533.39 567.01,533.21 565.07,533.03 563.13,532.86 561.19,532.68 559.24,532.5 557.29,532.32 555.34,532.14 553.39,531.96 551.43,531.78 549.48,531.6 547.52,531.41 545.56,531.23 543.6,531.05 541.63,530.87 539.66,530.69 537.69,530.51 535.72,530.33 533.75,530.15 531.77,529.96 529.79,529.78 527.81,529.6 525.83,529.42 523.84,529.23 521.86,529.05 519.87,528.87 517.87,528.68 515.88,528.5 513.88,528.32 511.88,528.13 509.88,527.95 507.88,527.77 505.87,527.58 503.86,527.4 501.85,527.21 499.84,527.03 497.82,526.84 495.81,526.66 493.79,526.47 491.76,526.29 489.74,526.1 487.71,525.91 485.68,525.73 483.65,525.54 481.61,525.36 479.57,525.17 477.53,524.98 475.49,524.79 473.45,524.61 471.4,524.42" fill="none" stroke="#00ffff" stroke-width="1.5"/>
<polygon points="409,587.57 555.28,640.26 622.37,546.78 489.57,506.03" fill="none" stroke="#111" stroke-width="1" stroke-linejoin="round"/>
<circle cx="409" cy="587.57" r="1.5" fill="#000"/>
<circle cx="622.37" cy="546.78" r="1.5" fill="#000"/>
<circle cx="445.57" cy="600.74" r="1.5" fill="#000"/>
<circle cx="605.6" cy="570.15" r="1.5" fill="#000"/>
<circle cx="482.14" cy="613.91" r="1.5" fill="#000"/>
<circle cx="588.82" cy="593.52" r="1.5" fill="#000"/>
<circle cx="518.71" cy="627.09" r="1.5" fill="#000"/>
<circle cx="572.05" cy="616.89" r="1.5" fill="#000"/>
<circle cx="555.28" cy="640.26" r="1.5" fill="#000"/>
<circle cx="555.28" cy="640.26" r="1.5" fill="#000"/>
<circle cx="409" cy="587.57" r="1.5" fill="#000"/>
<circle cx="407.22" cy="566.79" r="1.5" fill="#000"/>
<circle cx="405.45" cy="546.01" r="1.5" fill="#000"/>
<circle cx="403.67" cy="525.23" r="1.5" fill="#000"/>
<circle cx="401.89" cy="504.45" r="1.5" fill="#000"/>
<circle cx="400.12" cy="483.67" r="1.5" fill="#000"/>
<g stroke-width="0.45" stroke-linejoin="round">
<polygon points="490.14,420.85 482.95,418.13 487.22,411.76 494.39,414.42" fill="#008bff" stroke="#008bff"/>
<polygon points="497.32,423.58 490.14,420.85 494.39,414.42 501.55,417.09" fill="#0094ff" stroke="#0094ff"/>
<polygon points="485.9,427.31 478.69,424.53 482.95,418.13 490.14,420.85" fill="#00a9ff" stroke="#00a9ff"/>
<polygon points="504.49,426.31 497.32,423.58 501.55,417.09 508.7,419.76" fill="#009eff" stroke="#009eff"/>
<polygon points="493.11,430.09 485.9,427.31 490.14,420.85 497.32,423.58" fill="#00b3ff" stroke="#00b3ff"/>
<polygon points="481.69,433.79 474.45,430.95 478.69,424.53 485.9,427.31" fill="#00c7ff" stroke="#00c7ff"/>
<polygon points="511.65,429.04 504.49,426.31 508.7,419.76 515.84,422.44" fill="#00a8ff" stroke="#00a8ff"/>
<polygon points="500.3,432.88 493.11,430.09 497.32,423.58 504.49,426.31" fill="#00bdff" stroke="#00bdff"/>
<polygon points="488.92,436.63 481.69,433.79 485.9,427.31 493.11,430.09" fill="#00d2ff" stroke="#00d2ff"/>
<polygon points="477.49,440.29 470.24,437.4 474.45,430.95 481.69,433.79" fill="#00e6ff" stroke="#00e6ff"/>
<polygon points="518.81,431.78 511.65,429.04 515.84,422.44 522.97,425.12" fill="#00b2ff" stroke="#00b2ff"/>
<polygon points="507.49,435.67 500.3,432.88 504.49,426.31 511.65,429.04" fill="#00c7ff" stroke="#00c7ff"/>
<polygon points="496.13,439.47 488.92,436.63 493.11,430.09 500.3,432.88" fill="#00dcff" stroke="#00dcff"/>
<polygon points="484.74,443.19 477.49,440.29 481.69,433.79 488.92,436.63" fill="#00f0ff" stroke="#00f0ff"/>
<polygon points="473.32,446.82 466.04,443.87 470.24,437.4 477.49,440.29" fill="#00fffa" stroke="#00fffa"/>
<polygon points="525.95,434.52 518.81,431.78 522.97,425.12 530.09,427.8" fill="#00bcff" stroke="#00bcff"/>
<polygon points="514.66,438.47 507.49,435.67 511.65,429.04 518.81,431.78" fill="#00d1ff" stroke="#00d1ff"/>
<polygon points="503.34,442.32 496.13,439.47 500.3,432.88 507.49,435.67" fill="#00e6ff" stroke="#00e6ff"/>
<polygon points="491.98,446.1 484.74,443.19 488.92,436.63 496.13,439.47" fill="#00fbff" stroke="#00fbff"/>
<polygon points="480.59,449.78 473.32,446.82 477.49,440.29 484.74,443.19" fill="#00ffef" stroke="#00ffef"/>
<polygon points="469.16,453.38 461.86,450.36 466.04,443.87 473.32,446.82" fill="#00ffdb" stroke="#00ffdb"/>
<polygon points="510.54,445.18 503.34,442.32 507.49,435.67 514.66,438.47" fill="#00f0ff" stroke="#00f0ff"/>
<polygon points="499.21,449 491.98,446.1 496.13,439.47 503.34,442.32" fill="#00fff9" stroke="#00fff9"/>
<polygon points="487.85,452.74 480.59,449.78 484.74,443.19 491.98,446.1" fill="#00ffe5" stroke="#00ffe5"/>
<polygon points="533.08,437.27 525.95,434.52 530.09,427.8 537.2,430.49" fill="#00c5ff" stroke="#00c5ff"/>
<polygon points="521.83,441.27 514.66,438.47 518.81,431.78 525.95,434.52" fill="#00dbff" stroke="#00dbff"/>
<polygon points="476.45,456.39 469.16,453.38 473.32,446.82 480.59,449.78" fill="#00ffd1" stroke="#00ffd1"/>
<polygon points="465.02,459.96 457.69,456.88 461.86,450.36 469.16,453.38" fill="#00ffbd" stroke="#00ffbd"/>
<polygon points="506.43,451.92 499.21,449 503.34,442.32 510.54,445.18" fill="#00ffef" stroke="#00ffef"/>
<polygon points="495.1,455.71 487.85,452.74 491.98,446.1 499.21,449" fill="#00ffda" stroke="#00ffda"/>
<polygon points="540.21,440.02 533.08,437.27 537.2,430.49 544.31,433.18" fill="#00cfff" stroke="#00cfff"/>
<polygon points="528.98,444.07 521.83,441.27 525.95,434.52 533.08,437.27" fill="#00e5ff" stroke="#00e5ff"/>
<polygon points="517.72,448.04 510.54,445.18 514.66,438.47 521.83,441.27" fill="#00faff" stroke="#00faff"/>
<polygon points="483.74,459.41 476.45,456.39 480.59,449.78 487.85,452.74" fill="#00ffc6" stroke="#00ffc6"/>
<polygon points="472.34,463.03 465.02,459.96 469.16,453.38 476.45,456.39" fill="#00ffb2" stroke="#00ffb2"/>
<polygon points="460.9,466.56 453.55,463.43 457.69,456.88 465.02,459.96" fill="#00ff9f" stroke="#00ff9f"/>
<polygon points="547.32,442.78 540.21,440.02 544.31,433.18 551.4,435.88" fill="#00d9ff" stroke="#00d9ff"/>
<polygon points="536.13,446.88 528.98,444.07 533.08,437.27 540.21,440.02" fill="#00efff" stroke="#00efff"/>
<polygon points="524.9,450.9 517.72,448.04 521.83,441.27 528.98,444.07" fill="#00fffa" stroke="#00fffa"/>
<polygon points="513.64,454.84 506.43,451.92 510.54,445.18 517.72,448.04" fill="#00ffe4" stroke="#00ffe4"/>
<polygon points="502.34,458.68 495.1,455.71 499.21,449 506.43,451.92" fill="#00ffd0" stroke="#00ffd0"/>
<polygon points="491.01,462.44 483.74,459.41 487.85,452.74 495.1,455.71" fill="#00ffbb" stroke="#00ffbb"/>
<polygon points="479.64,466.11 472.34,463.03 476.45,456.39 483.74,459.41" fill="#00ffa7" stroke="#00ffa7"/>
<polygon points="468.24,469.69 460.9,466.56 465.02,459.96 472.34,463.03" fill="#00ff94" stroke="#00ff94"/>
<polygon points="456.8,473.19 449.42,470 453.55,463.43 460.9,466.56" fill="#00ff80" stroke="#00ff80"/>
<polygon points="554.43,445.54 547.32,442.78 551.4,435.88 558.49,438.59" fill="#00e3ff" stroke="#00e3ff"/>
<polygon points="543.26,449.7 536.13,446.88 540.21,440.02 547.32,442.78" fill="#00f9ff" stroke="#00f9ff"/>
<polygon points="532.07,453.77 524.9,450.9 528.98,444.07 536.13,446.88" fill="#00ffef" stroke="#00ffef"/>
<polygon points="520.84,457.76 513.64,454.84 517.72,448.04 524.9,450.9" fill="#00ffda" stroke="#00ffda"/>
<polygon points="509.57,461.66 502.34,458.68 506.43,451.92 513.64,454.84" fill="#00ffc5" stroke="#00ffc5"/>
<polygon points="498.27,465.47 491.01,462.44 495.1,455.71 502.34,458.68" fill="#00ffb1" stroke="#00ffb1"/>
<polygon points="486.94,469.2 479.64,466.11 483.74,459.41 491.01,462.44" fill="#00ff9c" stroke="#00ff9c"/>
<polygon points="475.57,472.83 468.24,469.69 472.34,463.03 479.64,466.11" fill="#00ff88" stroke="#00ff88"/>
<polygon points="464.16,476.38 456.8,473.19 460.9,466.56 468.24,469.69" fill="#00ff75" stroke="#00ff75"/>
<polygon points="452.71,479.84 445.32,476.59 449.42,470 456.8,473.19" fill="#00ff62" stroke="#00ff62"/>
<polygon points="550.39,452.52 543.26,449.7 547.32,442.78 554.43,445.54" fill="#00fffb" stroke="#00fffb"/>
<polygon points="539.22,456.65 532.07,453.77 536.13,446.88 543.26,449.7" fill="#00ffe5" stroke="#00ffe5"/>
<polygon points="528.02,460.69 520.84,457.76 524.9,450.9 532.07,453.77" fill="#00ffd0" stroke="#00ffd0"/>
<polygon points="516.79,464.64 509.57,461.66 513.64,454.84 520.84,457.76" fill="#00ffbb" stroke="#00ffbb"/>
<polygon points="494.23,472.29 486.94,469.2 491.01,462.44 498.27,465.47" fill="#00ff91" stroke="#00ff91"/>
<polygon points="482.89,475.98 475.57,472.83 479.64,466.11 486.94,469.2" fill="#00ff7d" stroke="#00ff7d"/>
<polygon points="471.51,479.58 464.16,476.38 468.24,469.69 475.57,472.83" fill="#00ff6a" stroke="#00ff6a"/>
<polygon points="460.1,483.1 452.71,479.84 456.8,473.19 464.16,476.38" fill="#00ff56" stroke="#00ff56"/>
<polygon points="561.52,448.31 554.43,445.54 558.49,438.59 565.56,441.29" fill="#00edff" stroke="#00edff"/>
<polygon points="505.53,468.51 498.27,465.47 502.34,458.68 509.57,461.66" fill="#00ffa6" stroke="#00ffa6"/>
<polygon points="448.65,486.52 441.23,483.21 445.32,476.59 452.71,479.84" fill="#00ff44" stroke="#00ff44"/>
<polygon points="568.61,451.08 561.52,448.31 565.56,441.29 572.62,444" fill="#00f6ff" stroke="#00f6ff"/>
<polygon points="557.5,455.35 550.39,452.52 554.43,445.54 561.52,448.31" fill="#00fff1" stroke="#00fff1"/>
<polygon points="546.37,459.53 539.22,456.65 543.26,449.7 550.39,452.52" fill="#00ffdb" stroke="#00ffdb"/>
<polygon points="535.2,463.62 528.02,460.69 532.07,453.77 539.22,456.65" fill="#00ffc5" stroke="#00ffc5"/>
<polygon points="524,467.63 516.79,464.64 520.84,457.76 528.02,460.69" fill="#00ffb0" stroke="#00ffb0"/>
<polygon points="490.2,479.13 482.89,475.98 486.94,469.2 494.23,472.29" fill="#00ff72" stroke="#00ff72"/>
<polygon points="478.85,482.79 471.51,479.58 475.57,472.83 482.89,475.98" fill="#00ff5e" stroke="#00ff5e"/>
<polygon points="467.48,486.35 460.1,483.1 464.16,476.38 471.51,479.58" fill="#00ff4b" stroke="#00ff4b"/>
<polygon points="456.06,489.83 448.65,486.52 452.71,479.84 460.1,483.1" fill="#00ff38" stroke="#00ff38"/>
<polygon points="444.6,493.23 437.16,489.86 441.23,483.21 448.65,486.52" fill="#00ff25" stroke="#00ff25"/>
<polygon points="512.77,471.55 505.53,468.51 509.57,461.66 516.79,464.64" fill="#00ff9b" stroke="#00ff9b"/>
<polygon points="501.5,475.38 494.23,472.29 498.27,465.47 505.53,468.51" fill="#00ff86" stroke="#00ff86"/>
<polygon points="542.37,466.56 535.2,463.62 539.22,456.65 546.37,459.53" fill="#00ffbb" stroke="#00ffbb"/>
<polygon points="531.2,470.62 524,467.63 528.02,460.69 535.2,463.62" fill="#00ffa5" stroke="#00ffa5"/>
<polygon points="486.18,486 478.85,482.79 482.89,475.98 490.2,479.13" fill="#00ff53" stroke="#00ff53"/>
<polygon points="474.84,489.62 467.48,486.35 471.51,479.58 478.85,482.79" fill="#00ff40" stroke="#00ff40"/>
<polygon points="575.68,453.85 568.61,451.08 572.62,444 579.68,446.72" fill="#00fffe" stroke="#00fffe"/>
<polygon points="564.61,458.18 557.5,455.35 561.52,448.31 568.61,451.08" fill="#00ffe7" stroke="#00ffe7"/>
<polygon points="553.51,462.41 546.37,459.53 550.39,452.52 557.5,455.35" fill="#00ffd1" stroke="#00ffd1"/>
<polygon points="520,474.6 512.77,471.55 516.79,464.64 524,467.63" fill="#00ff90" stroke="#00ff90"/>
<polygon points="508.76,478.49 501.5,475.38 505.53,468.51 512.77,471.55" fill="#00ff7c" stroke="#00ff7c"/>
<polygon points="497.49,482.29 490.2,479.13 494.23,472.29 501.5,475.38" fill="#00ff67" stroke="#00ff67"/>
<polygon points="463.46,493.15 456.06,489.83 460.1,483.1 467.48,486.35" fill="#00ff2c" stroke="#00ff2c"/>
<polygon points="452.04,496.6 444.6,493.23 448.65,486.52 456.06,489.83" fill="#00ff19" stroke="#00ff19"/>
<polygon points="440.58,499.95 433.11,496.53 437.16,489.86 444.6,493.23" fill="#00ff07" stroke="#00ff07"/>
<polygon points="560.63,465.3 553.51,462.41 557.5,455.35 564.61,458.18" fill="#00ffc7" stroke="#00ffc7"/>
<polygon points="549.53,469.51 542.37,466.56 546.37,459.53 553.51,462.41" fill="#00ffb1" stroke="#00ffb1"/>
<polygon points="538.39,473.62 531.2,470.62 535.2,463.62 542.37,466.56" fill="#00ff9b" stroke="#00ff9b"/>
<polygon points="482.19,492.89 474.84,489.62 478.85,482.79 486.18,486" fill="#00ff34" stroke="#00ff34"/>
<polygon points="470.84,496.48 463.46,493.15 467.48,486.35 474.84,489.62" fill="#00ff21" stroke="#00ff21"/>
<polygon points="459.46,499.98 452.04,496.6 456.06,489.83 463.46,493.15" fill="#00ff0e" stroke="#00ff0e"/>
<polygon points="571.71,461.01 564.61,458.18 568.61,451.08 575.68,453.85" fill="#00ffdd" stroke="#00ffdd"/>
<polygon points="527.22,477.65 520,474.6 524,467.63 531.2,470.62" fill="#00ff86" stroke="#00ff86"/>
<polygon points="516.02,481.59 508.76,478.49 512.77,471.55 520,474.6" fill="#00ff71" stroke="#00ff71"/>
<polygon points="504.78,485.45 497.49,482.29 501.5,475.38 508.76,478.49" fill="#00ff5c" stroke="#00ff5c"/>
<polygon points="493.5,489.21 486.18,486 490.2,479.13 497.49,482.29" fill="#00ff48" stroke="#00ff48"/>
<polygon points="448.03,503.39 440.58,499.95 444.6,493.23 452.04,496.6" fill="#05ff00" stroke="#05ff00"/>
<polygon points="582.75,456.63 575.68,453.85 579.68,446.72 586.73,449.44" fill="#00fff4" stroke="#00fff4"/>
<polygon points="436.57,506.71 429.07,503.22 433.11,496.53 440.58,499.95" fill="#18ff00" stroke="#18ff00"/>
<polygon points="567.75,468.2 560.63,465.3 564.61,458.18 571.71,461.01" fill="#00ffbc" stroke="#00ffbc"/>
<polygon points="556.67,472.45 549.53,469.51 553.51,462.41 560.63,465.3" fill="#00ffa6" stroke="#00ffa6"/>
<polygon points="545.57,476.63 538.39,473.62 542.37,466.56 549.53,469.51" fill="#00ff90" stroke="#00ff90"/>
<polygon points="534.43,480.71 527.22,477.65 531.2,470.62 538.39,473.62" fill="#00ff7b" stroke="#00ff7b"/>
<polygon points="523.26,484.7 516.02,481.59 520,474.6 527.22,477.65" fill="#00ff66" stroke="#00ff66"/>
<polygon points="512.05,488.61 504.78,485.45 508.76,478.49 516.02,481.59" fill="#00ff51" stroke="#00ff51"/>
<polygon points="500.81,492.43 493.5,489.21 497.49,482.29 504.78,485.45" fill="#00ff3d" stroke="#00ff3d"/>
<polygon points="489.53,496.16 482.19,492.89 486.18,486 493.5,489.21" fill="#00ff29" stroke="#00ff29"/>
<polygon points="478.22,499.81 470.84,496.48 474.84,489.62 482.19,492.89" fill="#00ff15" stroke="#00ff15"/>
<polygon points="466.87,503.36 459.46,499.98 463.46,493.15 470.84,496.48" fill="#00ff02" stroke="#00ff02"/>
<polygon points="455.48,506.82 448.03,503.39 452.04,496.6 459.46,499.98" fill="#11ff00" stroke="#11ff00"/>
<polygon points="589.81,459.42 582.75,456.63 586.73,449.44 593.76,452.17" fill="#00ffea" stroke="#00ffea"/>
<polygon points="578.79,463.85 571.71,461.01 575.68,453.85 582.75,456.63" fill="#00ffd3" stroke="#00ffd3"/>
<polygon points="444.05,510.2 436.57,506.71 440.58,499.95 448.03,503.39" fill="#24ff00" stroke="#24ff00"/>
<polygon points="432.58,513.49 425.06,509.94 429.07,503.22 436.57,506.71" fill="#36ff00" stroke="#36ff00"/>
<polygon points="552.74,479.63 545.57,476.63 549.53,469.51 556.67,472.45" fill="#00ff86" stroke="#00ff86"/>
<polygon points="474.27,506.75 466.87,503.36 470.84,496.48 478.22,499.81" fill="#0aff00" stroke="#0aff00"/>
<polygon points="563.81,475.41 556.67,472.45 560.63,465.3 567.75,468.2" fill="#00ff9c" stroke="#00ff9c"/>
<polygon points="530.49,487.82 523.26,484.7 527.22,477.65 534.43,480.71" fill="#00ff5b" stroke="#00ff5b"/>
<polygon points="519.32,491.78 512.05,488.61 516.02,481.59 523.26,484.7" fill="#00ff46" stroke="#00ff46"/>
<polygon points="508.11,495.66 500.81,492.43 504.78,485.45 512.05,488.61" fill="#00ff31" stroke="#00ff31"/>
<polygon points="496.86,499.44 489.53,496.16 493.5,489.21 500.81,492.43" fill="#00ff1d" stroke="#00ff1d"/>
<polygon points="462.91,510.27 455.48,506.82 459.46,499.98 466.87,503.36" fill="#1dff00" stroke="#1dff00"/>
<polygon points="585.87,466.69 578.79,463.85 582.75,456.63 589.81,459.42" fill="#00ffc9" stroke="#00ffc9"/>
<polygon points="574.85,471.09 567.75,468.2 571.71,461.01 578.79,463.85" fill="#00ffb2" stroke="#00ffb2"/>
<polygon points="541.63,483.77 534.43,480.71 538.39,473.62 545.57,476.63" fill="#00ff70" stroke="#00ff70"/>
<polygon points="485.58,503.14 478.22,499.81 482.19,492.89 489.53,496.16" fill="#00ff09" stroke="#00ff09"/>
<polygon points="451.52,513.7 444.05,510.2 448.03,503.39 455.48,506.82" fill="#30ff00" stroke="#30ff00"/>
<polygon points="440.08,517.04 432.58,513.49 436.57,506.71 444.05,510.2" fill="#42ff00" stroke="#42ff00"/>
<polygon points="596.85,462.21 589.81,459.42 593.76,452.17 600.79,454.9" fill="#00ffe0" stroke="#00ffe0"/>
<polygon points="428.6,520.29 421.06,516.68 425.06,509.94 432.58,513.49" fill="#54ff00" stroke="#54ff00"/>
<polygon points="603.89,465 596.85,462.21 600.79,454.9 607.81,457.63" fill="#00ffd6" stroke="#00ffd6"/>
<polygon points="559.89,482.65 552.74,479.63 556.67,472.45 563.81,475.41" fill="#00ff7b" stroke="#00ff7b"/>
<polygon points="526.57,494.96 519.32,491.78 523.26,484.7 530.49,487.82" fill="#00ff3b" stroke="#00ff3b"/>
<polygon points="515.39,498.89 508.11,495.66 512.05,488.61 519.32,491.78" fill="#00ff26" stroke="#00ff26"/>
<polygon points="504.18,502.73 496.86,499.44 500.81,492.43 508.11,495.66" fill="#00ff12" stroke="#00ff12"/>
<polygon points="470.33,513.72 462.91,510.27 466.87,503.36 474.27,506.75" fill="#29ff00" stroke="#29ff00"/>
<polygon points="424.65,527.12 417.09,523.45 421.06,516.68 428.6,520.29" fill="#73ff00" stroke="#73ff00"/>
<polygon points="581.95,474 574.85,471.09 578.79,463.85 585.87,466.69" fill="#00ffa8" stroke="#00ffa8"/>
<polygon points="570.94,478.37 563.81,475.41 567.75,468.2 574.85,471.09" fill="#00ff91" stroke="#00ff91"/>
<polygon points="548.82,486.84 541.63,483.77 545.57,476.63 552.74,479.63" fill="#00ff65" stroke="#00ff65"/>
<polygon points="537.71,490.94 530.49,487.82 534.43,480.71 541.63,483.77" fill="#00ff50" stroke="#00ff50"/>
<polygon points="492.94,506.48 485.58,503.14 489.53,496.16 496.86,499.44" fill="#02ff00" stroke="#02ff00"/>
<polygon points="481.65,510.14 474.27,506.75 478.22,499.81 485.58,503.14" fill="#16ff00" stroke="#16ff00"/>
<polygon points="458.97,517.2 451.52,513.7 455.48,506.82 462.91,510.27" fill="#3cff00" stroke="#3cff00"/>
<polygon points="447.57,520.6 440.08,517.04 444.05,510.2 451.52,513.7" fill="#4fff00" stroke="#4fff00"/>
<polygon points="592.93,469.54 585.87,466.69 589.81,459.42 596.85,462.21" fill="#00ffbf" stroke="#00ffbf"/>
<polygon points="436.13,523.9 428.6,520.29 432.58,513.49 440.08,517.04" fill="#61ff00" stroke="#61ff00"/>
<polygon points="599.99,472.4 592.93,469.54 596.85,462.21 603.89,465" fill="#00ffb5" stroke="#00ffb5"/>
<polygon points="522.67,502.13 515.39,498.89 519.32,491.78 526.57,494.96" fill="#00ff1b" stroke="#00ff1b"/>
<polygon points="511.49,506.02 504.18,502.73 508.11,495.66 515.39,498.89" fill="#00ff06" stroke="#00ff06"/>
<polygon points="432.2,530.79 424.65,527.12 428.6,520.29 436.13,523.9" fill="#7fff00" stroke="#7fff00"/>
<polygon points="578.05,481.33 570.94,478.37 574.85,471.09 581.95,474" fill="#00ff87" stroke="#00ff87"/>
<polygon points="567.04,485.66 559.89,482.65 563.81,475.41 570.94,478.37" fill="#00ff71" stroke="#00ff71"/>
<polygon points="544.92,494.07 537.71,490.94 541.63,483.77 548.82,486.84" fill="#00ff45" stroke="#00ff45"/>
<polygon points="533.81,498.14 526.57,494.96 530.49,487.82 537.71,490.94" fill="#00ff30" stroke="#00ff30"/>
<polygon points="500.28,509.83 492.94,506.48 496.86,499.44 504.18,502.73" fill="#0eff00" stroke="#0eff00"/>
<polygon points="489.03,513.55 481.65,510.14 485.58,503.14 492.94,506.48" fill="#22ff00" stroke="#22ff00"/>
<polygon points="466.42,520.71 458.97,517.2 462.91,510.27 470.33,513.72" fill="#48ff00" stroke="#48ff00"/>
<polygon points="455.05,524.16 447.57,520.6 451.52,513.7 458.97,517.2" fill="#5bff00" stroke="#5bff00"/>
<polygon points="610.92,467.8 603.89,465 607.81,457.63 614.82,460.37" fill="#00ffcd" stroke="#00ffcd"/>
<polygon points="589.04,476.91 581.95,474 585.87,466.69 592.93,469.54" fill="#00ff9e" stroke="#00ff9e"/>
<polygon points="556,489.91 548.82,486.84 552.74,479.63 559.89,482.65" fill="#00ff5b" stroke="#00ff5b"/>
<polygon points="477.74,517.17 470.33,513.72 474.27,506.75 481.65,510.14" fill="#35ff00" stroke="#35ff00"/>
<polygon points="443.65,527.52 436.13,523.9 440.08,517.04 447.57,520.6" fill="#6dff00" stroke="#6dff00"/>
<polygon points="420.72,533.97 413.13,530.25 417.09,523.45 424.65,527.12" fill="#91ff00" stroke="#91ff00"/>
<polygon points="596.11,479.82 589.04,476.91 592.93,469.54 599.99,472.4" fill="#00ff94" stroke="#00ff94"/>
<polygon points="518.79,509.32 511.49,506.02 515.39,498.89 522.67,502.13" fill="#05ff00" stroke="#05ff00"/>
<polygon points="439.74,534.47 432.2,530.79 436.13,523.9 443.65,527.52" fill="#8cff00" stroke="#8cff00"/>
<polygon points="574.18,488.69 567.04,485.66 570.94,478.37 578.05,481.33" fill="#00ff66" stroke="#00ff66"/>
<polygon points="541.04,501.33 533.81,498.14 537.71,490.94 544.92,494.07" fill="#00ff24" stroke="#00ff24"/>
<polygon points="529.93,505.37 522.67,502.13 526.57,494.96 533.81,498.14" fill="#00ff0f" stroke="#00ff0f"/>
<polygon points="507.61,513.18 500.28,509.83 504.18,502.73 511.49,506.02" fill="#1aff00" stroke="#1aff00"/>
<polygon points="496.39,516.95 489.03,513.55 492.94,506.48 500.28,509.83" fill="#2eff00" stroke="#2eff00"/>
<polygon points="462.52,527.73 455.05,524.16 458.97,517.2 466.42,520.71" fill="#68ff00" stroke="#68ff00"/>
<polygon points="607.04,475.26 599.99,472.4 603.89,465 610.92,467.8" fill="#00ffab" stroke="#00ffab"/>
<polygon points="585.16,484.3 578.05,481.33 581.95,474 589.04,476.91" fill="#00ff7d" stroke="#00ff7d"/>
<polygon points="552.12,497.2 544.92,494.07 548.82,486.84 556,489.91" fill="#00ff3a" stroke="#00ff3a"/>
<polygon points="485.14,520.63 477.74,517.17 481.65,510.14 489.03,513.55" fill="#41ff00" stroke="#41ff00"/>
<polygon points="451.15,531.15 443.65,527.52 447.57,520.6 455.05,524.16" fill="#7aff00" stroke="#7aff00"/>
<polygon points="428.29,537.71 420.72,533.97 424.65,527.12 432.2,530.79" fill="#9eff00" stroke="#9eff00"/>
<polygon points="563.16,492.99 556,489.91 559.89,482.65 567.04,485.66" fill="#00ff50" stroke="#00ff50"/>
<polygon points="473.85,524.23 466.42,520.71 470.33,513.72 477.74,517.17" fill="#55ff00" stroke="#55ff00"/>
<polygon points="617.94,470.6 610.92,467.8 614.82,460.37 621.82,463.12" fill="#00ffc3" stroke="#00ffc3"/>
<polygon points="416.8,540.85 409.19,537.06 413.13,530.25 420.72,533.97" fill="#afff00" stroke="#afff00"/>
<polygon points="592.26,487.27 585.16,484.3 589.04,476.91 596.11,479.82" fill="#00ff72" stroke="#00ff72"/>
<polygon points="447.27,538.16 439.74,534.47 443.65,527.52 451.15,531.15" fill="#99ff00" stroke="#99ff00"/>
<polygon points="537.18,508.62 529.93,505.37 533.81,498.14 541.04,501.33" fill="#00ff04" stroke="#00ff04"/>
<polygon points="526.07,512.62 518.79,509.32 522.67,502.13 529.93,505.37" fill="#11ff00" stroke="#11ff00"/>
<polygon points="514.92,516.54 507.61,513.18 511.49,506.02 518.79,509.32" fill="#26ff00" stroke="#26ff00"/>
<polygon points="503.74,520.36 496.39,516.95 500.28,509.83 507.61,513.18" fill="#3aff00" stroke="#3aff00"/>
<polygon points="624.94,473.41 617.94,470.6 621.82,463.12 628.81,465.87" fill="#00ffb9" stroke="#00ffb9"/>
<polygon points="603.18,482.74 596.11,479.82 599.99,472.4 607.04,475.26" fill="#00ff8a" stroke="#00ff8a"/>
<polygon points="581.3,491.72 574.18,488.69 578.05,481.33 585.16,484.3" fill="#00ff5c" stroke="#00ff5c"/>
<polygon points="548.26,504.52 541.04,501.33 544.92,494.07 552.12,497.2" fill="#00ff19" stroke="#00ff19"/>
<polygon points="492.52,524.1 485.14,520.63 489.03,513.55 496.39,516.95" fill="#4eff00" stroke="#4eff00"/>
<polygon points="458.64,534.78 451.15,531.15 455.05,524.16 462.52,527.73" fill="#87ff00" stroke="#87ff00"/>
<polygon points="435.86,541.45 428.29,537.71 432.2,530.79 439.74,534.47" fill="#abff00" stroke="#abff00"/>
<polygon points="412.9,547.76 405.27,543.91 409.19,537.06 416.8,540.85" fill="#ceff00" stroke="#ceff00"/>
<polygon points="570.32,496.07 563.16,492.99 567.04,485.66 574.18,488.69" fill="#00ff45" stroke="#00ff45"/>
<polygon points="559.31,500.34 552.12,497.2 556,489.91 563.16,492.99" fill="#00ff2f" stroke="#00ff2f"/>
<polygon points="481.27,527.75 473.85,524.23 477.74,517.17 485.14,520.63" fill="#61ff00" stroke="#61ff00"/>
<polygon points="469.98,531.31 462.52,527.73 466.42,520.71 473.85,524.23" fill="#74ff00" stroke="#74ff00"/>
<polygon points="614.08,478.12 607.04,475.26 610.92,467.8 617.94,470.6" fill="#00ffa1" stroke="#00ffa1"/>
<polygon points="424.4,544.65 416.8,540.85 420.72,533.97 428.29,537.71" fill="#bdff00" stroke="#bdff00"/>
<polygon points="588.42,494.75 581.3,491.72 585.16,484.3 592.26,487.27" fill="#00ff51" stroke="#00ff51"/>
<polygon points="454.78,541.85 447.27,538.16 451.15,531.15 458.64,534.78" fill="#a6ff00" stroke="#a6ff00"/>
<polygon points="533.34,515.93 526.07,512.62 529.93,505.37 537.18,508.62" fill="#1cff00" stroke="#1cff00"/>
<polygon points="511.08,523.78 503.74,520.36 507.61,513.18 514.92,516.54" fill="#46ff00" stroke="#46ff00"/>
<polygon points="621.1,480.99 614.08,478.12 617.94,470.6 624.94,473.41" fill="#00ff97" stroke="#00ff97"/>
<polygon points="599.34,490.25 592.26,487.27 596.11,479.82 603.18,482.74" fill="#00ff68" stroke="#00ff68"/>
<polygon points="544.42,511.87 537.18,508.62 541.04,501.33 548.26,504.52" fill="#07ff00" stroke="#07ff00"/>
<polygon points="522.23,519.9 514.92,516.54 518.79,509.32 526.07,512.62" fill="#31ff00" stroke="#31ff00"/>
<polygon points="499.9,527.57 492.52,524.1 496.39,516.95 503.74,520.36" fill="#5aff00" stroke="#5aff00"/>
<polygon points="443.41,545.19 435.86,541.45 439.74,534.47 447.27,538.16" fill="#b8ff00" stroke="#b8ff00"/>
<polygon points="420.53,551.61 412.9,547.76 416.8,540.85 424.4,544.65" fill="#dbff00" stroke="#dbff00"/>
<polygon points="566.48,503.49 559.31,500.34 563.16,492.99 570.32,496.07" fill="#00ff24" stroke="#00ff24"/>
<polygon points="555.47,507.72 548.26,504.52 552.12,497.2 559.31,500.34" fill="#00ff0e" stroke="#00ff0e"/>
<polygon points="488.68,531.28 481.27,527.75 485.14,520.63 492.52,524.1" fill="#6dff00" stroke="#6dff00"/>
<polygon points="477.42,534.89 469.98,531.31 473.85,524.23 481.27,527.75" fill="#80ff00" stroke="#80ff00"/>
<polygon points="610.24,485.66 603.18,482.74 607.04,475.26 614.08,478.12" fill="#00ff7f" stroke="#00ff7f"/>
<polygon points="577.47,499.16 570.32,496.07 574.18,488.69 581.3,491.72" fill="#00ff3a" stroke="#00ff3a"/>
<polygon points="466.12,538.42 458.64,534.78 462.52,527.73 469.98,531.31" fill="#93ff00" stroke="#93ff00"/>
<polygon points="431.99,548.45 424.4,544.65 428.29,537.71 435.86,541.45" fill="#caff00" stroke="#caff00"/>
<polygon points="617.28,488.59 610.24,485.66 614.08,478.12 621.1,480.99" fill="#00ff75" stroke="#00ff75"/>
<polygon points="595.53,497.79 588.42,494.75 592.26,487.27 599.34,490.25" fill="#00ff46" stroke="#00ff46"/>
<polygon points="584.6,502.25 577.47,499.16 581.3,491.72 588.42,494.75" fill="#00ff30" stroke="#00ff30"/>
<polygon points="540.61,519.24 533.34,515.93 537.18,508.62 544.42,511.87" fill="#28ff00" stroke="#28ff00"/>
<polygon points="529.53,523.27 522.23,519.9 526.07,512.62 533.34,515.93" fill="#3dff00" stroke="#3dff00"/>
<polygon points="518.41,527.2 511.08,523.78 514.92,516.54 522.23,519.9" fill="#51ff00" stroke="#51ff00"/>
<polygon points="507.26,531.05 499.9,527.57 503.74,520.36 511.08,523.78" fill="#66ff00" stroke="#66ff00"/>
<polygon points="462.29,545.55 454.78,541.85 458.64,534.78 466.12,538.42" fill="#b3ff00" stroke="#b3ff00"/>
<polygon points="450.95,548.95 443.41,545.19 447.27,538.16 454.78,541.85" fill="#c5ff00" stroke="#c5ff00"/>
<polygon points="428.14,555.47 420.53,551.61 424.4,544.65 431.99,548.45" fill="#e8ff00" stroke="#e8ff00"/>
<polygon points="562.67,510.93 555.47,507.72 559.31,500.34 566.48,503.49" fill="#00ff03" stroke="#00ff03"/>
<polygon points="551.65,515.13 544.42,511.87 548.26,504.52 555.47,507.72" fill="#13ff00" stroke="#13ff00"/>
<polygon points="496.07,534.81 488.68,531.28 492.52,524.1 499.9,527.57" fill="#79ff00" stroke="#79ff00"/>
<polygon points="484.85,538.48 477.42,534.89 481.27,527.75 488.68,531.28" fill="#8dff00" stroke="#8dff00"/>
<polygon points="606.42,493.23 599.34,490.25 603.18,482.74 610.24,485.66" fill="#00ff5e" stroke="#00ff5e"/>
<polygon points="573.65,506.63 566.48,503.49 570.32,496.07 577.47,499.16" fill="#00ff19" stroke="#00ff19"/>
<polygon points="473.59,542.06 466.12,538.42 469.98,531.31 477.42,534.89" fill="#a0ff00" stroke="#a0ff00"/>
<polygon points="439.56,552.26 431.99,548.45 435.86,541.45 443.41,545.19" fill="#d7ff00" stroke="#d7ff00"/>
<polygon points="613.48,496.22 606.42,493.23 610.24,485.66 617.28,488.59" fill="#00ff53" stroke="#00ff53"/>
<polygon points="580.81,509.79 573.65,506.63 577.47,499.16 584.6,502.25" fill="#00ff0e" stroke="#00ff0e"/>
<polygon points="525.73,530.63 518.41,527.2 522.23,519.9 529.53,523.27" fill="#5dff00" stroke="#5dff00"/>
<polygon points="469.78,549.25 462.29,545.55 466.12,538.42 473.59,542.06" fill="#bfff00" stroke="#bfff00"/>
<polygon points="435.74,559.34 428.14,555.47 431.99,548.45 439.56,552.26" fill="#f6ff00" stroke="#f6ff00"/>
<polygon points="558.87,518.39 551.65,515.13 555.47,507.72 562.67,510.93" fill="#1eff00" stroke="#1eff00"/>
<polygon points="547.86,522.56 540.61,519.24 544.42,511.87 551.65,515.13" fill="#33ff00" stroke="#33ff00"/>
<polygon points="536.81,526.64 529.53,523.27 533.34,515.93 540.61,519.24" fill="#49ff00" stroke="#49ff00"/>
<polygon points="514.61,534.54 507.26,531.05 511.08,523.78 518.41,527.2" fill="#72ff00" stroke="#72ff00"/>
<polygon points="503.46,538.35 496.07,534.81 499.9,527.57 507.26,531.05" fill="#86ff00" stroke="#86ff00"/>
<polygon points="492.27,542.07 484.85,538.48 488.68,531.28 496.07,534.81" fill="#99ff00" stroke="#99ff00"/>
<polygon points="602.62,500.83 595.53,497.79 599.34,490.25 606.42,493.23" fill="#00ff3c" stroke="#00ff3c"/>
<polygon points="591.73,505.35 584.6,502.25 588.42,494.75 595.53,497.79" fill="#00ff25" stroke="#00ff25"/>
<polygon points="569.86,514.13 562.67,510.93 566.48,503.49 573.65,506.63" fill="#08ff00" stroke="#08ff00"/>
<polygon points="481.04,545.71 473.59,542.06 477.42,534.89 484.85,538.48" fill="#adff00" stroke="#adff00"/>
<polygon points="458.47,552.71 450.95,548.95 454.78,541.85 462.29,545.55" fill="#d2ff00" stroke="#d2ff00"/>
<polygon points="447.13,556.07 439.56,552.26 443.41,545.19 450.95,548.95" fill="#e4ff00" stroke="#e4ff00"/>
<polygon points="609.71,503.88 602.62,500.83 606.42,493.23 613.48,496.22" fill="#00ff31" stroke="#00ff31"/>
<polygon points="577.03,517.35 569.86,514.13 573.65,506.63 580.81,509.79" fill="#13ff00" stroke="#13ff00"/>
<polygon points="477.25,552.96 469.78,549.25 473.59,542.06 481.04,545.71" fill="#ccff00" stroke="#ccff00"/>
<polygon points="443.32,563.22 435.74,559.34 439.56,552.26 447.13,556.07" fill="#fffb00" stroke="#fffb00"/>
<polygon points="555.1,525.89 547.86,522.56 551.65,515.13 558.87,518.39" fill="#3fff00" stroke="#3fff00"/>
<polygon points="533.03,534.07 525.73,530.63 529.53,523.27 536.81,526.64" fill="#69ff00" stroke="#69ff00"/>
<polygon points="521.95,538.03 514.61,534.54 518.41,527.2 525.73,530.63" fill="#7eff00" stroke="#7eff00"/>
<polygon points="499.67,545.67 492.27,542.07 496.07,534.81 503.46,538.35" fill="#a6ff00" stroke="#a6ff00"/>
<polygon points="587.95,512.95 580.81,509.79 584.6,502.25 591.73,505.35" fill="#00ff03" stroke="#00ff03"/>
<polygon points="566.08,521.66 558.87,518.39 562.67,510.93 569.86,514.13" fill="#29ff00" stroke="#29ff00"/>
<polygon points="544.08,530.02 536.81,526.64 540.61,519.24 547.86,522.56" fill="#54ff00" stroke="#54ff00"/>
<polygon points="510.83,541.89 503.46,538.35 507.26,531.05 514.61,534.54" fill="#92ff00" stroke="#92ff00"/>
<polygon points="488.48,549.36 481.04,545.71 484.85,538.48 492.27,542.07" fill="#b9ff00" stroke="#b9ff00"/>
<polygon points="465.98,556.47 458.47,552.71 462.29,545.55 469.78,549.25" fill="#dfff00" stroke="#dfff00"/>
<polygon points="598.84,508.46 591.73,505.35 595.53,497.79 602.62,500.83" fill="#00ff1a" stroke="#00ff1a"/>
<polygon points="454.67,559.89 447.13,556.07 450.95,548.95 458.47,552.71" fill="#f1ff00" stroke="#f1ff00"/>
<polygon points="573.28,524.94 566.08,521.66 569.86,514.13 577.03,517.35" fill="#35ff00" stroke="#35ff00"/>
<polygon points="484.72,556.68 477.25,552.96 481.04,545.71 488.48,549.36" fill="#d9ff00" stroke="#d9ff00"/>
<polygon points="605.95,511.57 598.84,508.46 602.62,500.83 609.71,503.88" fill="#00ff0f" stroke="#00ff0f"/>
<polygon points="584.2,520.57 577.03,517.35 580.81,509.79 587.95,512.95" fill="#1eff00" stroke="#1eff00"/>
<polygon points="562.33,529.22 555.1,525.89 558.87,518.39 566.08,521.66" fill="#4aff00" stroke="#4aff00"/>
<polygon points="551.34,533.41 544.08,530.02 547.86,522.56 555.1,525.89" fill="#60ff00" stroke="#60ff00"/>
<polygon points="540.33,537.51 533.03,534.07 536.81,526.64 544.08,530.02" fill="#75ff00" stroke="#75ff00"/>
<polygon points="529.28,541.52 521.95,538.03 525.73,530.63 533.03,534.07" fill="#8aff00" stroke="#8aff00"/>
<polygon points="518.19,545.44 510.83,541.89 514.61,534.54 521.95,538.03" fill="#9eff00" stroke="#9eff00"/>
<polygon points="507.07,549.28 499.67,545.67 503.46,538.35 510.83,541.89" fill="#b2ff00" stroke="#b2ff00"/>
<polygon points="495.91,553.02 488.48,549.36 492.27,542.07 499.67,545.67" fill="#c6ff00" stroke="#c6ff00"/>
<polygon points="473.48,560.24 465.98,556.47 469.78,549.25 477.25,552.96" fill="#ecff00" stroke="#ecff00"/>
<polygon points="450.9,567.1 443.32,563.22 447.13,556.07 454.67,559.89" fill="#ffed00" stroke="#ffed00"/>
<polygon points="595.09,516.11 587.95,512.95 591.73,505.35 598.84,508.46" fill="#08ff00" stroke="#08ff00"/>
<polygon points="462.21,563.71 454.67,559.89 458.47,552.71 465.98,556.47" fill="#feff00" stroke="#feff00"/>
<polygon points="569.54,532.55 562.33,529.22 566.08,521.66 573.28,524.94" fill="#56ff00" stroke="#56ff00"/>
<polygon points="492.17,560.4 484.72,556.68 488.48,549.36 495.91,553.02" fill="#e6ff00" stroke="#e6ff00"/>
<polygon points="602.21,519.28 595.09,516.11 598.84,508.46 605.95,511.57" fill="#13ff00" stroke="#13ff00"/>
<polygon points="580.46,528.22 573.28,524.94 577.03,517.35 584.2,520.57" fill="#40ff00" stroke="#40ff00"/>
<polygon points="547.61,540.95 540.33,537.51 544.08,530.02 551.34,533.41" fill="#81ff00" stroke="#81ff00"/>
<polygon points="514.45,552.89 507.07,549.28 510.83,541.89 518.19,545.44" fill="#bfff00" stroke="#bfff00"/>
<polygon points="480.97,564.02 473.48,560.24 477.25,552.96 484.72,556.68" fill="#f9ff00" stroke="#f9ff00"/>
<polygon points="458.46,570.99 450.9,567.1 454.67,559.89 462.21,563.71" fill="#ffe000" stroke="#ffe000"/>
<polygon points="591.35,523.79 584.2,520.57 587.95,512.95 595.09,516.11" fill="#29ff00" stroke="#29ff00"/>
<polygon points="558.59,536.8 551.34,533.41 555.1,525.89 562.33,529.22" fill="#6cff00" stroke="#6cff00"/>
<polygon points="536.59,545.02 529.28,541.52 533.03,534.07 540.33,537.51" fill="#96ff00" stroke="#96ff00"/>
<polygon points="525.54,549 518.19,545.44 521.95,538.03 529.28,541.52" fill="#aaff00" stroke="#aaff00"/>
<polygon points="503.33,556.69 495.91,553.02 499.67,545.67 507.07,549.28" fill="#d2ff00" stroke="#d2ff00"/>
<polygon points="469.73,567.55 462.21,563.71 465.98,556.47 473.48,560.24" fill="#fff200" stroke="#fff200"/>
<polygon points="598.5,527.02 591.35,523.79 595.09,516.11 602.21,519.28" fill="#35ff00" stroke="#35ff00"/>
<polygon points="576.75,535.89 569.54,532.55 573.28,524.94 580.46,528.22" fill="#61ff00" stroke="#61ff00"/>
<polygon points="565.83,540.19 558.59,536.8 562.33,529.22 569.54,532.55" fill="#77ff00" stroke="#77ff00"/>
<polygon points="554.88,544.41 547.61,540.95 551.34,533.41 558.59,536.8" fill="#8dff00" stroke="#8dff00"/>
<polygon points="543.89,548.53 536.59,545.02 540.33,537.51 547.61,540.95" fill="#a2ff00" stroke="#a2ff00"/>
<polygon points="521.82,556.51 514.45,552.89 518.19,545.44 525.54,549" fill="#cbff00" stroke="#cbff00"/>
<polygon points="510.73,560.36 503.33,556.69 507.07,549.28 514.45,552.89" fill="#dfff00" stroke="#dfff00"/>
<polygon points="499.61,564.13 492.17,560.4 495.91,553.02 503.33,556.69" fill="#f3ff00" stroke="#f3ff00"/>
<polygon points="488.44,567.8 480.97,564.02 484.72,556.68 492.17,560.4" fill="#fff800" stroke="#fff800"/>
<polygon points="466,574.88 458.46,570.99 462.21,563.71 469.73,567.55" fill="#ffd300" stroke="#ffd300"/>
<polygon points="587.64,531.5 580.46,528.22 584.2,520.57 591.35,523.79" fill="#4bff00" stroke="#4bff00"/>
<polygon points="532.87,552.56 525.54,549 529.28,541.52 536.59,545.02" fill="#b7ff00" stroke="#b7ff00"/>
<polygon points="477.24,571.39 469.73,567.55 473.48,560.24 480.97,564.02" fill="#ffe500" stroke="#ffe500"/>
<polygon points="562.14,547.86 554.88,544.41 558.59,536.8 565.83,540.19" fill="#99ff00" stroke="#99ff00"/>
<polygon points="507.03,567.86 499.61,564.13 503.33,556.69 510.73,560.36" fill="#fffe00" stroke="#fffe00"/>
<polygon points="594.8,534.79 587.64,531.5 591.35,523.79 598.5,527.02" fill="#56ff00" stroke="#56ff00"/>
<polygon points="473.53,578.78 466,574.88 469.73,567.55 477.24,571.39" fill="#ffc500" stroke="#ffc500"/>
<polygon points="583.94,539.24 576.75,535.89 580.46,528.22 587.64,531.5" fill="#6dff00" stroke="#6dff00"/>
<polygon points="573.06,543.59 565.83,540.19 569.54,532.55 576.75,535.89" fill="#83ff00" stroke="#83ff00"/>
<polygon points="551.18,552.04 543.89,548.53 547.61,540.95 554.88,544.41" fill="#aeff00" stroke="#aeff00"/>
<polygon points="540.2,556.13 532.87,552.56 536.59,545.02 543.89,548.53" fill="#c3ff00" stroke="#c3ff00"/>
<polygon points="529.18,560.13 521.82,556.51 525.54,549 532.87,552.56" fill="#d8ff00" stroke="#d8ff00"/>
<polygon points="518.12,564.04 510.73,560.36 514.45,552.89 521.82,556.51" fill="#ecff00" stroke="#ecff00"/>
<polygon points="495.9,571.59 488.44,567.8 492.17,560.4 499.61,564.13" fill="#ffeb00" stroke="#ffeb00"/>
<polygon points="484.74,575.23 477.24,571.39 480.97,564.02 488.44,567.8" fill="#ffd800" stroke="#ffd800"/>
<polygon points="591.13,542.59 583.94,539.24 587.64,531.5 594.8,534.79" fill="#78ff00" stroke="#78ff00"/>
<polygon points="569.38,551.33 562.14,547.86 565.83,540.19 573.06,543.59" fill="#a5ff00" stroke="#a5ff00"/>
<polygon points="558.46,555.56 551.18,552.04 554.88,544.41 562.14,547.86" fill="#baff00" stroke="#baff00"/>
<polygon points="514.45,571.6 507.03,567.86 510.73,560.36 518.12,564.04" fill="#fff200" stroke="#fff200"/>
<polygon points="503.35,575.39 495.9,571.59 499.61,564.13 507.03,567.86" fill="#ffde00" stroke="#ffde00"/>
<polygon points="481.05,582.69 473.53,578.78 477.24,571.39 484.74,575.23" fill="#ffb800" stroke="#ffb800"/>
<polygon points="536.52,563.76 529.18,560.13 532.87,552.56 540.2,556.13" fill="#e4ff00" stroke="#e4ff00"/>
<polygon points="580.27,547 573.06,543.59 576.75,535.89 583.94,539.24" fill="#8fff00" stroke="#8fff00"/>
<polygon points="547.51,559.71 540.2,556.13 543.89,548.53 551.18,552.04" fill="#cfff00" stroke="#cfff00"/>
<polygon points="525.5,567.73 518.12,564.04 521.82,556.51 529.18,560.13" fill="#f8ff00" stroke="#f8ff00"/>
<polygon points="492.22,579.08 484.74,575.23 488.44,567.8 495.9,571.59" fill="#ffcb00" stroke="#ffcb00"/>
<polygon points="587.47,550.41 580.27,547 583.94,539.24 591.13,542.59" fill="#9aff00" stroke="#9aff00"/>
<polygon points="576.62,554.79 569.38,551.33 573.06,543.59 580.27,547" fill="#b0ff00" stroke="#b0ff00"/>
<polygon points="565.73,559.08 558.46,555.56 562.14,547.86 569.38,551.33" fill="#c6ff00" stroke="#c6ff00"/>
<polygon points="554.81,563.28 547.51,559.71 551.18,552.04 558.46,555.56" fill="#dbff00" stroke="#dbff00"/>
<polygon points="543.86,567.4 536.52,563.76 540.2,556.13 547.51,559.71" fill="#f0ff00" stroke="#f0ff00"/>
<polygon points="532.87,571.42 525.5,567.73 529.18,560.13 536.52,563.76" fill="#fff900" stroke="#fff900"/>
<polygon points="521.85,575.35 514.45,571.6 518.12,564.04 525.5,567.73" fill="#ffe500" stroke="#ffe500"/>
<polygon points="510.79,579.19 503.35,575.39 507.03,567.86 514.45,571.6" fill="#ffd100" stroke="#ffd100"/>
<polygon points="499.69,582.94 492.22,579.08 495.9,571.59 503.35,575.39" fill="#ffbe00" stroke="#ffbe00"/>
<polygon points="488.56,586.6 481.05,582.69 484.74,575.23 492.22,579.08" fill="#ffab00" stroke="#ffab00"/>
<polygon points="583.84,558.27 576.62,554.79 580.27,547 587.47,550.41" fill="#bcff00" stroke="#bcff00"/>
<polygon points="551.18,571.04 543.86,567.4 547.51,559.71 554.81,563.28" fill="#fdff00" stroke="#fdff00"/>
<polygon points="529.24,579.1 521.85,575.35 525.5,567.73 532.87,571.42" fill="#ffd800" stroke="#ffd800"/>
<polygon points="496.05,590.52 488.56,586.6 492.22,579.08 499.69,582.94" fill="#ff9d00" stroke="#ff9d00"/>
<polygon points="572.99,562.61 565.73,559.08 569.38,551.33 576.62,554.79" fill="#d2ff00" stroke="#d2ff00"/>
<polygon points="562.1,566.87 554.81,563.28 558.46,555.56 565.73,559.08" fill="#e8ff00" stroke="#e8ff00"/>
<polygon points="540.22,575.11 532.87,571.42 536.52,563.76 543.86,567.4" fill="#ffec00" stroke="#ffec00"/>
<polygon points="518.21,583 510.79,579.19 514.45,571.6 521.85,575.35" fill="#ffc400" stroke="#ffc400"/>
<polygon points="507.15,586.8 499.69,582.94 503.35,575.39 510.79,579.19" fill="#ffb000" stroke="#ffb000"/>
<polygon points="580.23,566.15 572.99,562.61 576.62,554.79 583.84,558.27" fill="#deff00" stroke="#deff00"/>
<polygon points="558.49,574.68 551.18,571.04 554.81,563.28 562.1,566.87" fill="#fff500" stroke="#fff500"/>
<polygon points="547.57,578.82 540.22,575.11 543.86,567.4 551.18,571.04" fill="#ffe000" stroke="#ffe000"/>
<polygon points="536.61,582.86 529.24,579.1 532.87,571.42 540.22,575.11" fill="#ffcb00" stroke="#ffcb00"/>
<polygon points="525.62,586.81 518.21,583 521.85,575.35 529.24,579.1" fill="#ffb700" stroke="#ffb700"/>
<polygon points="503.54,594.44 496.05,590.52 499.69,582.94 507.15,586.8" fill="#ff9000" stroke="#ff9000"/>
<polygon points="569.37,570.46 562.1,566.87 565.73,559.08 572.99,562.61" fill="#f4ff00" stroke="#f4ff00"/>
<polygon points="514.6,590.67 507.15,586.8 510.79,579.19 518.21,583" fill="#ffa300" stroke="#ffa300"/>
<polygon points="543.98,586.62 536.61,582.86 540.22,575.11 547.57,578.82" fill="#ffbe00" stroke="#ffbe00"/>
<polygon points="576.64,574.06 569.37,570.46 572.99,562.61 580.23,566.15" fill="#fffe00" stroke="#fffe00"/>
<polygon points="565.78,578.34 558.49,574.68 562.1,566.87 569.37,570.46" fill="#ffe800" stroke="#ffe800"/>
<polygon points="554.9,582.53 547.57,578.82 551.18,571.04 558.49,574.68" fill="#ffd300" stroke="#ffd300"/>
<polygon points="533.02,590.63 525.62,586.81 529.24,579.1 536.61,582.86" fill="#ffaa00" stroke="#ffaa00"/>
<polygon points="522.03,594.55 514.6,590.67 518.21,583 525.62,586.81" fill="#ff9600" stroke="#ff9600"/>
<polygon points="511,598.38 503.54,594.44 507.15,586.8 514.6,590.67" fill="#ff8200" stroke="#ff8200"/>
<polygon points="573.07,582 565.78,578.34 569.37,570.46 576.64,574.06" fill="#ffdc00" stroke="#ffdc00"/>
<polygon points="551.33,590.39 543.98,586.62 547.57,578.82 554.9,582.53" fill="#ffb200" stroke="#ffb200"/>
<polygon points="540.41,594.46 533.02,590.63 536.61,582.86 543.98,586.62" fill="#ff9d00" stroke="#ff9d00"/>
<polygon points="518.46,602.31 511,598.38 514.6,590.67 522.03,594.55" fill="#ff7500" stroke="#ff7500"/>
<polygon points="562.21,586.24 554.9,582.53 558.49,574.68 565.78,578.34" fill="#ffc700" stroke="#ffc700"/>
<polygon points="529.45,598.43 522.03,594.55 525.62,586.81 533.02,590.63" fill="#ff8900" stroke="#ff8900"/>
<polygon points="569.52,589.96 562.21,586.24 565.78,578.34 573.07,582" fill="#ffba00" stroke="#ffba00"/>
<polygon points="558.67,594.17 551.33,590.39 554.9,582.53 562.21,586.24" fill="#ffa500" stroke="#ffa500"/>
<polygon points="547.78,598.29 540.41,594.46 543.98,586.62 551.33,590.39" fill="#ff9000" stroke="#ff9000"/>
<polygon points="536.86,602.32 529.45,598.43 533.02,590.63 540.41,594.46" fill="#ff7c00" stroke="#ff7c00"/>
<polygon points="525.9,606.26 518.46,602.31 522.03,594.55 529.45,598.43" fill="#ff6800" stroke="#ff6800"/>
<polygon points="565.99,597.95 558.67,594.17 562.21,586.24 569.52,589.96" fill="#ff9800" stroke="#ff9800"/>
<polygon points="533.33,610.21 525.9,606.26 529.45,598.43 536.86,602.32" fill="#ff5a00" stroke="#ff5a00"/>
<polygon points="555.14,602.13 547.78,598.29 551.33,590.39 558.67,594.17" fill="#ff8300" stroke="#ff8300"/>
<polygon points="544.25,606.21 536.86,602.32 540.41,594.46 547.78,598.29" fill="#ff6e00" stroke="#ff6e00"/>
<polygon points="562.48,605.97 555.14,602.13 558.67,594.17 565.99,597.95" fill="#ff7600" stroke="#ff7600"/>
<polygon points="540.74,614.17 533.33,610.21 536.86,602.32 544.25,606.21" fill="#ff4d00" stroke="#ff4d00"/>
<polygon points="551.63,610.12 544.25,606.21 547.78,598.29 555.14,602.13" fill="#ff6100" stroke="#ff6100"/>
<polygon points="559,614.02 551.63,610.12 555.14,602.13 562.48,605.97" fill="#ff5400" stroke="#ff5400"/>
<polygon points="548.14,618.13 540.74,614.17 544.25,606.21 551.63,610.12" fill="#ff4000" stroke="#ff4000"/>
<polygon points="555.53,622.1 548.14,618.13 551.63,610.12 559,614.02" fill="#ff3200" stroke="#ff3200"/>
</g>
<g fill="none" stroke="#1e1e1e" stroke-width="0.7" stroke-linejoin="round">
<polyline points="555.53,622.1 562.48,605.97 569.52,589.96 576.64,574.06 583.84,558.27 591.13,542.59 598.5,527.02 605.95,511.57 613.48,496.22 621.1,480.99 628.81,465.87"/>
<polyline points="555.53,622.1 540.74,614.17 525.9,606.26 511,598.38 496.05,590.52 481.05,582.69 466,574.88 450.9,567.1 435.74,559.34 420.53,551.61 405.27,543.91"/>
<polyline points="548.14,618.13 555.14,602.13 562.21,586.24 569.37,570.46 576.62,554.79 583.94,539.24 591.35,523.79 598.84,508.46 606.42,493.23 614.08,478.12 621.82,463.12"/>
<polyline points="559,614.02 544.25,606.21 529.45,598.43 514.6,590.67 499.69,582.94 484.74,575.23 469.73,567.55 454.67,559.89 439.56,552.26 424.4,544.65 409.19,537.06"/>
<polyline points="540.74,614.17 547.78,598.29 554.9,582.53 562.1,566.87 569.38,551.33 576.75,535.89 584.2,520.57 591.73,505.35 599.34,490.25 607.04,475.26 614.82,460.37"/>
<polyline points="562.48,605.97 547.78,598.29 533.02,590.63 518.21,583 503.35,575.39 488.44,567.8 473.48,560.24 458.47,552.71 443.41,545.19 428.29,537.71 413.13,530.25"/>
<polyline points="533.33,610.21 540.41,594.46 547.57,578.82 554.81,563.28 562.14,547.86 569.54,532.55 577.03,517.35 584.6,502.25 592.26,487.27 599.99,472.4 607.81,457.63"/>
<polyline points="565.99,597.95 551.33,590.39 536.61,582.86 521.85,575.35 507.03,567.86 492.17,560.4 477.25,552.96 462.29,545.55 447.27,538.16 432.2,530.79 417.09,523.45"/>
<polyline points="525.9,606.26 533.02,590.63 540.22,575.11 547.51,559.71 554.88,544.41 562.33,529.22 569.86,514.13 577.47,499.16 585.16,484.3 592.93,469.54 600.79,454.9"/>
<polyline points="569.52,589.96 554.9,582.53 540.22,575.11 525.5,567.73 510.73,560.36 495.91,553.02 481.04,545.71 466.12,538.42 451.15,531.15 436.13,523.9 421.06,516.68"/>
<polyline points="518.46,602.31 525.62,586.81 532.87,571.42 540.2,556.13 547.61,540.95 555.1,525.89 562.67,510.93 570.32,496.07 578.05,481.33 585.87,466.69 593.76,452.17"/>
<polyline points="573.07,582 558.49,574.68 543.86,567.4 529.18,560.13 514.45,552.89 499.67,545.67 484.85,538.48 469.98,531.31 455.05,524.16 440.08,517.04 425.06,509.94"/>
<polyline points="511,598.38 518.21,583 525.5,567.73 532.87,552.56 540.33,537.51 547.86,522.56 555.47,507.72 563.16,492.99 570.94,478.37 578.79,463.85 586.73,449.44"/>
<polyline points="576.64,574.06 562.1,566.87 547.51,559.71 532.87,552.56 518.19,545.44 503.46,538.35 488.68,531.28 473.85,524.23 458.97,517.2 444.05,510.2 429.07,503.22"/>
<polyline points="503.54,594.44 510.79,579.19 518.12,564.04 525.54,549 533.03,534.07 540.61,519.24 548.26,504.52 556,489.91 563.81,475.41 571.71,461.01 579.68,446.72"/>
<polyline points="580.23,566.15 565.73,559.08 551.18,552.04 536.59,545.02 521.95,538.03 507.26,531.05 492.52,524.1 477.74,517.17 462.91,510.27 448.03,503.39 433.11,496.53"/>
<polyline points="496.05,590.52 503.35,575.39 510.73,560.36 518.19,545.44 525.73,530.63 533.34,515.93 541.04,501.33 548.82,486.84 556.67,472.45 564.61,458.18 572.62,444"/>
<polyline points="583.84,558.27 569.38,551.33 554.88,544.41 540.33,537.51 525.73,530.63 511.08,523.78 496.39,516.95 481.65,510.14 466.87,503.36 452.04,496.6 437.16,489.86"/>
<polyline points="488.56,586.6 495.9,571.59 503.33,556.69 510.83,541.89 518.41,527.2 526.07,512.62 533.81,498.14 541.63,483.77 549.53,469.51 557.5,455.35 565.56,441.29"/>
<polyline points="587.47,550.41 573.06,543.59 558.59,536.8 544.08,530.02 529.53,523.27 514.92,516.54 500.28,509.83 485.58,503.14 470.84,496.48 456.06,489.83 441.23,483.21"/>
<polyline points="481.05,582.69 488.44,567.8 495.91,553.02 503.46,538.35 511.08,523.78 518.79,509.32 526.57,494.96 534.43,480.71 542.37,466.56 550.39,452.52 558.49,438.59"/>
<polyline points="591.13,542.59 576.75,535.89 562.33,529.22 547.86,522.56 533.34,515.93 518.79,509.32 504.18,502.73 489.53,496.16 474.84,489.62 460.1,483.1 445.32,476.59"/>
<polyline points="473.53,578.78 480.97,564.02 488.48,549.36 496.07,534.81 503.74,520.36 511.49,506.02 519.32,491.78 527.22,477.65 535.2,463.62 543.26,449.7 551.4,435.88"/>
<polyline points="594.8,534.79 580.46,528.22 566.08,521.66 551.65,515.13 537.18,508.62 522.67,502.13 508.11,495.66 493.5,489.21 478.85,482.79 464.16,476.38 449.42,470"/>
<polyline points="466,574.88 473.48,560.24 481.04,545.71 488.68,531.28 496.39,516.95 504.18,502.73 512.05,488.61 520,474.6 528.02,460.69 536.13,446.88 544.31,433.18"/>
<polyline points="598.5,527.02 584.2,520.57 569.86,514.13 555.47,507.72 541.04,501.33 526.57,494.96 512.05,488.61 497.49,482.29 482.89,475.98 468.24,469.69 453.55,463.43"/>
<polyline points="458.46,570.99 465.98,556.47 473.59,542.06 481.27,527.75 489.03,513.55 496.86,499.44 504.78,485.45 512.77,471.55 520.84,457.76 528.98,444.07 537.2,430.49"/>
<polyline points="602.21,519.28 587.95,512.95 573.65,506.63 559.31,500.34 544.92,494.07 530.49,487.82 516.02,481.59 501.5,475.38 486.94,469.2 472.34,463.03 457.69,456.88"/>
<polyline points="450.9,567.1 458.47,552.71 466.12,538.42 473.85,524.23 481.65,510.14 489.53,496.16 497.49,482.29 505.53,468.51 513.64,454.84 521.83,441.27 530.09,427.8"/>
<polyline points="605.95,511.57 591.73,505.35 577.47,499.16 563.16,492.99 548.82,486.84 534.43,480.71 520,474.6 505.53,468.51 491.01,462.44 476.45,456.39 461.86,450.36"/>
<polyline points="443.32,563.22 450.95,548.95 458.64,534.78 466.42,520.71 474.27,506.75 482.19,492.89 490.2,479.13 498.27,465.47 506.43,451.92 514.66,438.47 522.97,425.12"/>
<polyline points="609.71,503.88 595.53,497.79 581.3,491.72 567.04,485.66 552.74,479.63 538.39,473.62 524,467.63 509.57,461.66 495.1,455.71 480.59,449.78 466.04,443.87"/>
<polyline points="435.74,559.34 443.41,545.19 451.15,531.15 458.97,517.2 466.87,503.36 474.84,489.62 482.89,475.98 491.01,462.44 499.21,449 507.49,435.67 515.84,422.44"/>
<polyline points="613.48,496.22 599.34,490.25 585.16,484.3 570.94,478.37 556.67,472.45 542.37,466.56 528.02,460.69 513.64,454.84 499.21,449 484.74,443.19 470.24,437.4"/>
<polyline points="428.14,555.47 435.86,541.45 443.65,527.52 451.52,513.7 459.46,499.98 467.48,486.35 475.57,472.83 483.74,459.41 491.98,446.1 500.3,432.88 508.7,419.76"/>
<polyline points="617.28,488.59 603.18,482.74 589.04,476.91 574.85,471.09 560.63,465.3 546.37,459.53 532.07,453.77 517.72,448.04 503.34,442.32 488.92,436.63 474.45,430.95"/>
<polyline points="420.53,551.61 428.29,537.71 436.13,523.9 444.05,510.2 452.04,496.6 460.1,483.1 468.24,469.69 476.45,456.39 484.74,443.19 493.11,430.09 501.55,417.09"/>
<polyline points="621.1,480.99 607.04,475.26 592.93,469.54 578.79,463.85 564.61,458.18 550.39,452.52 536.13,446.88 521.83,441.27 507.49,435.67 493.11,430.09 478.69,424.53"/>
<polyline points="412.9,547.76 420.72,533.97 428.6,520.29 436.57,506.71 444.6,493.23 452.71,479.84 460.9,466.56 469.16,453.38 477.49,440.29 485.9,427.31 494.39,414.42"/>
<polyline points="624.94,473.41 610.92,467.8 596.85,462.21 582.75,456.63 568.61,451.08 554.43,445.54 540.21,440.02 525.95,434.52 511.65,429.04 497.32,423.58 482.95,418.13"/>
<polyline points="405.27,543.91 413.13,530.25 421.06,516.68 429.07,503.22 437.16,489.86 445.32,476.59 453.55,463.43 461.86,450.36 470.24,437.4 478.69,424.53 487.22,411.76"/>
<polyline points="628.81,465.87 614.82,460.37 600.79,454.9 586.73,449.44 572.62,444 558.49,438.59 544.31,433.18 530.09,427.8 515.84,422.44 501.55,417.09 487.22,411.76"/>
</g>
<text transform="translate(404.2,585.46) scale(0.92,1)" font-family="Liberation Sans, sans-serif" font-size="8.4" font-weight="normal" fill="#333" text-anchor="end" stroke="#333" stroke-width="0.15">-23</text>
<text transform="translate(402.42,564.68) scale(0.92,1)" font-family="Liberation Sans, sans-serif" font-size="8.4" font-weight="normal" fill="#333" text-anchor="end" stroke="#333" stroke-width="0.15">-25.2</text>
<text transform="translate(400.65,543.9) scale(0.92,1)" font-family="Liberation Sans, sans-serif" font-size="8.4" font-weight="normal" fill="#333" text-anchor="end" stroke="#333" stroke-width="0.15">-27.4</text>
<text transform="translate(398.87,523.12) scale(0.92,1)" font-family="Liberation Sans, sans-serif" font-size="8.4" font-weight="normal" fill="#333" text-anchor="end" stroke="#333" stroke-width="0.15">-29.6</text>
<text transform="translate(397.09,502.34) scale(0.92,1)" font-family="Liberation Sans, sans-serif" font-size="8.4" font-weight="normal" fill="#333" text-anchor="end" stroke="#333" stroke-width="0.15">-31.8</text>
<text transform="translate(395.32,481.56) scale(0.92,1)" font-family="Liberation Sans, sans-serif" font-size="8.4" font-weight="normal" fill="#333" text-anchor="end" stroke="#333" stroke-width="0.15">-34</text>
<text transform="translate(404.4,596.46) scale(0.92,1)" font-family="Liberation Sans, sans-serif" font-size="8.4" font-weight="normal" fill="#333" text-anchor="end" stroke="#333" stroke-width="0.15">1</text>
<text transform="translate(626.77,555.66) scale(0.92,1)" font-family="Liberation Sans, sans-serif" font-size="8.4" font-weight="normal" fill="#333" text-anchor="start" stroke="#333" stroke-width="0.15">1</text>
<text transform="translate(440.97,609.63) scale(0.92,1)" font-family="Liberation Sans, sans-serif" font-size="8.4" font-weight="normal" fill="#333" text-anchor="end" stroke="#333" stroke-width="0.15">0.5</text>
<text transform="translate(610,579.04) scale(0.92,1)" font-family="Liberation Sans, sans-serif" font-size="8.4" font-weight="normal" fill="#333" text-anchor="start" stroke="#333" stroke-width="0.15">0.5</text>
<text transform="translate(477.54,622.8) scale(0.92,1)" font-family="Liberation Sans, sans-serif" font-size="8.4" font-weight="normal" fill="#333" text-anchor="end" stroke="#333" stroke-width="0.15">0</text>
<text transform="translate(593.22,602.41) scale(0.92,1)" font-family="Liberation Sans, sans-serif" font-size="8.4" font-weight="normal" fill="#333" text-anchor="start" stroke="#333" stroke-width="0.15">0</text>
<text transform="translate(514.11,635.98) scale(0.92,1)" font-family="Liberation Sans, sans-serif" font-size="8.4" font-weight="normal" fill="#333" text-anchor="end" stroke="#333" stroke-width="0.15">-0.5</text>
<text transform="translate(576.45,625.78) scale(0.92,1)" font-family="Liberation Sans, sans-serif" font-size="8.4" font-weight="normal" fill="#333" text-anchor="start" stroke="#333" stroke-width="0.15">-0.5</text>
<text transform="translate(550.68,649.15) scale(0.92,1)" font-family="Liberation Sans, sans-serif" font-size="8.4" font-weight="normal" fill="#333" text-anchor="end" stroke="#333" stroke-width="0.15">-1</text>
<text transform="translate(559.68,649.15) scale(0.92,1)" font-family="Liberation Sans, sans-serif" font-size="8.4" font-weight="normal" fill="#333" text-anchor="start" stroke="#333" stroke-width="0.15">-1</text>
<text transform="translate(374.2,360.3) scale(0.94,1)" font-family="Liberation Sans, sans-serif" font-size="7" font-weight="bold" fill="#111" text-anchor="start" textLength="63.44" lengthAdjust="spacing">Zeta Potential (mV)</text>
<defs><linearGradient id="gd" x1="0" x2="1" y1="0" y2="0"><stop offset="0" stop-color="#0000ff"/><stop offset="0.5" stop-color="#00ff00"/><stop offset="1" stop-color="#ff0000"/></linearGradient></defs>
<rect x="398.3" y="364.7" width="22.5" height="6.6" fill="url(#gd)" stroke="#222" stroke-width="0.6"/>
<text transform="translate(377.2,371.2) scale(0.93,1)" font-family="Liberation Sans, sans-serif" font-size="6.6" font-weight="normal" fill="#5a5aff" text-anchor="start" textLength="18.77" lengthAdjust="spacing" stroke="#5a5aff" stroke-width="0.15">-35.12</text>
<text transform="translate(425,371.2) scale(0.96,1)" font-family="Liberation Sans, sans-serif" font-size="6.6" font-weight="normal" fill="#ff4a4a" text-anchor="start" textLength="18.74" lengthAdjust="spacing" stroke="#ff4a4a" stroke-width="0.15">-24.56</text>
<text transform="translate(374.2,399) scale(0.94,1)" font-family="Liberation Sans, sans-serif" font-size="6.8" font-weight="normal" fill="#3a3a3a" text-anchor="start" textLength="49.76" lengthAdjust="spacing" stroke="#3a3a3a" stroke-width="0.15">X1 = A: Span 60</text>
<text transform="translate(374.2,407.5) scale(0.94,1)" font-family="Liberation Sans, sans-serif" font-size="6.8" font-weight="normal" fill="#3a3a3a" text-anchor="start" textLength="62.23" lengthAdjust="spacing" stroke="#3a3a3a" stroke-width="0.15">X2 = C: Egg Lecithin</text>
<text transform="translate(374.2,424.1) scale(0.92,1)" font-family="Liberation Sans, sans-serif" font-size="6.8" font-weight="bold" fill="#111" text-anchor="start" textLength="43.89" lengthAdjust="spacing">Coded Factor</text>
<text transform="translate(374.2,432.8) scale(0.94,1)" font-family="Liberation Sans, sans-serif" font-size="6.8" font-weight="normal" fill="#3a3a3a" text-anchor="start" textLength="67.52" lengthAdjust="spacing" stroke="#3a3a3a" stroke-width="0.15">B: Cholesterol = 0.000</text>
<text transform="translate(365,519.4) rotate(-90)" x="0" y="0" font-family="Liberation Sans, sans-serif" font-size="8.5" fill="#333" stroke="#333" stroke-width="0.12" text-anchor="middle" textLength="68.3" lengthAdjust="spacing">Zeta Potential (mV)</text>
<text transform="translate(435,652.5) scale(0.93,1)" font-family="Liberation Sans, sans-serif" font-size="8.1" font-weight="normal" fill="#333" text-anchor="start" textLength="40.14" lengthAdjust="spacing" stroke="#333" stroke-width="0.15">A: Span 60</text>
<text transform="translate(611.1,614.2) scale(0.95,1)" font-family="Liberation Sans, sans-serif" font-size="8.1" font-weight="normal" fill="#333" text-anchor="start" textLength="54.98" lengthAdjust="spacing" stroke="#333" stroke-width="0.15">C: Egg Lecithin</text>
<text transform="translate(647.5,364.6)" font-family="Liberation Serif, serif" font-size="18" font-weight="normal" fill="#111" text-anchor="start" textLength="21.6" lengthAdjust="spacing">(d)</text>
</svg>
</body></html>
